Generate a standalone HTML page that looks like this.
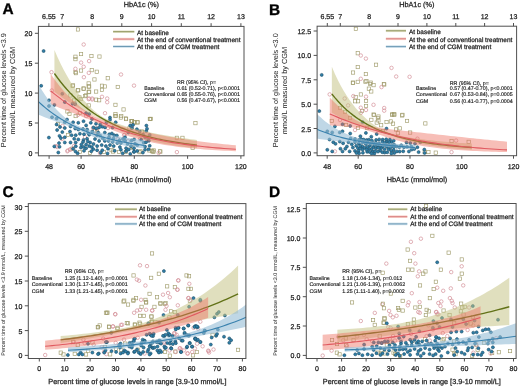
<!DOCTYPE html>
<html><head><meta charset="utf-8"><style>
html,body{margin:0;padding:0;background:#fff;}
svg{display:block;font-family:"Liberation Sans", sans-serif;will-change:transform;text-rendering:geometricPrecision;}
</style></head><body>
<svg width="520" height="386" viewBox="0 0 520 386">
<rect width="520" height="386" fill="#fff"/>
<rect x="76.3" y="27.8" width="3.3" height="3.3" fill="none" stroke="#a09c6c" stroke-width="0.65"/>
<rect x="79.4" y="52.4" width="3.3" height="3.3" fill="none" stroke="#a09c6c" stroke-width="0.65"/>
<rect x="89.8" y="54.4" width="3.3" height="3.3" fill="none" stroke="#a09c6c" stroke-width="0.65"/>
<rect x="97.8" y="54.9" width="3.3" height="3.3" fill="none" stroke="#a09c6c" stroke-width="0.65"/>
<rect x="73.8" y="55.1" width="3.3" height="3.3" fill="none" stroke="#a09c6c" stroke-width="0.65"/>
<rect x="73.8" y="57.5" width="3.3" height="3.3" fill="none" stroke="#a09c6c" stroke-width="0.65"/>
<rect x="79.4" y="68.9" width="3.3" height="3.3" fill="none" stroke="#a09c6c" stroke-width="0.65"/>
<rect x="90.1" y="68.5" width="3.3" height="3.3" fill="none" stroke="#a09c6c" stroke-width="0.65"/>
<rect x="95.1" y="70.1" width="3.3" height="3.3" fill="none" stroke="#a09c6c" stroke-width="0.65"/>
<rect x="73.8" y="70.5" width="3.3" height="3.3" fill="none" stroke="#a09c6c" stroke-width="0.65"/>
<rect x="70.9" y="84.1" width="3.3" height="3.3" fill="none" stroke="#a09c6c" stroke-width="0.65"/>
<rect x="76.1" y="88.8" width="3.3" height="3.3" fill="none" stroke="#a09c6c" stroke-width="0.65"/>
<rect x="82.2" y="87.0" width="3.3" height="3.3" fill="none" stroke="#a09c6c" stroke-width="0.65"/>
<rect x="87.0" y="81.8" width="3.3" height="3.3" fill="none" stroke="#a09c6c" stroke-width="0.65"/>
<rect x="87.0" y="84.8" width="3.3" height="3.3" fill="none" stroke="#a09c6c" stroke-width="0.65"/>
<rect x="87.0" y="90.5" width="3.3" height="3.3" fill="none" stroke="#a09c6c" stroke-width="0.65"/>
<rect x="94.5" y="89.9" width="3.3" height="3.3" fill="none" stroke="#a09c6c" stroke-width="0.65"/>
<rect x="92.8" y="77.8" width="3.3" height="3.3" fill="none" stroke="#a09c6c" stroke-width="0.65"/>
<rect x="74.3" y="71.5" width="3.3" height="3.3" fill="none" stroke="#a09c6c" stroke-width="0.65"/>
<rect x="83.6" y="94.5" width="3.3" height="3.3" fill="none" stroke="#a09c6c" stroke-width="0.65"/>
<rect x="94.5" y="98.0" width="3.3" height="3.3" fill="none" stroke="#a09c6c" stroke-width="0.65"/>
<rect x="79.0" y="97.4" width="3.3" height="3.3" fill="none" stroke="#a09c6c" stroke-width="0.65"/>
<rect x="87.0" y="103.8" width="3.3" height="3.3" fill="none" stroke="#a09c6c" stroke-width="0.65"/>
<rect x="106.1" y="76.6" width="3.3" height="3.3" fill="none" stroke="#a09c6c" stroke-width="0.65"/>
<rect x="100.3" y="84.1" width="3.3" height="3.3" fill="none" stroke="#a09c6c" stroke-width="0.65"/>
<rect x="103.2" y="84.8" width="3.3" height="3.3" fill="none" stroke="#a09c6c" stroke-width="0.65"/>
<rect x="100.3" y="88.2" width="3.3" height="3.3" fill="none" stroke="#a09c6c" stroke-width="0.65"/>
<rect x="116.1" y="85.3" width="3.3" height="3.3" fill="none" stroke="#a09c6c" stroke-width="0.65"/>
<rect x="97.5" y="98.6" width="3.3" height="3.3" fill="none" stroke="#a09c6c" stroke-width="0.65"/>
<rect x="113.8" y="103.2" width="3.3" height="3.3" fill="none" stroke="#a09c6c" stroke-width="0.65"/>
<rect x="121.9" y="107.8" width="3.3" height="3.3" fill="none" stroke="#a09c6c" stroke-width="0.65"/>
<rect x="70.8" y="147.0" width="3.3" height="3.3" fill="none" stroke="#a09c6c" stroke-width="0.65"/>
<rect x="113.8" y="112.6" width="3.3" height="3.3" fill="none" stroke="#a09c6c" stroke-width="0.65"/>
<rect x="113.8" y="114.4" width="3.3" height="3.3" fill="none" stroke="#a09c6c" stroke-width="0.65"/>
<rect x="119.6" y="114.4" width="3.3" height="3.3" fill="none" stroke="#a09c6c" stroke-width="0.65"/>
<rect x="124.3" y="116.8" width="3.3" height="3.3" fill="none" stroke="#a09c6c" stroke-width="0.65"/>
<rect x="130.2" y="119.6" width="3.3" height="3.3" fill="none" stroke="#a09c6c" stroke-width="0.65"/>
<rect x="132.4" y="120.8" width="3.3" height="3.3" fill="none" stroke="#a09c6c" stroke-width="0.65"/>
<rect x="135.9" y="120.8" width="3.3" height="3.3" fill="none" stroke="#a09c6c" stroke-width="0.65"/>
<rect x="148.2" y="117.3" width="3.3" height="3.3" fill="none" stroke="#a09c6c" stroke-width="0.65"/>
<rect x="127.8" y="126.7" width="3.3" height="3.3" fill="none" stroke="#a09c6c" stroke-width="0.65"/>
<rect x="140.7" y="130.2" width="3.3" height="3.3" fill="none" stroke="#a09c6c" stroke-width="0.65"/>
<rect x="130.2" y="145.3" width="3.3" height="3.3" fill="none" stroke="#a09c6c" stroke-width="0.65"/>
<rect x="137.8" y="150.5" width="3.3" height="3.3" fill="none" stroke="#a09c6c" stroke-width="0.65"/>
<rect x="147.7" y="148.8" width="3.3" height="3.3" fill="none" stroke="#a09c6c" stroke-width="0.65"/>
<rect x="152.2" y="148.8" width="3.3" height="3.3" fill="none" stroke="#a09c6c" stroke-width="0.65"/>
<rect x="111.5" y="149.9" width="3.3" height="3.3" fill="none" stroke="#a09c6c" stroke-width="0.65"/>
<rect x="193.8" y="121.5" width="3.3" height="3.3" fill="none" stroke="#a09c6c" stroke-width="0.65"/>
<rect x="175.2" y="136.2" width="3.3" height="3.3" fill="none" stroke="#a09c6c" stroke-width="0.65"/>
<rect x="180.8" y="136.2" width="3.3" height="3.3" fill="none" stroke="#a09c6c" stroke-width="0.65"/>
<rect x="191.0" y="146.2" width="3.3" height="3.3" fill="none" stroke="#a09c6c" stroke-width="0.65"/>
<rect x="150.8" y="149.7" width="3.3" height="3.3" fill="none" stroke="#a09c6c" stroke-width="0.65"/>
<rect x="158.7" y="149.9" width="3.3" height="3.3" fill="none" stroke="#a09c6c" stroke-width="0.65"/>
<rect x="149.2" y="117.2" width="3.3" height="3.3" fill="none" stroke="#a09c6c" stroke-width="0.65"/>
<rect x="114.0" y="114.3" width="3.3" height="3.3" fill="none" stroke="#a09c6c" stroke-width="0.65"/>
<rect x="119.2" y="115.9" width="3.3" height="3.3" fill="none" stroke="#a09c6c" stroke-width="0.65"/>
<rect x="124.4" y="117.4" width="3.3" height="3.3" fill="none" stroke="#a09c6c" stroke-width="0.65"/>
<rect x="129.7" y="119.5" width="3.3" height="3.3" fill="none" stroke="#a09c6c" stroke-width="0.65"/>
<rect x="95.4" y="129.9" width="3.3" height="3.3" fill="none" stroke="#a09c6c" stroke-width="0.65"/>
<rect x="109.9" y="148.5" width="3.3" height="3.3" fill="none" stroke="#a09c6c" stroke-width="0.65"/>
<rect x="148.5" y="117.4" width="3.3" height="3.3" fill="none" stroke="#a09c6c" stroke-width="0.65"/>
<rect x="130.4" y="119.5" width="3.3" height="3.3" fill="none" stroke="#a09c6c" stroke-width="0.65"/>
<rect x="133.0" y="120.6" width="3.3" height="3.3" fill="none" stroke="#a09c6c" stroke-width="0.65"/>
<rect x="135.7" y="120.6" width="3.3" height="3.3" fill="none" stroke="#a09c6c" stroke-width="0.65"/>
<rect x="140.2" y="129.9" width="3.3" height="3.3" fill="none" stroke="#a09c6c" stroke-width="0.65"/>
<rect x="138.8" y="149.7" width="3.3" height="3.3" fill="none" stroke="#a09c6c" stroke-width="0.65"/>
<rect x="150.2" y="149.2" width="3.3" height="3.3" fill="none" stroke="#a09c6c" stroke-width="0.65"/>
<rect x="151.7" y="150.2" width="3.3" height="3.3" fill="none" stroke="#a09c6c" stroke-width="0.65"/>
<rect x="158.3" y="149.7" width="3.3" height="3.3" fill="none" stroke="#a09c6c" stroke-width="0.65"/>
<rect x="71.4" y="83.8" width="3.3" height="3.3" fill="none" stroke="#a09c6c" stroke-width="0.65"/>
<rect x="76.6" y="88.5" width="3.3" height="3.3" fill="none" stroke="#a09c6c" stroke-width="0.65"/>
<rect x="81.8" y="86.9" width="3.3" height="3.3" fill="none" stroke="#a09c6c" stroke-width="0.65"/>
<rect x="87.5" y="84.9" width="3.3" height="3.3" fill="none" stroke="#a09c6c" stroke-width="0.65"/>
<rect x="87.5" y="90.0" width="3.3" height="3.3" fill="none" stroke="#a09c6c" stroke-width="0.65"/>
<rect x="84.4" y="93.8" width="3.3" height="3.3" fill="none" stroke="#a09c6c" stroke-width="0.65"/>
<rect x="77.8" y="95.8" width="3.3" height="3.3" fill="none" stroke="#a09c6c" stroke-width="0.65"/>
<rect x="68.8" y="93.8" width="3.3" height="3.3" fill="none" stroke="#a09c6c" stroke-width="0.65"/>
<rect x="72.5" y="98.8" width="3.3" height="3.3" fill="none" stroke="#a09c6c" stroke-width="0.65"/>
<rect x="78.2" y="111.3" width="3.3" height="3.3" fill="none" stroke="#a09c6c" stroke-width="0.65"/>
<rect x="74.0" y="114.4" width="3.3" height="3.3" fill="none" stroke="#a09c6c" stroke-width="0.65"/>
<rect x="65.8" y="109.8" width="3.3" height="3.3" fill="none" stroke="#a09c6c" stroke-width="0.65"/>
<rect x="67.8" y="112.3" width="3.3" height="3.3" fill="none" stroke="#a09c6c" stroke-width="0.65"/>
<rect x="93.3" y="129.3" width="3.3" height="3.3" fill="none" stroke="#a09c6c" stroke-width="0.65"/>
<rect x="78.3" y="150.3" width="3.3" height="3.3" fill="none" stroke="#a09c6c" stroke-width="0.65"/>
<rect x="102.3" y="150.3" width="3.3" height="3.3" fill="none" stroke="#a09c6c" stroke-width="0.65"/>
<rect x="117.3" y="150.3" width="3.3" height="3.3" fill="none" stroke="#a09c6c" stroke-width="0.65"/>
<rect x="124.3" y="150.3" width="3.3" height="3.3" fill="none" stroke="#a09c6c" stroke-width="0.65"/>
<rect x="131.3" y="146.3" width="3.3" height="3.3" fill="none" stroke="#a09c6c" stroke-width="0.65"/>
<rect x="88.3" y="151.3" width="3.3" height="3.3" fill="none" stroke="#a09c6c" stroke-width="0.65"/>
<rect x="66.3" y="133.3" width="3.3" height="3.3" fill="none" stroke="#a09c6c" stroke-width="0.65"/>
<rect x="56.4" y="122.3" width="3.3" height="3.3" fill="none" stroke="#a09c6c" stroke-width="0.65"/>
<circle cx="83.7" cy="44.5" r="1.75" fill="none" stroke="#d4909a" stroke-width="0.7"/>
<circle cx="81.1" cy="62.6" r="1.75" fill="none" stroke="#d4909a" stroke-width="0.7"/>
<circle cx="89.1" cy="61.1" r="1.75" fill="none" stroke="#d4909a" stroke-width="0.7"/>
<circle cx="83.7" cy="66.8" r="1.75" fill="none" stroke="#d4909a" stroke-width="0.7"/>
<circle cx="75.4" cy="68.8" r="1.75" fill="none" stroke="#d4909a" stroke-width="0.7"/>
<circle cx="51.5" cy="72.2" r="1.75" fill="none" stroke="#d4909a" stroke-width="0.7"/>
<circle cx="88.8" cy="72.9" r="1.75" fill="none" stroke="#d4909a" stroke-width="0.7"/>
<circle cx="121.0" cy="74.5" r="1.75" fill="none" stroke="#d4909a" stroke-width="0.7"/>
<circle cx="51.8" cy="90.5" r="1.75" fill="none" stroke="#d4909a" stroke-width="0.7"/>
<circle cx="88.7" cy="99.1" r="1.75" fill="none" stroke="#d4909a" stroke-width="0.7"/>
<circle cx="83.9" cy="77.2" r="1.75" fill="none" stroke="#d4909a" stroke-width="0.7"/>
<circle cx="92.2" cy="98.5" r="1.75" fill="none" stroke="#d4909a" stroke-width="0.7"/>
<circle cx="74.9" cy="103.1" r="1.75" fill="none" stroke="#d4909a" stroke-width="0.7"/>
<circle cx="134.0" cy="85.6" r="1.75" fill="none" stroke="#d4909a" stroke-width="0.7"/>
<circle cx="102.0" cy="96.8" r="1.75" fill="none" stroke="#d4909a" stroke-width="0.7"/>
<circle cx="107.2" cy="98.5" r="1.75" fill="none" stroke="#d4909a" stroke-width="0.7"/>
<circle cx="107.2" cy="102.2" r="1.75" fill="none" stroke="#d4909a" stroke-width="0.7"/>
<circle cx="57.2" cy="147.0" r="1.75" fill="none" stroke="#d4909a" stroke-width="0.7"/>
<circle cx="67.7" cy="150.5" r="1.75" fill="none" stroke="#d4909a" stroke-width="0.7"/>
<circle cx="70.0" cy="149.3" r="1.75" fill="none" stroke="#d4909a" stroke-width="0.7"/>
<circle cx="62.5" cy="126.0" r="1.75" fill="none" stroke="#d4909a" stroke-width="0.7"/>
<circle cx="105.0" cy="113.2" r="1.75" fill="none" stroke="#d4909a" stroke-width="0.7"/>
<circle cx="131.8" cy="126.6" r="1.75" fill="none" stroke="#d4909a" stroke-width="0.7"/>
<circle cx="124.8" cy="134.7" r="1.75" fill="none" stroke="#d4909a" stroke-width="0.7"/>
<circle cx="122.5" cy="129.5" r="1.75" fill="none" stroke="#d4909a" stroke-width="0.7"/>
<circle cx="176.9" cy="152.1" r="1.75" fill="none" stroke="#d4909a" stroke-width="0.7"/>
<circle cx="158.7" cy="152.9" r="1.75" fill="none" stroke="#d4909a" stroke-width="0.7"/>
<circle cx="67.4" cy="151.3" r="1.75" fill="none" stroke="#d4909a" stroke-width="0.7"/>
<circle cx="70.5" cy="149.7" r="1.75" fill="none" stroke="#d4909a" stroke-width="0.7"/>
<circle cx="56.0" cy="146.1" r="1.75" fill="none" stroke="#d4909a" stroke-width="0.7"/>
<circle cx="97.1" cy="128.5" r="1.75" fill="none" stroke="#d4909a" stroke-width="0.7"/>
<circle cx="131.3" cy="126.4" r="1.75" fill="none" stroke="#d4909a" stroke-width="0.7"/>
<circle cx="124.0" cy="135.2" r="1.75" fill="none" stroke="#d4909a" stroke-width="0.7"/>
<circle cx="131.0" cy="126.4" r="1.75" fill="none" stroke="#d4909a" stroke-width="0.7"/>
<circle cx="89.2" cy="98.5" r="1.75" fill="none" stroke="#d4909a" stroke-width="0.7"/>
<circle cx="92.3" cy="99.5" r="1.75" fill="none" stroke="#d4909a" stroke-width="0.7"/>
<circle cx="86.1" cy="116.1" r="1.75" fill="none" stroke="#d4909a" stroke-width="0.7"/>
<circle cx="77.8" cy="115.0" r="1.75" fill="none" stroke="#d4909a" stroke-width="0.7"/>
<circle cx="93.0" cy="128.0" r="1.75" fill="none" stroke="#d4909a" stroke-width="0.7"/>
<circle cx="96.0" cy="134.0" r="1.75" fill="none" stroke="#d4909a" stroke-width="0.7"/>
<circle cx="85.0" cy="137.0" r="1.75" fill="none" stroke="#d4909a" stroke-width="0.7"/>
<circle cx="108.0" cy="128.0" r="1.75" fill="none" stroke="#d4909a" stroke-width="0.7"/>
<circle cx="118.0" cy="139.0" r="1.75" fill="none" stroke="#d4909a" stroke-width="0.7"/>
<circle cx="74.0" cy="146.0" r="1.75" fill="none" stroke="#d4909a" stroke-width="0.7"/>
<circle cx="62.0" cy="139.0" r="1.75" fill="none" stroke="#d4909a" stroke-width="0.7"/>
<circle cx="100.0" cy="153.0" r="1.75" fill="none" stroke="#d4909a" stroke-width="0.7"/>
<circle cx="128.0" cy="141.0" r="1.75" fill="none" stroke="#d4909a" stroke-width="0.7"/>
<circle cx="140.0" cy="139.0" r="1.75" fill="none" stroke="#d4909a" stroke-width="0.7"/>
<circle cx="43.6" cy="51.0" r="1.5" fill="#2f7fa8" stroke="#1f4f68" stroke-width="0.6"/>
<circle cx="41.2" cy="85.8" r="1.5" fill="#2f7fa8" stroke="#1f4f68" stroke-width="0.6"/>
<circle cx="49.0" cy="100.3" r="1.5" fill="#2f7fa8" stroke="#1f4f68" stroke-width="0.6"/>
<circle cx="49.0" cy="106.0" r="1.5" fill="#2f7fa8" stroke="#1f4f68" stroke-width="0.6"/>
<circle cx="54.4" cy="104.9" r="1.5" fill="#2f7fa8" stroke="#1f4f68" stroke-width="0.6"/>
<circle cx="52.0" cy="117.2" r="1.5" fill="#2f7fa8" stroke="#1f4f68" stroke-width="0.6"/>
<circle cx="54.3" cy="146.4" r="1.5" fill="#2f7fa8" stroke="#1f4f68" stroke-width="0.6"/>
<circle cx="48.9" cy="137.6" r="1.5" fill="#2f7fa8" stroke="#1f4f68" stroke-width="0.6"/>
<circle cx="56.6" cy="118.6" r="1.5" fill="#2f7fa8" stroke="#1f4f68" stroke-width="0.6"/>
<circle cx="64.8" cy="122.3" r="1.5" fill="#2f7fa8" stroke="#1f4f68" stroke-width="0.6"/>
<circle cx="73.1" cy="122.3" r="1.5" fill="#2f7fa8" stroke="#1f4f68" stroke-width="0.6"/>
<circle cx="78.3" cy="122.8" r="1.5" fill="#2f7fa8" stroke="#1f4f68" stroke-width="0.6"/>
<circle cx="83.5" cy="121.2" r="1.5" fill="#2f7fa8" stroke="#1f4f68" stroke-width="0.6"/>
<circle cx="86.1" cy="125.4" r="1.5" fill="#2f7fa8" stroke="#1f4f68" stroke-width="0.6"/>
<circle cx="90.8" cy="122.8" r="1.5" fill="#2f7fa8" stroke="#1f4f68" stroke-width="0.6"/>
<circle cx="64.8" cy="128.0" r="1.5" fill="#2f7fa8" stroke="#1f4f68" stroke-width="0.6"/>
<circle cx="70.5" cy="126.4" r="1.5" fill="#2f7fa8" stroke="#1f4f68" stroke-width="0.6"/>
<circle cx="57.1" cy="130.0" r="1.5" fill="#2f7fa8" stroke="#1f4f68" stroke-width="0.6"/>
<circle cx="62.3" cy="132.1" r="1.5" fill="#2f7fa8" stroke="#1f4f68" stroke-width="0.6"/>
<circle cx="70.0" cy="131.6" r="1.5" fill="#2f7fa8" stroke="#1f4f68" stroke-width="0.6"/>
<circle cx="75.2" cy="128.5" r="1.5" fill="#2f7fa8" stroke="#1f4f68" stroke-width="0.6"/>
<circle cx="78.3" cy="129.5" r="1.5" fill="#2f7fa8" stroke="#1f4f68" stroke-width="0.6"/>
<circle cx="83.0" cy="129.0" r="1.5" fill="#2f7fa8" stroke="#1f4f68" stroke-width="0.6"/>
<circle cx="87.1" cy="129.5" r="1.5" fill="#2f7fa8" stroke="#1f4f68" stroke-width="0.6"/>
<circle cx="71.6" cy="135.2" r="1.5" fill="#2f7fa8" stroke="#1f4f68" stroke-width="0.6"/>
<circle cx="75.7" cy="135.2" r="1.5" fill="#2f7fa8" stroke="#1f4f68" stroke-width="0.6"/>
<circle cx="79.9" cy="133.7" r="1.5" fill="#2f7fa8" stroke="#1f4f68" stroke-width="0.6"/>
<circle cx="84.0" cy="134.2" r="1.5" fill="#2f7fa8" stroke="#1f4f68" stroke-width="0.6"/>
<circle cx="89.2" cy="134.7" r="1.5" fill="#2f7fa8" stroke="#1f4f68" stroke-width="0.6"/>
<circle cx="92.3" cy="131.6" r="1.5" fill="#2f7fa8" stroke="#1f4f68" stroke-width="0.6"/>
<circle cx="64.8" cy="137.3" r="1.5" fill="#2f7fa8" stroke="#1f4f68" stroke-width="0.6"/>
<circle cx="74.2" cy="138.8" r="1.5" fill="#2f7fa8" stroke="#1f4f68" stroke-width="0.6"/>
<circle cx="78.3" cy="139.4" r="1.5" fill="#2f7fa8" stroke="#1f4f68" stroke-width="0.6"/>
<circle cx="83.5" cy="139.9" r="1.5" fill="#2f7fa8" stroke="#1f4f68" stroke-width="0.6"/>
<circle cx="87.1" cy="138.8" r="1.5" fill="#2f7fa8" stroke="#1f4f68" stroke-width="0.6"/>
<circle cx="64.8" cy="142.5" r="1.5" fill="#2f7fa8" stroke="#1f4f68" stroke-width="0.6"/>
<circle cx="70.5" cy="142.5" r="1.5" fill="#2f7fa8" stroke="#1f4f68" stroke-width="0.6"/>
<circle cx="75.7" cy="142.5" r="1.5" fill="#2f7fa8" stroke="#1f4f68" stroke-width="0.6"/>
<circle cx="83.0" cy="141.9" r="1.5" fill="#2f7fa8" stroke="#1f4f68" stroke-width="0.6"/>
<circle cx="90.2" cy="142.5" r="1.5" fill="#2f7fa8" stroke="#1f4f68" stroke-width="0.6"/>
<circle cx="73.1" cy="148.7" r="1.5" fill="#2f7fa8" stroke="#1f4f68" stroke-width="0.6"/>
<circle cx="80.9" cy="147.6" r="1.5" fill="#2f7fa8" stroke="#1f4f68" stroke-width="0.6"/>
<circle cx="86.1" cy="148.2" r="1.5" fill="#2f7fa8" stroke="#1f4f68" stroke-width="0.6"/>
<circle cx="89.2" cy="146.1" r="1.5" fill="#2f7fa8" stroke="#1f4f68" stroke-width="0.6"/>
<circle cx="93.3" cy="149.2" r="1.5" fill="#2f7fa8" stroke="#1f4f68" stroke-width="0.6"/>
<circle cx="84.0" cy="150.8" r="1.5" fill="#2f7fa8" stroke="#1f4f68" stroke-width="0.6"/>
<circle cx="91.3" cy="151.3" r="1.5" fill="#2f7fa8" stroke="#1f4f68" stroke-width="0.6"/>
<circle cx="88.2" cy="133.1" r="1.5" fill="#2f7fa8" stroke="#1f4f68" stroke-width="0.6"/>
<circle cx="81.4" cy="144.5" r="1.5" fill="#2f7fa8" stroke="#1f4f68" stroke-width="0.6"/>
<circle cx="86.1" cy="144.5" r="1.5" fill="#2f7fa8" stroke="#1f4f68" stroke-width="0.6"/>
<circle cx="110.0" cy="117.6" r="1.5" fill="#2f7fa8" stroke="#1f4f68" stroke-width="0.6"/>
<circle cx="110.0" cy="119.7" r="1.5" fill="#2f7fa8" stroke="#1f4f68" stroke-width="0.6"/>
<circle cx="115.7" cy="122.3" r="1.5" fill="#2f7fa8" stroke="#1f4f68" stroke-width="0.6"/>
<circle cx="99.1" cy="127.4" r="1.5" fill="#2f7fa8" stroke="#1f4f68" stroke-width="0.6"/>
<circle cx="104.8" cy="132.6" r="1.5" fill="#2f7fa8" stroke="#1f4f68" stroke-width="0.6"/>
<circle cx="97.1" cy="135.2" r="1.5" fill="#2f7fa8" stroke="#1f4f68" stroke-width="0.6"/>
<circle cx="100.2" cy="135.7" r="1.5" fill="#2f7fa8" stroke="#1f4f68" stroke-width="0.6"/>
<circle cx="114.2" cy="135.2" r="1.5" fill="#2f7fa8" stroke="#1f4f68" stroke-width="0.6"/>
<circle cx="109.0" cy="137.3" r="1.5" fill="#2f7fa8" stroke="#1f4f68" stroke-width="0.6"/>
<circle cx="102.8" cy="138.3" r="1.5" fill="#2f7fa8" stroke="#1f4f68" stroke-width="0.6"/>
<circle cx="99.1" cy="140.9" r="1.5" fill="#2f7fa8" stroke="#1f4f68" stroke-width="0.6"/>
<circle cx="104.8" cy="140.9" r="1.5" fill="#2f7fa8" stroke="#1f4f68" stroke-width="0.6"/>
<circle cx="108.5" cy="140.9" r="1.5" fill="#2f7fa8" stroke="#1f4f68" stroke-width="0.6"/>
<circle cx="112.6" cy="141.9" r="1.5" fill="#2f7fa8" stroke="#1f4f68" stroke-width="0.6"/>
<circle cx="117.3" cy="143.0" r="1.5" fill="#2f7fa8" stroke="#1f4f68" stroke-width="0.6"/>
<circle cx="120.9" cy="143.0" r="1.5" fill="#2f7fa8" stroke="#1f4f68" stroke-width="0.6"/>
<circle cx="97.1" cy="146.1" r="1.5" fill="#2f7fa8" stroke="#1f4f68" stroke-width="0.6"/>
<circle cx="101.7" cy="145.1" r="1.5" fill="#2f7fa8" stroke="#1f4f68" stroke-width="0.6"/>
<circle cx="105.9" cy="146.1" r="1.5" fill="#2f7fa8" stroke="#1f4f68" stroke-width="0.6"/>
<circle cx="110.0" cy="145.1" r="1.5" fill="#2f7fa8" stroke="#1f4f68" stroke-width="0.6"/>
<circle cx="113.7" cy="146.1" r="1.5" fill="#2f7fa8" stroke="#1f4f68" stroke-width="0.6"/>
<circle cx="119.9" cy="147.1" r="1.5" fill="#2f7fa8" stroke="#1f4f68" stroke-width="0.6"/>
<circle cx="97.1" cy="150.2" r="1.5" fill="#2f7fa8" stroke="#1f4f68" stroke-width="0.6"/>
<circle cx="102.3" cy="150.2" r="1.5" fill="#2f7fa8" stroke="#1f4f68" stroke-width="0.6"/>
<circle cx="108.0" cy="148.7" r="1.5" fill="#2f7fa8" stroke="#1f4f68" stroke-width="0.6"/>
<circle cx="114.7" cy="150.8" r="1.5" fill="#2f7fa8" stroke="#1f4f68" stroke-width="0.6"/>
<circle cx="120.9" cy="149.7" r="1.5" fill="#2f7fa8" stroke="#1f4f68" stroke-width="0.6"/>
<circle cx="126.1" cy="148.2" r="1.5" fill="#2f7fa8" stroke="#1f4f68" stroke-width="0.6"/>
<circle cx="126.1" cy="151.3" r="1.5" fill="#2f7fa8" stroke="#1f4f68" stroke-width="0.6"/>
<circle cx="133.9" cy="151.8" r="1.5" fill="#2f7fa8" stroke="#1f4f68" stroke-width="0.6"/>
<circle cx="127.6" cy="144.0" r="1.5" fill="#2f7fa8" stroke="#1f4f68" stroke-width="0.6"/>
<circle cx="134.1" cy="139.4" r="1.5" fill="#2f7fa8" stroke="#1f4f68" stroke-width="0.6"/>
<circle cx="137.3" cy="145.1" r="1.5" fill="#2f7fa8" stroke="#1f4f68" stroke-width="0.6"/>
<circle cx="145.0" cy="146.6" r="1.5" fill="#2f7fa8" stroke="#1f4f68" stroke-width="0.6"/>
<circle cx="145.0" cy="149.7" r="1.5" fill="#2f7fa8" stroke="#1f4f68" stroke-width="0.6"/>
<circle cx="134.1" cy="151.8" r="1.5" fill="#2f7fa8" stroke="#1f4f68" stroke-width="0.6"/>
<circle cx="131.0" cy="146.1" r="1.5" fill="#2f7fa8" stroke="#1f4f68" stroke-width="0.6"/>
<circle cx="56.6" cy="124.5" r="1.5" fill="#2f7fa8" stroke="#1f4f68" stroke-width="0.6"/>
<circle cx="60.0" cy="127.0" r="1.5" fill="#2f7fa8" stroke="#1f4f68" stroke-width="0.6"/>
<circle cx="67.0" cy="119.5" r="1.5" fill="#2f7fa8" stroke="#1f4f68" stroke-width="0.6"/>
<circle cx="93.5" cy="127.5" r="1.5" fill="#2f7fa8" stroke="#1f4f68" stroke-width="0.6"/>
<circle cx="95.0" cy="139.0" r="1.5" fill="#2f7fa8" stroke="#1f4f68" stroke-width="0.6"/>
<circle cx="93.5" cy="144.0" r="1.5" fill="#2f7fa8" stroke="#1f4f68" stroke-width="0.6"/>
<circle cx="123.0" cy="139.0" r="1.5" fill="#2f7fa8" stroke="#1f4f68" stroke-width="0.6"/>
<circle cx="92.0" cy="119.0" r="1.5" fill="#2f7fa8" stroke="#1f4f68" stroke-width="0.6"/>
<circle cx="62.3" cy="93.8" r="1.5" fill="#2f7fa8" stroke="#1f4f68" stroke-width="0.6"/>
<circle cx="64.8" cy="102.1" r="1.5" fill="#2f7fa8" stroke="#1f4f68" stroke-width="0.6"/>
<circle cx="72.6" cy="103.7" r="1.5" fill="#2f7fa8" stroke="#1f4f68" stroke-width="0.6"/>
<circle cx="75.2" cy="104.2" r="1.5" fill="#2f7fa8" stroke="#1f4f68" stroke-width="0.6"/>
<circle cx="86.1" cy="113.0" r="1.5" fill="#2f7fa8" stroke="#1f4f68" stroke-width="0.6"/>
<circle cx="89.2" cy="114.0" r="1.5" fill="#2f7fa8" stroke="#1f4f68" stroke-width="0.6"/>
<circle cx="143.2" cy="134.7" r="1.5" fill="#2f7fa8" stroke="#1f4f68" stroke-width="0.6"/>
<circle cx="111.9" cy="133.5" r="1.5" fill="#2f7fa8" stroke="#1f4f68" stroke-width="0.6"/>
<circle cx="149.7" cy="134.9" r="1.5" fill="#2f7fa8" stroke="#1f4f68" stroke-width="0.6"/>
<circle cx="148.5" cy="149.3" r="1.5" fill="#2f7fa8" stroke="#1f4f68" stroke-width="0.6"/>
<circle cx="91.8" cy="147.1" r="1.5" fill="#2f7fa8" stroke="#1f4f68" stroke-width="0.6"/>
<circle cx="75.8" cy="146.3" r="1.5" fill="#2f7fa8" stroke="#1f4f68" stroke-width="0.6"/>
<circle cx="134.0" cy="148.2" r="1.5" fill="#2f7fa8" stroke="#1f4f68" stroke-width="0.6"/>
<circle cx="112.5" cy="127.6" r="1.5" fill="#2f7fa8" stroke="#1f4f68" stroke-width="0.6"/>
<circle cx="59.5" cy="135.9" r="1.5" fill="#2f7fa8" stroke="#1f4f68" stroke-width="0.6"/>
<circle cx="96.2" cy="128.4" r="1.5" fill="#2f7fa8" stroke="#1f4f68" stroke-width="0.6"/>
<circle cx="146.4" cy="125.6" r="1.5" fill="#2f7fa8" stroke="#1f4f68" stroke-width="0.6"/>
<circle cx="141.2" cy="139.6" r="1.5" fill="#2f7fa8" stroke="#1f4f68" stroke-width="0.6"/>
<circle cx="130.3" cy="153.9" r="1.5" fill="#2f7fa8" stroke="#1f4f68" stroke-width="0.6"/>
<circle cx="143.7" cy="142.6" r="1.5" fill="#2f7fa8" stroke="#1f4f68" stroke-width="0.6"/>
<circle cx="136.9" cy="129.2" r="1.5" fill="#2f7fa8" stroke="#1f4f68" stroke-width="0.6"/>
<circle cx="125.1" cy="140.8" r="1.5" fill="#2f7fa8" stroke="#1f4f68" stroke-width="0.6"/>
<circle cx="77.6" cy="153.3" r="1.5" fill="#2f7fa8" stroke="#1f4f68" stroke-width="0.6"/>
<circle cx="148.3" cy="139.6" r="1.5" fill="#2f7fa8" stroke="#1f4f68" stroke-width="0.6"/>
<circle cx="139.6" cy="131.4" r="1.5" fill="#2f7fa8" stroke="#1f4f68" stroke-width="0.6"/>
<circle cx="102.3" cy="126.7" r="1.5" fill="#2f7fa8" stroke="#1f4f68" stroke-width="0.6"/>
<circle cx="116.9" cy="135.5" r="1.5" fill="#2f7fa8" stroke="#1f4f68" stroke-width="0.6"/>
<circle cx="130.2" cy="125.6" r="1.5" fill="#2f7fa8" stroke="#1f4f68" stroke-width="0.6"/>
<circle cx="100.7" cy="152.7" r="1.5" fill="#2f7fa8" stroke="#1f4f68" stroke-width="0.6"/>
<circle cx="59.0" cy="143.1" r="1.5" fill="#2f7fa8" stroke="#1f4f68" stroke-width="0.6"/>
<circle cx="146.3" cy="131.1" r="1.5" fill="#2f7fa8" stroke="#1f4f68" stroke-width="0.6"/>
<circle cx="125.0" cy="137.3" r="1.5" fill="#2f7fa8" stroke="#1f4f68" stroke-width="0.6"/>
<circle cx="59.5" cy="146.8" r="1.5" fill="#2f7fa8" stroke="#1f4f68" stroke-width="0.6"/>
<circle cx="83.7" cy="147.0" r="1.5" fill="#2f7fa8" stroke="#1f4f68" stroke-width="0.6"/>
<circle cx="87.8" cy="141.4" r="1.5" fill="#2f7fa8" stroke="#1f4f68" stroke-width="0.6"/>
<circle cx="96.0" cy="123.7" r="1.5" fill="#2f7fa8" stroke="#1f4f68" stroke-width="0.6"/>
<circle cx="128.4" cy="132.5" r="1.5" fill="#2f7fa8" stroke="#1f4f68" stroke-width="0.6"/>
<circle cx="58.3" cy="152.5" r="1.5" fill="#2f7fa8" stroke="#1f4f68" stroke-width="0.6"/>
<circle cx="100.2" cy="124.4" r="1.5" fill="#2f7fa8" stroke="#1f4f68" stroke-width="0.6"/>
<circle cx="113.5" cy="138.4" r="1.5" fill="#2f7fa8" stroke="#1f4f68" stroke-width="0.6"/>
<circle cx="145.2" cy="137.6" r="1.5" fill="#2f7fa8" stroke="#1f4f68" stroke-width="0.6"/>
<circle cx="147.0" cy="128.7" r="1.5" fill="#2f7fa8" stroke="#1f4f68" stroke-width="0.6"/>
<circle cx="132.0" cy="128.2" r="1.5" fill="#2f7fa8" stroke="#1f4f68" stroke-width="0.6"/>
<circle cx="133.0" cy="124.9" r="1.5" fill="#2f7fa8" stroke="#1f4f68" stroke-width="0.6"/>
<circle cx="106.5" cy="122.3" r="1.5" fill="#2f7fa8" stroke="#1f4f68" stroke-width="0.6"/>
<circle cx="109.3" cy="134.3" r="1.5" fill="#2f7fa8" stroke="#1f4f68" stroke-width="0.6"/>
<circle cx="60.9" cy="138.1" r="1.5" fill="#2f7fa8" stroke="#1f4f68" stroke-width="0.6"/>
<circle cx="98.2" cy="132.6" r="1.5" fill="#2f7fa8" stroke="#1f4f68" stroke-width="0.6"/>
<circle cx="75.5" cy="151.5" r="1.5" fill="#2f7fa8" stroke="#1f4f68" stroke-width="0.6"/>
<circle cx="135.1" cy="143.8" r="1.5" fill="#2f7fa8" stroke="#1f4f68" stroke-width="0.6"/>
<circle cx="105.0" cy="127.4" r="1.5" fill="#2f7fa8" stroke="#1f4f68" stroke-width="0.6"/>
<circle cx="148.9" cy="140.8" r="1.5" fill="#2f7fa8" stroke="#1f4f68" stroke-width="0.6"/>
<circle cx="146.0" cy="142.2" r="1.5" fill="#2f7fa8" stroke="#1f4f68" stroke-width="0.6"/>
<circle cx="149.7" cy="145.8" r="1.5" fill="#2f7fa8" stroke="#1f4f68" stroke-width="0.6"/>
<circle cx="131.5" cy="140.5" r="1.5" fill="#2f7fa8" stroke="#1f4f68" stroke-width="0.6"/>
<circle cx="119.4" cy="140.2" r="1.5" fill="#2f7fa8" stroke="#1f4f68" stroke-width="0.6"/>
<circle cx="142.9" cy="152.6" r="1.5" fill="#2f7fa8" stroke="#1f4f68" stroke-width="0.6"/>
<circle cx="128.8" cy="149.4" r="1.5" fill="#2f7fa8" stroke="#1f4f68" stroke-width="0.6"/>
<circle cx="137.2" cy="150.9" r="1.5" fill="#2f7fa8" stroke="#1f4f68" stroke-width="0.6"/>
<circle cx="107.5" cy="153.4" r="1.5" fill="#2f7fa8" stroke="#1f4f68" stroke-width="0.6"/>
<circle cx="122.7" cy="153.3" r="1.5" fill="#2f7fa8" stroke="#1f4f68" stroke-width="0.6"/>
<path d="M54.43,49.89 L57.46,56.92 L60.49,63.44 L63.53,69.50 L66.56,75.12 L69.59,80.34 L72.62,85.19 L75.65,89.68 L78.69,93.86 L81.72,97.73 L84.75,101.31 L87.78,104.62 L90.82,107.67 L93.85,110.47 L96.88,112.99 L99.91,115.23 L102.95,117.16 L105.98,118.82 L109.01,120.26 L112.04,121.53 L115.08,122.70 L118.11,123.78 L121.14,124.80 L124.17,125.76 L127.21,126.68 L130.24,127.55 L133.27,128.38 L136.30,129.18 L139.34,129.94 L142.37,130.67 L145.40,131.37 L148.43,132.04 L151.47,132.69 L154.50,133.31 L157.53,133.90 L160.56,134.48 L163.60,135.03 L166.63,135.56 L169.66,136.07 L172.69,136.56 L175.73,137.03 L178.76,137.49 L181.79,137.93 L184.82,138.35 L187.85,138.75 L190.89,139.15 L193.92,139.52 L196.95,139.89 L196.95,148.18 L193.92,147.88 L190.89,147.57 L187.85,147.24 L184.82,146.89 L181.79,146.52 L178.76,146.11 L175.73,145.69 L172.69,145.23 L169.66,144.74 L166.63,144.22 L163.60,143.67 L160.56,143.07 L157.53,142.44 L154.50,141.76 L151.47,141.04 L148.43,140.26 L145.40,139.44 L142.37,138.55 L139.34,137.61 L136.30,136.60 L133.27,135.52 L130.24,134.37 L127.21,133.14 L124.17,131.83 L121.14,130.43 L118.11,128.95 L115.08,127.38 L112.04,125.73 L109.01,124.02 L105.98,122.28 L102.95,120.57 L99.91,118.93 L96.88,117.36 L93.85,115.83 L90.82,114.31 L87.78,112.77 L84.75,111.20 L81.72,109.58 L78.69,107.90 L75.65,106.16 L72.62,104.35 L69.59,102.46 L66.56,100.49 L63.53,98.44 L60.49,96.29 L57.46,94.05 L54.43,91.71 Z" fill="#c4c282" fill-opacity="0.52" stroke="none"/>
<path d="M54.43,73.51 L57.46,77.74 L60.49,81.74 L63.53,85.50 L66.56,89.05 L69.59,92.40 L72.62,95.56 L75.65,98.54 L78.69,101.35 L81.72,104.01 L84.75,106.52 L87.78,108.89 L90.82,111.12 L93.85,113.24 L96.88,115.24 L99.91,117.12 L102.95,118.91 L105.98,120.60 L109.01,122.20 L112.04,123.71 L115.08,125.14 L118.11,126.49 L121.14,127.77 L124.17,128.99 L127.21,130.14 L130.24,131.22 L133.27,132.26 L136.30,133.23 L139.34,134.16 L142.37,135.04 L145.40,135.87 L148.43,136.66 L151.47,137.41 L154.50,138.13 L157.53,138.80 L160.56,139.44 L163.60,140.05 L166.63,140.63 L169.66,141.18 L172.69,141.70 L175.73,142.20 L178.76,142.67 L181.79,143.12 L184.82,143.55 L187.85,143.95 L190.89,144.34 L193.92,144.71 L196.95,145.06" fill="none" stroke="#627218" stroke-width="1.35" stroke-linejoin="round"/>
<path d="M50.70,74.10 L54.64,79.60 L58.58,84.71 L62.52,89.47 L66.46,93.89 L70.39,97.99 L74.33,101.77 L78.27,105.25 L82.21,108.44 L86.15,111.31 L90.09,113.88 L94.03,116.13 L97.97,118.08 L101.91,119.78 L105.85,121.29 L109.79,122.66 L113.73,123.92 L117.67,125.11 L121.61,126.23 L125.55,127.29 L129.48,128.32 L133.42,129.30 L137.36,130.24 L141.30,131.15 L145.24,132.02 L149.18,132.86 L153.12,133.68 L157.06,134.46 L161.00,135.22 L164.94,135.95 L168.88,136.65 L172.82,137.33 L176.76,137.99 L180.70,138.62 L184.64,139.23 L188.57,139.81 L192.51,140.38 L196.45,140.92 L200.39,141.45 L204.33,141.95 L208.27,142.44 L212.21,142.90 L216.15,143.35 L220.09,143.78 L224.03,144.20 L227.97,144.60 L231.91,144.98 L235.85,145.35 L235.85,151.17 L231.91,151.01 L227.97,150.84 L224.03,150.65 L220.09,150.45 L216.15,150.22 L212.21,149.98 L208.27,149.72 L204.33,149.43 L200.39,149.12 L196.45,148.79 L192.51,148.43 L188.57,148.03 L184.64,147.60 L180.70,147.14 L176.76,146.64 L172.82,146.10 L168.88,145.51 L164.94,144.88 L161.00,144.19 L157.06,143.45 L153.12,142.65 L149.18,141.79 L145.24,140.86 L141.30,139.86 L137.36,138.78 L133.42,137.62 L129.48,136.38 L125.55,135.04 L121.61,133.61 L117.67,132.09 L113.73,130.48 L109.79,128.77 L105.85,127.00 L101.91,125.18 L97.97,123.35 L94.03,121.56 L90.09,119.85 L86.15,118.21 L82.21,116.63 L78.27,115.09 L74.33,113.57 L70.39,112.04 L66.46,110.50 L62.52,108.95 L58.58,107.38 L54.64,105.78 L50.70,104.15 Z" fill="#ee7262" fill-opacity="0.46" stroke="none"/>
<path d="M50.70,90.92 L54.64,94.13 L58.58,97.18 L62.52,100.10 L66.46,102.88 L70.39,105.53 L74.33,108.05 L78.27,110.46 L82.21,112.74 L86.15,114.92 L90.09,116.99 L94.03,118.95 L97.97,120.82 L101.91,122.60 L105.85,124.29 L109.79,125.89 L113.73,127.41 L117.67,128.85 L121.61,130.22 L125.55,131.52 L129.48,132.74 L133.42,133.91 L137.36,135.01 L141.30,136.06 L145.24,137.05 L149.18,137.98 L153.12,138.86 L157.06,139.70 L161.00,140.49 L164.94,141.24 L168.88,141.94 L172.82,142.61 L176.76,143.24 L180.70,143.83 L184.64,144.39 L188.57,144.92 L192.51,145.41 L196.45,145.88 L200.39,146.32 L204.33,146.74 L208.27,147.13 L212.21,147.50 L216.15,147.84 L220.09,148.17 L224.03,148.48 L227.97,148.76 L231.91,149.03 L235.85,149.29" fill="none" stroke="#e05a60" stroke-width="1.1" stroke-linejoin="round"/>
<path d="M38.44,84.41 L40.70,88.22 L42.96,91.82 L45.21,95.21 L47.47,98.40 L49.72,101.41 L51.98,104.24 L54.24,106.91 L56.49,109.42 L58.75,111.77 L61.00,113.98 L63.26,116.04 L65.51,117.95 L67.77,119.72 L70.03,121.35 L72.28,122.82 L74.54,124.13 L76.79,125.29 L79.05,126.31 L81.31,127.21 L83.56,128.02 L85.82,128.76 L88.07,129.45 L90.33,130.09 L92.59,130.70 L94.84,131.28 L97.10,131.84 L99.35,132.37 L101.61,132.89 L103.87,133.39 L106.12,133.87 L108.38,134.34 L110.63,134.80 L112.89,135.24 L115.14,135.67 L117.40,136.09 L119.66,136.50 L121.91,136.90 L124.17,137.29 L126.42,137.66 L128.68,138.03 L130.94,138.39 L133.19,138.74 L135.45,139.08 L137.70,139.41 L139.96,139.74 L142.22,140.05 L144.47,140.36 L144.47,148.49 L142.22,148.23 L139.96,147.95 L137.70,147.65 L135.45,147.34 L133.19,147.01 L130.94,146.66 L128.68,146.29 L126.42,145.90 L124.17,145.48 L121.91,145.04 L119.66,144.58 L117.40,144.09 L115.14,143.57 L112.89,143.02 L110.63,142.43 L108.38,141.82 L106.12,141.17 L103.87,140.48 L101.61,139.75 L99.35,138.99 L97.10,138.18 L94.84,137.33 L92.59,136.44 L90.33,135.51 L88.07,134.54 L85.82,133.53 L83.56,132.50 L81.31,131.46 L79.05,130.41 L76.79,129.39 L74.54,128.41 L72.28,127.47 L70.03,126.58 L67.77,125.73 L65.51,124.90 L63.26,124.09 L61.00,123.28 L58.75,122.47 L56.49,121.65 L54.24,120.83 L51.98,119.99 L49.72,119.14 L47.47,118.28 L45.21,117.40 L42.96,116.50 L40.70,115.58 L38.44,114.64 Z" fill="#94bdd6" fill-opacity="0.6" stroke="none"/>
<path d="M38.44,101.71 L40.70,103.77 L42.96,105.75 L45.21,107.64 L47.47,109.46 L49.72,111.21 L51.98,112.88 L54.24,114.49 L56.49,116.04 L58.75,117.52 L61.00,118.94 L63.26,120.31 L65.51,121.62 L67.77,122.88 L70.03,124.08 L72.28,125.24 L74.54,126.36 L76.79,127.42 L79.05,128.45 L81.31,129.43 L83.56,130.37 L85.82,131.28 L88.07,132.15 L90.33,132.98 L92.59,133.78 L94.84,134.55 L97.10,135.29 L99.35,136.00 L101.61,136.68 L103.87,137.33 L106.12,137.96 L108.38,138.56 L110.63,139.13 L112.89,139.69 L115.14,140.22 L117.40,140.73 L119.66,141.22 L121.91,141.69 L124.17,142.14 L126.42,142.57 L128.68,142.99 L130.94,143.39 L133.19,143.77 L135.45,144.14 L137.70,144.49 L139.96,144.83 L142.22,145.15 L144.47,145.46" fill="none" stroke="#3a82ae" stroke-width="1.1" stroke-linejoin="round"/>
<rect x="354.2" y="27.2" width="3.3" height="3.3" fill="none" stroke="#a09c6c" stroke-width="0.65"/>
<rect x="356.1" y="51.6" width="3.3" height="3.3" fill="none" stroke="#a09c6c" stroke-width="0.65"/>
<rect x="374.4" y="63.1" width="3.3" height="3.3" fill="none" stroke="#a09c6c" stroke-width="0.65"/>
<rect x="356.1" y="65.4" width="3.3" height="3.3" fill="none" stroke="#a09c6c" stroke-width="0.65"/>
<rect x="351.4" y="70.9" width="3.3" height="3.3" fill="none" stroke="#a09c6c" stroke-width="0.65"/>
<rect x="364.2" y="72.4" width="3.3" height="3.3" fill="none" stroke="#a09c6c" stroke-width="0.65"/>
<rect x="351.4" y="81.0" width="3.3" height="3.3" fill="none" stroke="#a09c6c" stroke-width="0.65"/>
<rect x="356.1" y="80.2" width="3.3" height="3.3" fill="none" stroke="#a09c6c" stroke-width="0.65"/>
<rect x="364.8" y="79.4" width="3.3" height="3.3" fill="none" stroke="#a09c6c" stroke-width="0.65"/>
<rect x="369.0" y="81.0" width="3.3" height="3.3" fill="none" stroke="#a09c6c" stroke-width="0.65"/>
<rect x="382.2" y="82.5" width="3.3" height="3.3" fill="none" stroke="#a09c6c" stroke-width="0.65"/>
<rect x="351.2" y="81.2" width="3.3" height="3.3" fill="none" stroke="#a09c6c" stroke-width="0.65"/>
<rect x="363.8" y="80.0" width="3.3" height="3.3" fill="none" stroke="#a09c6c" stroke-width="0.65"/>
<rect x="368.4" y="82.3" width="3.3" height="3.3" fill="none" stroke="#a09c6c" stroke-width="0.65"/>
<rect x="371.9" y="83.5" width="3.3" height="3.3" fill="none" stroke="#a09c6c" stroke-width="0.65"/>
<rect x="367.2" y="87.0" width="3.3" height="3.3" fill="none" stroke="#a09c6c" stroke-width="0.65"/>
<rect x="369.6" y="89.8" width="3.3" height="3.3" fill="none" stroke="#a09c6c" stroke-width="0.65"/>
<rect x="359.2" y="92.8" width="3.3" height="3.3" fill="none" stroke="#a09c6c" stroke-width="0.65"/>
<rect x="354.0" y="95.6" width="3.3" height="3.3" fill="none" stroke="#a09c6c" stroke-width="0.65"/>
<rect x="353.5" y="99.6" width="3.3" height="3.3" fill="none" stroke="#a09c6c" stroke-width="0.65"/>
<rect x="356.4" y="99.6" width="3.3" height="3.3" fill="none" stroke="#a09c6c" stroke-width="0.65"/>
<rect x="364.4" y="104.3" width="3.3" height="3.3" fill="none" stroke="#a09c6c" stroke-width="0.65"/>
<rect x="371.9" y="112.9" width="3.3" height="3.3" fill="none" stroke="#a09c6c" stroke-width="0.65"/>
<rect x="364.4" y="99.3" width="3.3" height="3.3" fill="none" stroke="#a09c6c" stroke-width="0.65"/>
<rect x="382.6" y="82.8" width="3.3" height="3.3" fill="none" stroke="#a09c6c" stroke-width="0.65"/>
<rect x="390.8" y="112.6" width="3.3" height="3.3" fill="none" stroke="#a09c6c" stroke-width="0.65"/>
<rect x="392.6" y="112.6" width="3.3" height="3.3" fill="none" stroke="#a09c6c" stroke-width="0.65"/>
<rect x="400.8" y="113.2" width="3.3" height="3.3" fill="none" stroke="#a09c6c" stroke-width="0.65"/>
<rect x="376.2" y="116.3" width="3.3" height="3.3" fill="none" stroke="#a09c6c" stroke-width="0.65"/>
<rect x="330.1" y="119.3" width="3.3" height="3.3" fill="none" stroke="#a09c6c" stroke-width="0.65"/>
<rect x="372.4" y="113.3" width="3.3" height="3.3" fill="none" stroke="#a09c6c" stroke-width="0.65"/>
<rect x="376.8" y="114.9" width="3.3" height="3.3" fill="none" stroke="#a09c6c" stroke-width="0.65"/>
<rect x="376.8" y="118.8" width="3.3" height="3.3" fill="none" stroke="#a09c6c" stroke-width="0.65"/>
<rect x="375.1" y="120.9" width="3.3" height="3.3" fill="none" stroke="#a09c6c" stroke-width="0.65"/>
<rect x="384.9" y="120.4" width="3.3" height="3.3" fill="none" stroke="#a09c6c" stroke-width="0.65"/>
<rect x="389.2" y="119.8" width="3.3" height="3.3" fill="none" stroke="#a09c6c" stroke-width="0.65"/>
<rect x="390.4" y="113.3" width="3.3" height="3.3" fill="none" stroke="#a09c6c" stroke-width="0.65"/>
<rect x="391.4" y="122.0" width="3.3" height="3.3" fill="none" stroke="#a09c6c" stroke-width="0.65"/>
<rect x="379.5" y="123.6" width="3.3" height="3.3" fill="none" stroke="#a09c6c" stroke-width="0.65"/>
<rect x="369.7" y="118.2" width="3.3" height="3.3" fill="none" stroke="#a09c6c" stroke-width="0.65"/>
<rect x="392.6" y="113.2" width="3.3" height="3.3" fill="none" stroke="#a09c6c" stroke-width="0.65"/>
<rect x="400.5" y="113.8" width="3.3" height="3.3" fill="none" stroke="#a09c6c" stroke-width="0.65"/>
<rect x="405.4" y="119.3" width="3.3" height="3.3" fill="none" stroke="#a09c6c" stroke-width="0.65"/>
<rect x="423.7" y="121.8" width="3.3" height="3.3" fill="none" stroke="#a09c6c" stroke-width="0.65"/>
<rect x="398.1" y="126.7" width="3.3" height="3.3" fill="none" stroke="#a09c6c" stroke-width="0.65"/>
<rect x="394.4" y="127.8" width="3.3" height="3.3" fill="none" stroke="#a09c6c" stroke-width="0.65"/>
<rect x="408.5" y="130.9" width="3.3" height="3.3" fill="none" stroke="#a09c6c" stroke-width="0.65"/>
<rect x="396.2" y="131.5" width="3.3" height="3.3" fill="none" stroke="#a09c6c" stroke-width="0.65"/>
<rect x="423.1" y="150.4" width="3.3" height="3.3" fill="none" stroke="#a09c6c" stroke-width="0.65"/>
<rect x="426.8" y="150.4" width="3.3" height="3.3" fill="none" stroke="#a09c6c" stroke-width="0.65"/>
<rect x="434.1" y="151.0" width="3.3" height="3.3" fill="none" stroke="#a09c6c" stroke-width="0.65"/>
<rect x="449.9" y="139.4" width="3.3" height="3.3" fill="none" stroke="#a09c6c" stroke-width="0.65"/>
<rect x="467.0" y="140.2" width="3.3" height="3.3" fill="none" stroke="#a09c6c" stroke-width="0.65"/>
<rect x="343.4" y="110.3" width="3.3" height="3.3" fill="none" stroke="#a09c6c" stroke-width="0.65"/>
<rect x="348.4" y="116.3" width="3.3" height="3.3" fill="none" stroke="#a09c6c" stroke-width="0.65"/>
<rect x="338.4" y="106.3" width="3.3" height="3.3" fill="none" stroke="#a09c6c" stroke-width="0.65"/>
<rect x="360.4" y="109.3" width="3.3" height="3.3" fill="none" stroke="#a09c6c" stroke-width="0.65"/>
<rect x="344.4" y="123.3" width="3.3" height="3.3" fill="none" stroke="#a09c6c" stroke-width="0.65"/>
<rect x="356.4" y="126.3" width="3.3" height="3.3" fill="none" stroke="#a09c6c" stroke-width="0.65"/>
<rect x="365.4" y="126.3" width="3.3" height="3.3" fill="none" stroke="#a09c6c" stroke-width="0.65"/>
<rect x="381.4" y="129.3" width="3.3" height="3.3" fill="none" stroke="#a09c6c" stroke-width="0.65"/>
<circle cx="360.8" cy="55.5" r="1.75" fill="none" stroke="#d4909a" stroke-width="0.7"/>
<circle cx="365.9" cy="58.6" r="1.75" fill="none" stroke="#d4909a" stroke-width="0.7"/>
<circle cx="391.5" cy="67.9" r="1.75" fill="none" stroke="#d4909a" stroke-width="0.7"/>
<circle cx="396.2" cy="76.5" r="1.75" fill="none" stroke="#d4909a" stroke-width="0.7"/>
<circle cx="360.8" cy="78.8" r="1.75" fill="none" stroke="#d4909a" stroke-width="0.7"/>
<circle cx="329.7" cy="94.4" r="1.75" fill="none" stroke="#d4909a" stroke-width="0.7"/>
<circle cx="353.3" cy="96.1" r="1.75" fill="none" stroke="#d4909a" stroke-width="0.7"/>
<circle cx="366.0" cy="96.7" r="1.75" fill="none" stroke="#d4909a" stroke-width="0.7"/>
<circle cx="344.7" cy="98.5" r="1.75" fill="none" stroke="#d4909a" stroke-width="0.7"/>
<circle cx="348.1" cy="105.4" r="1.75" fill="none" stroke="#d4909a" stroke-width="0.7"/>
<circle cx="360.8" cy="107.7" r="1.75" fill="none" stroke="#d4909a" stroke-width="0.7"/>
<circle cx="373.5" cy="104.8" r="1.75" fill="none" stroke="#d4909a" stroke-width="0.7"/>
<circle cx="366.0" cy="110.0" r="1.75" fill="none" stroke="#d4909a" stroke-width="0.7"/>
<circle cx="360.8" cy="112.9" r="1.75" fill="none" stroke="#d4909a" stroke-width="0.7"/>
<circle cx="409.6" cy="76.8" r="1.75" fill="none" stroke="#d4909a" stroke-width="0.7"/>
<circle cx="381.5" cy="87.1" r="1.75" fill="none" stroke="#d4909a" stroke-width="0.7"/>
<circle cx="384.2" cy="108.0" r="1.75" fill="none" stroke="#d4909a" stroke-width="0.7"/>
<circle cx="384.2" cy="110.7" r="1.75" fill="none" stroke="#d4909a" stroke-width="0.7"/>
<circle cx="334.9" cy="151.4" r="1.75" fill="none" stroke="#d4909a" stroke-width="0.7"/>
<circle cx="451.5" cy="152.1" r="1.75" fill="none" stroke="#d4909a" stroke-width="0.7"/>
<circle cx="417.4" cy="138.7" r="1.75" fill="none" stroke="#d4909a" stroke-width="0.7"/>
<circle cx="456.1" cy="140.6" r="1.75" fill="none" stroke="#d4909a" stroke-width="0.7"/>
<circle cx="340.0" cy="120.0" r="1.75" fill="none" stroke="#d4909a" stroke-width="0.7"/>
<circle cx="355.0" cy="130.0" r="1.75" fill="none" stroke="#d4909a" stroke-width="0.7"/>
<circle cx="321.7" cy="74.9" r="1.5" fill="#2f7fa8" stroke="#1f4f68" stroke-width="0.6"/>
<circle cx="319.3" cy="111.1" r="1.5" fill="#2f7fa8" stroke="#1f4f68" stroke-width="0.6"/>
<circle cx="334.9" cy="126.4" r="1.5" fill="#2f7fa8" stroke="#1f4f68" stroke-width="0.6"/>
<circle cx="342.5" cy="124.2" r="1.5" fill="#2f7fa8" stroke="#1f4f68" stroke-width="0.6"/>
<circle cx="350.2" cy="125.9" r="1.5" fill="#2f7fa8" stroke="#1f4f68" stroke-width="0.6"/>
<circle cx="327.3" cy="131.3" r="1.5" fill="#2f7fa8" stroke="#1f4f68" stroke-width="0.6"/>
<circle cx="332.2" cy="132.4" r="1.5" fill="#2f7fa8" stroke="#1f4f68" stroke-width="0.6"/>
<circle cx="339.8" cy="132.4" r="1.5" fill="#2f7fa8" stroke="#1f4f68" stroke-width="0.6"/>
<circle cx="342.5" cy="131.3" r="1.5" fill="#2f7fa8" stroke="#1f4f68" stroke-width="0.6"/>
<circle cx="350.2" cy="133.5" r="1.5" fill="#2f7fa8" stroke="#1f4f68" stroke-width="0.6"/>
<circle cx="329.5" cy="139.5" r="1.5" fill="#2f7fa8" stroke="#1f4f68" stroke-width="0.6"/>
<circle cx="333.3" cy="142.2" r="1.5" fill="#2f7fa8" stroke="#1f4f68" stroke-width="0.6"/>
<circle cx="335.5" cy="143.8" r="1.5" fill="#2f7fa8" stroke="#1f4f68" stroke-width="0.6"/>
<circle cx="339.8" cy="141.6" r="1.5" fill="#2f7fa8" stroke="#1f4f68" stroke-width="0.6"/>
<circle cx="343.1" cy="143.3" r="1.5" fill="#2f7fa8" stroke="#1f4f68" stroke-width="0.6"/>
<circle cx="348.5" cy="142.2" r="1.5" fill="#2f7fa8" stroke="#1f4f68" stroke-width="0.6"/>
<circle cx="350.7" cy="138.4" r="1.5" fill="#2f7fa8" stroke="#1f4f68" stroke-width="0.6"/>
<circle cx="355.0" cy="138.9" r="1.5" fill="#2f7fa8" stroke="#1f4f68" stroke-width="0.6"/>
<circle cx="327.3" cy="149.8" r="1.5" fill="#2f7fa8" stroke="#1f4f68" stroke-width="0.6"/>
<circle cx="332.2" cy="151.4" r="1.5" fill="#2f7fa8" stroke="#1f4f68" stroke-width="0.6"/>
<circle cx="340.4" cy="148.7" r="1.5" fill="#2f7fa8" stroke="#1f4f68" stroke-width="0.6"/>
<circle cx="342.5" cy="151.4" r="1.5" fill="#2f7fa8" stroke="#1f4f68" stroke-width="0.6"/>
<circle cx="346.9" cy="146.5" r="1.5" fill="#2f7fa8" stroke="#1f4f68" stroke-width="0.6"/>
<circle cx="349.6" cy="151.4" r="1.5" fill="#2f7fa8" stroke="#1f4f68" stroke-width="0.6"/>
<circle cx="352.9" cy="147.6" r="1.5" fill="#2f7fa8" stroke="#1f4f68" stroke-width="0.6"/>
<circle cx="355.0" cy="150.9" r="1.5" fill="#2f7fa8" stroke="#1f4f68" stroke-width="0.6"/>
<circle cx="345.3" cy="148.7" r="1.5" fill="#2f7fa8" stroke="#1f4f68" stroke-width="0.6"/>
<circle cx="351.8" cy="144.3" r="1.5" fill="#2f7fa8" stroke="#1f4f68" stroke-width="0.6"/>
<circle cx="362.6" cy="122.1" r="1.5" fill="#2f7fa8" stroke="#1f4f68" stroke-width="0.6"/>
<circle cx="386.5" cy="128.6" r="1.5" fill="#2f7fa8" stroke="#1f4f68" stroke-width="0.6"/>
<circle cx="360.4" cy="136.2" r="1.5" fill="#2f7fa8" stroke="#1f4f68" stroke-width="0.6"/>
<circle cx="365.9" cy="132.9" r="1.5" fill="#2f7fa8" stroke="#1f4f68" stroke-width="0.6"/>
<circle cx="371.3" cy="136.7" r="1.5" fill="#2f7fa8" stroke="#1f4f68" stroke-width="0.6"/>
<circle cx="376.7" cy="134.0" r="1.5" fill="#2f7fa8" stroke="#1f4f68" stroke-width="0.6"/>
<circle cx="396.7" cy="146.6" r="1.5" fill="#2f7fa8" stroke="#1f4f68" stroke-width="0.6"/>
<circle cx="404.0" cy="147.2" r="1.5" fill="#2f7fa8" stroke="#1f4f68" stroke-width="0.6"/>
<circle cx="411.3" cy="146.6" r="1.5" fill="#2f7fa8" stroke="#1f4f68" stroke-width="0.6"/>
<circle cx="417.4" cy="147.2" r="1.5" fill="#2f7fa8" stroke="#1f4f68" stroke-width="0.6"/>
<circle cx="399.7" cy="151.5" r="1.5" fill="#2f7fa8" stroke="#1f4f68" stroke-width="0.6"/>
<circle cx="408.9" cy="151.5" r="1.5" fill="#2f7fa8" stroke="#1f4f68" stroke-width="0.6"/>
<circle cx="418.6" cy="152.1" r="1.5" fill="#2f7fa8" stroke="#1f4f68" stroke-width="0.6"/>
<circle cx="414.3" cy="149.0" r="1.5" fill="#2f7fa8" stroke="#1f4f68" stroke-width="0.6"/>
<circle cx="373.1" cy="147.1" r="1.5" fill="#2f7fa8" stroke="#1f4f68" stroke-width="0.6"/>
<circle cx="392.0" cy="145.8" r="1.5" fill="#2f7fa8" stroke="#1f4f68" stroke-width="0.6"/>
<circle cx="362.4" cy="146.4" r="1.5" fill="#2f7fa8" stroke="#1f4f68" stroke-width="0.6"/>
<circle cx="380.2" cy="150.5" r="1.5" fill="#2f7fa8" stroke="#1f4f68" stroke-width="0.6"/>
<circle cx="358.8" cy="143.4" r="1.5" fill="#2f7fa8" stroke="#1f4f68" stroke-width="0.6"/>
<circle cx="358.6" cy="150.7" r="1.5" fill="#2f7fa8" stroke="#1f4f68" stroke-width="0.6"/>
<circle cx="382.7" cy="139.6" r="1.5" fill="#2f7fa8" stroke="#1f4f68" stroke-width="0.6"/>
<circle cx="394.3" cy="153.0" r="1.5" fill="#2f7fa8" stroke="#1f4f68" stroke-width="0.6"/>
<circle cx="381.2" cy="147.9" r="1.5" fill="#2f7fa8" stroke="#1f4f68" stroke-width="0.6"/>
<circle cx="361.3" cy="139.2" r="1.5" fill="#2f7fa8" stroke="#1f4f68" stroke-width="0.6"/>
<circle cx="376.1" cy="139.9" r="1.5" fill="#2f7fa8" stroke="#1f4f68" stroke-width="0.6"/>
<circle cx="362.6" cy="142.5" r="1.5" fill="#2f7fa8" stroke="#1f4f68" stroke-width="0.6"/>
<circle cx="356.2" cy="145.7" r="1.5" fill="#2f7fa8" stroke="#1f4f68" stroke-width="0.6"/>
<circle cx="372.6" cy="151.2" r="1.5" fill="#2f7fa8" stroke="#1f4f68" stroke-width="0.6"/>
<circle cx="375.8" cy="148.3" r="1.5" fill="#2f7fa8" stroke="#1f4f68" stroke-width="0.6"/>
<circle cx="373.3" cy="143.0" r="1.5" fill="#2f7fa8" stroke="#1f4f68" stroke-width="0.6"/>
<circle cx="388.6" cy="149.3" r="1.5" fill="#2f7fa8" stroke="#1f4f68" stroke-width="0.6"/>
<circle cx="367.6" cy="142.3" r="1.5" fill="#2f7fa8" stroke="#1f4f68" stroke-width="0.6"/>
<circle cx="366.6" cy="140.0" r="1.5" fill="#2f7fa8" stroke="#1f4f68" stroke-width="0.6"/>
<circle cx="385.7" cy="144.8" r="1.5" fill="#2f7fa8" stroke="#1f4f68" stroke-width="0.6"/>
<circle cx="388.9" cy="144.6" r="1.5" fill="#2f7fa8" stroke="#1f4f68" stroke-width="0.6"/>
<circle cx="355.0" cy="142.0" r="1.5" fill="#2f7fa8" stroke="#1f4f68" stroke-width="0.6"/>
<circle cx="394.2" cy="144.8" r="1.5" fill="#2f7fa8" stroke="#1f4f68" stroke-width="0.6"/>
<circle cx="357.9" cy="148.1" r="1.5" fill="#2f7fa8" stroke="#1f4f68" stroke-width="0.6"/>
<circle cx="393.6" cy="150.0" r="1.5" fill="#2f7fa8" stroke="#1f4f68" stroke-width="0.6"/>
<circle cx="359.0" cy="139.9" r="1.5" fill="#2f7fa8" stroke="#1f4f68" stroke-width="0.6"/>
<circle cx="386.9" cy="141.6" r="1.5" fill="#2f7fa8" stroke="#1f4f68" stroke-width="0.6"/>
<circle cx="377.4" cy="145.5" r="1.5" fill="#2f7fa8" stroke="#1f4f68" stroke-width="0.6"/>
<circle cx="362.6" cy="149.6" r="1.5" fill="#2f7fa8" stroke="#1f4f68" stroke-width="0.6"/>
<circle cx="360.2" cy="148.3" r="1.5" fill="#2f7fa8" stroke="#1f4f68" stroke-width="0.6"/>
<circle cx="367.2" cy="151.8" r="1.5" fill="#2f7fa8" stroke="#1f4f68" stroke-width="0.6"/>
<circle cx="359.0" cy="153.3" r="1.5" fill="#2f7fa8" stroke="#1f4f68" stroke-width="0.6"/>
<circle cx="364.7" cy="147.7" r="1.5" fill="#2f7fa8" stroke="#1f4f68" stroke-width="0.6"/>
<circle cx="369.9" cy="145.6" r="1.5" fill="#2f7fa8" stroke="#1f4f68" stroke-width="0.6"/>
<circle cx="378.0" cy="151.6" r="1.5" fill="#2f7fa8" stroke="#1f4f68" stroke-width="0.6"/>
<circle cx="391.3" cy="150.9" r="1.5" fill="#2f7fa8" stroke="#1f4f68" stroke-width="0.6"/>
<circle cx="365.0" cy="141.8" r="1.5" fill="#2f7fa8" stroke="#1f4f68" stroke-width="0.6"/>
<circle cx="384.6" cy="152.6" r="1.5" fill="#2f7fa8" stroke="#1f4f68" stroke-width="0.6"/>
<circle cx="362.9" cy="152.8" r="1.5" fill="#2f7fa8" stroke="#1f4f68" stroke-width="0.6"/>
<circle cx="371.9" cy="140.5" r="1.5" fill="#2f7fa8" stroke="#1f4f68" stroke-width="0.6"/>
<circle cx="356.5" cy="153.0" r="1.5" fill="#2f7fa8" stroke="#1f4f68" stroke-width="0.6"/>
<circle cx="378.9" cy="143.3" r="1.5" fill="#2f7fa8" stroke="#1f4f68" stroke-width="0.6"/>
<circle cx="391.7" cy="142.0" r="1.5" fill="#2f7fa8" stroke="#1f4f68" stroke-width="0.6"/>
<circle cx="369.5" cy="151.9" r="1.5" fill="#2f7fa8" stroke="#1f4f68" stroke-width="0.6"/>
<circle cx="384.5" cy="149.2" r="1.5" fill="#2f7fa8" stroke="#1f4f68" stroke-width="0.6"/>
<circle cx="369.1" cy="148.9" r="1.5" fill="#2f7fa8" stroke="#1f4f68" stroke-width="0.6"/>
<circle cx="378.3" cy="147.8" r="1.5" fill="#2f7fa8" stroke="#1f4f68" stroke-width="0.6"/>
<circle cx="382.9" cy="146.2" r="1.5" fill="#2f7fa8" stroke="#1f4f68" stroke-width="0.6"/>
<circle cx="387.2" cy="152.3" r="1.5" fill="#2f7fa8" stroke="#1f4f68" stroke-width="0.6"/>
<circle cx="389.9" cy="139.6" r="1.5" fill="#2f7fa8" stroke="#1f4f68" stroke-width="0.6"/>
<circle cx="380.2" cy="145.5" r="1.5" fill="#2f7fa8" stroke="#1f4f68" stroke-width="0.6"/>
<circle cx="382.4" cy="141.9" r="1.5" fill="#2f7fa8" stroke="#1f4f68" stroke-width="0.6"/>
<circle cx="365.9" cy="144.0" r="1.5" fill="#2f7fa8" stroke="#1f4f68" stroke-width="0.6"/>
<circle cx="360.2" cy="145.6" r="1.5" fill="#2f7fa8" stroke="#1f4f68" stroke-width="0.6"/>
<circle cx="366.6" cy="149.6" r="1.5" fill="#2f7fa8" stroke="#1f4f68" stroke-width="0.6"/>
<circle cx="379.2" cy="139.4" r="1.5" fill="#2f7fa8" stroke="#1f4f68" stroke-width="0.6"/>
<circle cx="386.2" cy="139.3" r="1.5" fill="#2f7fa8" stroke="#1f4f68" stroke-width="0.6"/>
<circle cx="382.3" cy="152.2" r="1.5" fill="#2f7fa8" stroke="#1f4f68" stroke-width="0.6"/>
<circle cx="393.7" cy="140.7" r="1.5" fill="#2f7fa8" stroke="#1f4f68" stroke-width="0.6"/>
<circle cx="386.9" cy="146.8" r="1.5" fill="#2f7fa8" stroke="#1f4f68" stroke-width="0.6"/>
<circle cx="367.5" cy="146.9" r="1.5" fill="#2f7fa8" stroke="#1f4f68" stroke-width="0.6"/>
<circle cx="391.4" cy="153.4" r="1.5" fill="#2f7fa8" stroke="#1f4f68" stroke-width="0.6"/>
<circle cx="375.8" cy="142.8" r="1.5" fill="#2f7fa8" stroke="#1f4f68" stroke-width="0.6"/>
<circle cx="374.4" cy="153.4" r="1.5" fill="#2f7fa8" stroke="#1f4f68" stroke-width="0.6"/>
<circle cx="390.4" cy="147.6" r="1.5" fill="#2f7fa8" stroke="#1f4f68" stroke-width="0.6"/>
<circle cx="375.2" cy="151.3" r="1.5" fill="#2f7fa8" stroke="#1f4f68" stroke-width="0.6"/>
<circle cx="370.7" cy="143.3" r="1.5" fill="#2f7fa8" stroke="#1f4f68" stroke-width="0.6"/>
<circle cx="363.6" cy="139.6" r="1.5" fill="#2f7fa8" stroke="#1f4f68" stroke-width="0.6"/>
<circle cx="384.6" cy="142.7" r="1.5" fill="#2f7fa8" stroke="#1f4f68" stroke-width="0.6"/>
<circle cx="393.9" cy="147.1" r="1.5" fill="#2f7fa8" stroke="#1f4f68" stroke-width="0.6"/>
<circle cx="371.6" cy="153.4" r="1.5" fill="#2f7fa8" stroke="#1f4f68" stroke-width="0.6"/>
<circle cx="368.9" cy="139.7" r="1.5" fill="#2f7fa8" stroke="#1f4f68" stroke-width="0.6"/>
<circle cx="371.6" cy="149.1" r="1.5" fill="#2f7fa8" stroke="#1f4f68" stroke-width="0.6"/>
<circle cx="374.7" cy="145.1" r="1.5" fill="#2f7fa8" stroke="#1f4f68" stroke-width="0.6"/>
<circle cx="389.2" cy="142.1" r="1.5" fill="#2f7fa8" stroke="#1f4f68" stroke-width="0.6"/>
<circle cx="415.0" cy="143.6" r="1.5" fill="#2f7fa8" stroke="#1f4f68" stroke-width="0.6"/>
<circle cx="403.2" cy="151.3" r="1.5" fill="#2f7fa8" stroke="#1f4f68" stroke-width="0.6"/>
<circle cx="411.7" cy="149.6" r="1.5" fill="#2f7fa8" stroke="#1f4f68" stroke-width="0.6"/>
<circle cx="399.4" cy="147.1" r="1.5" fill="#2f7fa8" stroke="#1f4f68" stroke-width="0.6"/>
<circle cx="396.8" cy="151.4" r="1.5" fill="#2f7fa8" stroke="#1f4f68" stroke-width="0.6"/>
<circle cx="420.3" cy="142.2" r="1.5" fill="#2f7fa8" stroke="#1f4f68" stroke-width="0.6"/>
<circle cx="410.3" cy="143.0" r="1.5" fill="#2f7fa8" stroke="#1f4f68" stroke-width="0.6"/>
<circle cx="424.6" cy="152.9" r="1.5" fill="#2f7fa8" stroke="#1f4f68" stroke-width="0.6"/>
<circle cx="407.0" cy="146.8" r="1.5" fill="#2f7fa8" stroke="#1f4f68" stroke-width="0.6"/>
<circle cx="406.5" cy="142.4" r="1.5" fill="#2f7fa8" stroke="#1f4f68" stroke-width="0.6"/>
<circle cx="424.3" cy="149.6" r="1.5" fill="#2f7fa8" stroke="#1f4f68" stroke-width="0.6"/>
<circle cx="401.3" cy="145.2" r="1.5" fill="#2f7fa8" stroke="#1f4f68" stroke-width="0.6"/>
<path d="M331.86,66.73 L334.84,73.64 L337.81,79.95 L340.79,85.71 L343.77,90.98 L346.75,95.80 L349.73,100.22 L352.71,104.25 L355.68,107.95 L358.66,111.34 L361.64,114.44 L364.62,117.29 L367.60,119.89 L370.58,122.28 L373.55,124.46 L376.53,126.45 L379.51,128.25 L382.49,129.87 L385.47,131.30 L388.45,132.53 L391.43,133.56 L394.40,134.42 L397.38,135.16 L400.36,135.81 L403.34,136.40 L406.32,136.94 L409.30,137.45 L412.27,137.93 L415.25,138.37 L418.23,138.79 L421.21,139.19 L424.19,139.57 L427.17,139.93 L430.14,140.27 L433.12,140.60 L436.10,140.90 L439.08,141.20 L442.06,141.47 L445.04,141.74 L448.01,141.99 L450.99,142.23 L453.97,142.46 L456.95,142.68 L459.93,142.88 L462.91,143.08 L465.88,143.27 L468.86,143.44 L471.84,143.61 L471.84,149.76 L468.86,149.58 L465.88,149.38 L462.91,149.17 L459.93,148.95 L456.95,148.71 L453.97,148.45 L450.99,148.18 L448.01,147.88 L445.04,147.56 L442.06,147.22 L439.08,146.86 L436.10,146.47 L433.12,146.04 L430.14,145.59 L427.17,145.10 L424.19,144.58 L421.21,144.02 L418.23,143.41 L415.25,142.76 L412.27,142.06 L409.30,141.31 L406.32,140.51 L403.34,139.65 L400.36,138.74 L397.38,137.78 L394.40,136.79 L391.43,135.80 L388.45,134.84 L385.47,133.93 L382.49,133.07 L379.51,132.22 L376.53,131.36 L373.55,130.49 L370.58,129.58 L367.60,128.64 L364.62,127.65 L361.64,126.62 L358.66,125.53 L355.68,124.39 L352.71,123.18 L349.73,121.91 L346.75,120.57 L343.77,119.15 L340.79,117.65 L337.81,116.06 L334.84,114.38 L331.86,112.60 Z" fill="#c4c282" fill-opacity="0.52" stroke="none"/>
<path d="M331.86,93.97 L334.84,97.64 L337.81,101.06 L340.79,104.23 L343.77,107.18 L346.75,109.93 L349.73,112.49 L352.71,114.88 L355.68,117.10 L358.66,119.18 L361.64,121.11 L364.62,122.92 L367.60,124.60 L370.58,126.18 L373.55,127.65 L376.53,129.03 L379.51,130.32 L382.49,131.53 L385.47,132.66 L388.45,133.72 L391.43,134.71 L394.40,135.65 L397.38,136.52 L400.36,137.34 L403.34,138.11 L406.32,138.84 L409.30,139.52 L412.27,140.16 L415.25,140.76 L418.23,141.33 L421.21,141.87 L424.19,142.37 L427.17,142.84 L430.14,143.29 L433.12,143.72 L436.10,144.11 L439.08,144.49 L442.06,144.85 L445.04,145.18 L448.01,145.50 L450.99,145.80 L453.97,146.08 L456.95,146.35 L459.93,146.61 L462.91,146.85 L465.88,147.08 L468.86,147.29 L471.84,147.50" fill="none" stroke="#627218" stroke-width="1.35" stroke-linejoin="round"/>
<path d="M329.79,97.58 L333.56,101.62 L337.33,105.37 L341.10,108.85 L344.87,112.06 L348.64,115.02 L352.41,117.71 L356.19,120.13 L359.96,122.25 L363.73,124.01 L367.50,125.37 L371.27,126.38 L375.04,127.14 L378.81,127.75 L382.58,128.28 L386.35,128.75 L390.13,129.20 L393.90,129.64 L397.67,130.06 L401.44,130.48 L405.21,130.90 L408.98,131.32 L412.75,131.73 L416.52,132.15 L420.29,132.56 L424.07,132.98 L427.84,133.39 L431.61,133.81 L435.38,134.22 L439.15,134.64 L442.92,135.05 L446.69,135.47 L450.46,135.88 L454.24,136.29 L458.01,136.70 L461.78,137.11 L465.55,137.51 L469.32,137.91 L473.09,138.31 L476.86,138.71 L480.63,139.10 L484.40,139.48 L488.18,139.87 L491.95,140.25 L495.72,140.62 L499.49,140.99 L503.26,141.35 L507.03,141.71 L507.03,152.09 L503.26,152.00 L499.49,151.91 L495.72,151.80 L491.95,151.69 L488.18,151.56 L484.40,151.42 L480.63,151.27 L476.86,151.10 L473.09,150.92 L469.32,150.72 L465.55,150.50 L461.78,150.26 L458.01,149.99 L454.24,149.71 L450.46,149.39 L446.69,149.05 L442.92,148.67 L439.15,148.27 L435.38,147.82 L431.61,147.34 L427.84,146.81 L424.07,146.24 L420.29,145.61 L416.52,144.94 L412.75,144.21 L408.98,143.41 L405.21,142.55 L401.44,141.62 L397.67,140.62 L393.90,139.54 L390.13,138.38 L386.35,137.15 L382.58,135.84 L378.81,134.46 L375.04,133.06 L371.27,131.67 L367.50,130.40 L363.73,129.35 L359.96,128.53 L356.19,127.90 L352.41,127.40 L348.64,126.97 L344.87,126.60 L341.10,126.28 L337.33,125.98 L333.56,125.71 L329.79,125.46 Z" fill="#ee7262" fill-opacity="0.46" stroke="none"/>
<path d="M329.79,113.94 L333.56,115.56 L337.33,117.13 L341.10,118.65 L344.87,120.13 L348.64,121.56 L352.41,122.94 L356.19,124.28 L359.96,125.57 L363.73,126.81 L367.50,128.01 L371.27,129.17 L375.04,130.29 L378.81,131.37 L382.58,132.40 L386.35,133.40 L390.13,134.35 L393.90,135.27 L397.67,136.15 L401.44,137.00 L405.21,137.81 L408.98,138.59 L412.75,139.33 L416.52,140.05 L420.29,140.73 L424.07,141.38 L427.84,142.00 L431.61,142.59 L435.38,143.16 L439.15,143.70 L442.92,144.22 L446.69,144.71 L450.46,145.17 L454.24,145.62 L458.01,146.04 L461.78,146.44 L465.55,146.82 L469.32,147.18 L473.09,147.52 L476.86,147.85 L480.63,148.16 L484.40,148.45 L488.18,148.72 L491.95,148.98 L495.72,149.23 L499.49,149.46 L503.26,149.68 L507.03,149.89" fill="none" stroke="#e05a60" stroke-width="1.1" stroke-linejoin="round"/>
<path d="M317.01,113.91 L319.09,115.95 L321.17,117.87 L323.25,119.68 L325.34,121.38 L327.42,122.99 L329.50,124.49 L331.59,125.92 L333.67,127.25 L335.75,128.51 L337.84,129.70 L339.92,130.81 L342.00,131.86 L344.09,132.85 L346.17,133.77 L348.25,134.64 L350.34,135.45 L352.42,136.22 L354.50,136.93 L356.59,137.60 L358.67,138.22 L360.75,138.79 L362.84,139.32 L364.92,139.82 L367.00,140.27 L369.09,140.69 L371.17,141.07 L373.25,141.42 L375.34,141.73 L377.42,142.02 L379.50,142.29 L381.58,142.53 L383.67,142.75 L385.75,142.95 L387.83,143.14 L389.92,143.31 L392.00,143.47 L394.08,143.62 L396.17,143.76 L398.25,143.89 L400.33,144.01 L402.42,144.12 L404.50,144.23 L406.58,144.33 L408.67,144.43 L410.75,144.52 L412.83,144.60 L414.92,144.68 L414.92,149.37 L412.83,149.22 L410.75,149.07 L408.67,148.91 L406.58,148.74 L404.50,148.57 L402.42,148.39 L400.33,148.20 L398.25,148.00 L396.17,147.80 L394.08,147.59 L392.00,147.37 L389.92,147.15 L387.83,146.92 L385.75,146.69 L383.67,146.45 L381.58,146.20 L379.50,145.96 L377.42,145.71 L375.34,145.46 L373.25,145.21 L371.17,144.97 L369.09,144.73 L367.00,144.49 L364.92,144.25 L362.84,144.02 L360.75,143.79 L358.67,143.57 L356.59,143.34 L354.50,143.12 L352.42,142.90 L350.34,142.68 L348.25,142.46 L346.17,142.23 L344.09,142.01 L342.00,141.78 L339.92,141.54 L337.84,141.31 L335.75,141.07 L333.67,140.82 L331.59,140.57 L329.50,140.31 L327.42,140.05 L325.34,139.78 L323.25,139.50 L321.17,139.21 L319.09,138.92 L317.01,138.62 Z" fill="#94bdd6" fill-opacity="0.6" stroke="none"/>
<path d="M317.01,129.30 L319.09,130.17 L321.17,131.01 L323.25,131.80 L325.34,132.56 L327.42,133.29 L329.50,133.99 L331.59,134.66 L333.67,135.30 L335.75,135.91 L337.84,136.50 L339.92,137.06 L342.00,137.60 L344.09,138.12 L346.17,138.61 L348.25,139.09 L350.34,139.55 L352.42,139.98 L354.50,140.40 L356.59,140.81 L358.67,141.19 L360.75,141.56 L362.84,141.92 L364.92,142.26 L367.00,142.59 L369.09,142.91 L371.17,143.21 L373.25,143.50 L375.34,143.79 L377.42,144.06 L379.50,144.32 L381.58,144.57 L383.67,144.81 L385.75,145.04 L387.83,145.26 L389.92,145.47 L392.00,145.68 L394.08,145.88 L396.17,146.07 L398.25,146.26 L400.33,146.43 L402.42,146.61 L404.50,146.77 L406.58,146.93 L408.67,147.08 L410.75,147.23 L412.83,147.37 L414.92,147.51" fill="none" stroke="#3a82ae" stroke-width="1.1" stroke-linejoin="round"/>
<rect x="59.1" y="351.0" width="3.3" height="3.3" fill="none" stroke="#a09c6c" stroke-width="0.65"/>
<rect x="61.8" y="352.8" width="3.3" height="3.3" fill="none" stroke="#a09c6c" stroke-width="0.65"/>
<rect x="96.2" y="325.6" width="3.3" height="3.3" fill="none" stroke="#a09c6c" stroke-width="0.65"/>
<rect x="98.0" y="323.8" width="3.3" height="3.3" fill="none" stroke="#a09c6c" stroke-width="0.65"/>
<rect x="104.3" y="311.1" width="3.3" height="3.3" fill="none" stroke="#a09c6c" stroke-width="0.65"/>
<rect x="84.4" y="352.8" width="3.3" height="3.3" fill="none" stroke="#a09c6c" stroke-width="0.65"/>
<rect x="121.9" y="299.9" width="3.3" height="3.3" fill="none" stroke="#a09c6c" stroke-width="0.65"/>
<rect x="126.4" y="302.9" width="3.3" height="3.3" fill="none" stroke="#a09c6c" stroke-width="0.65"/>
<rect x="131.7" y="299.2" width="3.3" height="3.3" fill="none" stroke="#a09c6c" stroke-width="0.65"/>
<rect x="105.3" y="311.2" width="3.3" height="3.3" fill="none" stroke="#a09c6c" stroke-width="0.65"/>
<rect x="139.9" y="305.2" width="3.3" height="3.3" fill="none" stroke="#a09c6c" stroke-width="0.65"/>
<rect x="138.4" y="314.2" width="3.3" height="3.3" fill="none" stroke="#a09c6c" stroke-width="0.65"/>
<rect x="142.2" y="314.2" width="3.3" height="3.3" fill="none" stroke="#a09c6c" stroke-width="0.65"/>
<rect x="149.8" y="314.9" width="3.3" height="3.3" fill="none" stroke="#a09c6c" stroke-width="0.65"/>
<rect x="126.4" y="321.7" width="3.3" height="3.3" fill="none" stroke="#a09c6c" stroke-width="0.65"/>
<rect x="133.2" y="323.2" width="3.3" height="3.3" fill="none" stroke="#a09c6c" stroke-width="0.65"/>
<rect x="137.8" y="321.0" width="3.3" height="3.3" fill="none" stroke="#a09c6c" stroke-width="0.65"/>
<rect x="96.3" y="325.5" width="3.3" height="3.3" fill="none" stroke="#a09c6c" stroke-width="0.65"/>
<rect x="107.6" y="325.5" width="3.3" height="3.3" fill="none" stroke="#a09c6c" stroke-width="0.65"/>
<rect x="115.9" y="326.2" width="3.3" height="3.3" fill="none" stroke="#a09c6c" stroke-width="0.65"/>
<rect x="150.4" y="320.2" width="3.3" height="3.3" fill="none" stroke="#a09c6c" stroke-width="0.65"/>
<rect x="144.4" y="300.7" width="3.3" height="3.3" fill="none" stroke="#a09c6c" stroke-width="0.65"/>
<rect x="114.3" y="347.2" width="3.3" height="3.3" fill="none" stroke="#a09c6c" stroke-width="0.65"/>
<rect x="119.6" y="348.0" width="3.3" height="3.3" fill="none" stroke="#a09c6c" stroke-width="0.65"/>
<rect x="158.8" y="302.2" width="3.3" height="3.3" fill="none" stroke="#a09c6c" stroke-width="0.65"/>
<rect x="163.3" y="302.2" width="3.3" height="3.3" fill="none" stroke="#a09c6c" stroke-width="0.65"/>
<rect x="188.2" y="299.2" width="3.3" height="3.3" fill="none" stroke="#a09c6c" stroke-width="0.65"/>
<rect x="149.8" y="314.9" width="3.3" height="3.3" fill="none" stroke="#a09c6c" stroke-width="0.65"/>
<rect x="149.8" y="320.2" width="3.3" height="3.3" fill="none" stroke="#a09c6c" stroke-width="0.65"/>
<rect x="169.3" y="309.7" width="3.3" height="3.3" fill="none" stroke="#a09c6c" stroke-width="0.65"/>
<rect x="173.2" y="310.4" width="3.3" height="3.3" fill="none" stroke="#a09c6c" stroke-width="0.65"/>
<rect x="167.8" y="315.7" width="3.3" height="3.3" fill="none" stroke="#a09c6c" stroke-width="0.65"/>
<rect x="152.8" y="305.2" width="3.3" height="3.3" fill="none" stroke="#a09c6c" stroke-width="0.65"/>
<rect x="150.4" y="251.8" width="3.3" height="3.3" fill="none" stroke="#a09c6c" stroke-width="0.65"/>
<rect x="157.2" y="272.1" width="3.3" height="3.3" fill="none" stroke="#a09c6c" stroke-width="0.65"/>
<rect x="131.9" y="273.8" width="3.3" height="3.3" fill="none" stroke="#a09c6c" stroke-width="0.65"/>
<rect x="149.5" y="276.2" width="3.3" height="3.3" fill="none" stroke="#a09c6c" stroke-width="0.65"/>
<rect x="184.9" y="273.8" width="3.3" height="3.3" fill="none" stroke="#a09c6c" stroke-width="0.65"/>
<rect x="187.4" y="274.6" width="3.3" height="3.3" fill="none" stroke="#a09c6c" stroke-width="0.65"/>
<rect x="165.5" y="284.7" width="3.3" height="3.3" fill="none" stroke="#a09c6c" stroke-width="0.65"/>
<rect x="173.2" y="285.5" width="3.3" height="3.3" fill="none" stroke="#a09c6c" stroke-width="0.65"/>
<rect x="147.9" y="292.2" width="3.3" height="3.3" fill="none" stroke="#a09c6c" stroke-width="0.65"/>
<rect x="155.4" y="295.6" width="3.3" height="3.3" fill="none" stroke="#a09c6c" stroke-width="0.65"/>
<rect x="122.6" y="299.0" width="3.3" height="3.3" fill="none" stroke="#a09c6c" stroke-width="0.65"/>
<rect x="131.9" y="298.2" width="3.3" height="3.3" fill="none" stroke="#a09c6c" stroke-width="0.65"/>
<rect x="134.4" y="296.5" width="3.3" height="3.3" fill="none" stroke="#a09c6c" stroke-width="0.65"/>
<rect x="143.8" y="298.2" width="3.3" height="3.3" fill="none" stroke="#a09c6c" stroke-width="0.65"/>
<rect x="144.5" y="300.7" width="3.3" height="3.3" fill="none" stroke="#a09c6c" stroke-width="0.65"/>
<rect x="158.8" y="301.5" width="3.3" height="3.3" fill="none" stroke="#a09c6c" stroke-width="0.65"/>
<rect x="163.9" y="301.5" width="3.3" height="3.3" fill="none" stroke="#a09c6c" stroke-width="0.65"/>
<rect x="186.8" y="287.2" width="3.3" height="3.3" fill="none" stroke="#a09c6c" stroke-width="0.65"/>
<rect x="189.3" y="287.2" width="3.3" height="3.3" fill="none" stroke="#a09c6c" stroke-width="0.65"/>
<rect x="236.4" y="348.2" width="3.3" height="3.3" fill="none" stroke="#a09c6c" stroke-width="0.65"/>
<rect x="210.9" y="333.2" width="3.3" height="3.3" fill="none" stroke="#a09c6c" stroke-width="0.65"/>
<rect x="107.3" y="324.9" width="3.3" height="3.3" fill="none" stroke="#a09c6c" stroke-width="0.65"/>
<rect x="115.8" y="327.2" width="3.3" height="3.3" fill="none" stroke="#a09c6c" stroke-width="0.65"/>
<rect x="105.8" y="311.0" width="3.3" height="3.3" fill="none" stroke="#a09c6c" stroke-width="0.65"/>
<rect x="125.2" y="321.4" width="3.3" height="3.3" fill="none" stroke="#a09c6c" stroke-width="0.65"/>
<rect x="133.2" y="322.8" width="3.3" height="3.3" fill="none" stroke="#a09c6c" stroke-width="0.65"/>
<rect x="138.5" y="322.2" width="3.3" height="3.3" fill="none" stroke="#a09c6c" stroke-width="0.65"/>
<rect x="150.3" y="319.9" width="3.3" height="3.3" fill="none" stroke="#a09c6c" stroke-width="0.65"/>
<rect x="153.8" y="320.4" width="3.3" height="3.3" fill="none" stroke="#a09c6c" stroke-width="0.65"/>
<rect x="136.0" y="348.0" width="3.3" height="3.3" fill="none" stroke="#a09c6c" stroke-width="0.65"/>
<rect x="173.7" y="349.9" width="3.3" height="3.3" fill="none" stroke="#a09c6c" stroke-width="0.65"/>
<circle cx="45.2" cy="355.0" r="1.75" fill="none" stroke="#d4909a" stroke-width="0.7"/>
<circle cx="104.0" cy="351.9" r="1.75" fill="none" stroke="#d4909a" stroke-width="0.7"/>
<circle cx="106.3" cy="354.1" r="1.75" fill="none" stroke="#d4909a" stroke-width="0.7"/>
<circle cx="115.3" cy="314.3" r="1.75" fill="none" stroke="#d4909a" stroke-width="0.7"/>
<circle cx="134.1" cy="312.8" r="1.75" fill="none" stroke="#d4909a" stroke-width="0.7"/>
<circle cx="137.1" cy="310.5" r="1.75" fill="none" stroke="#d4909a" stroke-width="0.7"/>
<circle cx="140.1" cy="309.8" r="1.75" fill="none" stroke="#d4909a" stroke-width="0.7"/>
<circle cx="146.1" cy="309.8" r="1.75" fill="none" stroke="#d4909a" stroke-width="0.7"/>
<circle cx="122.1" cy="324.8" r="1.75" fill="none" stroke="#d4909a" stroke-width="0.7"/>
<circle cx="113.0" cy="326.3" r="1.75" fill="none" stroke="#d4909a" stroke-width="0.7"/>
<circle cx="152.1" cy="310.5" r="1.75" fill="none" stroke="#d4909a" stroke-width="0.7"/>
<circle cx="177.8" cy="305.3" r="1.75" fill="none" stroke="#d4909a" stroke-width="0.7"/>
<circle cx="152.3" cy="310.5" r="1.75" fill="none" stroke="#d4909a" stroke-width="0.7"/>
<circle cx="166.5" cy="306.0" r="1.75" fill="none" stroke="#d4909a" stroke-width="0.7"/>
<circle cx="165.5" cy="309.8" r="1.75" fill="none" stroke="#d4909a" stroke-width="0.7"/>
<circle cx="174.1" cy="333.1" r="1.75" fill="none" stroke="#d4909a" stroke-width="0.7"/>
<circle cx="177.1" cy="337.6" r="1.75" fill="none" stroke="#d4909a" stroke-width="0.7"/>
<circle cx="193.6" cy="327.8" r="1.75" fill="none" stroke="#d4909a" stroke-width="0.7"/>
<circle cx="198.1" cy="328.6" r="1.75" fill="none" stroke="#d4909a" stroke-width="0.7"/>
<circle cx="164.3" cy="343.6" r="1.75" fill="none" stroke="#d4909a" stroke-width="0.7"/>
<circle cx="180.1" cy="348.1" r="1.75" fill="none" stroke="#d4909a" stroke-width="0.7"/>
<circle cx="183.8" cy="350.4" r="1.75" fill="none" stroke="#d4909a" stroke-width="0.7"/>
<circle cx="175.6" cy="351.9" r="1.75" fill="none" stroke="#d4909a" stroke-width="0.7"/>
<circle cx="187.6" cy="353.4" r="1.75" fill="none" stroke="#d4909a" stroke-width="0.7"/>
<circle cx="208.6" cy="351.1" r="1.75" fill="none" stroke="#d4909a" stroke-width="0.7"/>
<circle cx="140.0" cy="265.3" r="1.75" fill="none" stroke="#d4909a" stroke-width="0.7"/>
<circle cx="147.0" cy="266.1" r="1.75" fill="none" stroke="#d4909a" stroke-width="0.7"/>
<circle cx="136.9" cy="279.6" r="1.75" fill="none" stroke="#d4909a" stroke-width="0.7"/>
<circle cx="139.0" cy="280.7" r="1.75" fill="none" stroke="#d4909a" stroke-width="0.7"/>
<circle cx="178.2" cy="280.4" r="1.75" fill="none" stroke="#d4909a" stroke-width="0.7"/>
<circle cx="145.4" cy="285.5" r="1.75" fill="none" stroke="#d4909a" stroke-width="0.7"/>
<circle cx="177.3" cy="289.7" r="1.75" fill="none" stroke="#d4909a" stroke-width="0.7"/>
<circle cx="168.1" cy="293.0" r="1.75" fill="none" stroke="#d4909a" stroke-width="0.7"/>
<circle cx="163.0" cy="294.7" r="1.75" fill="none" stroke="#d4909a" stroke-width="0.7"/>
<circle cx="169.8" cy="297.2" r="1.75" fill="none" stroke="#d4909a" stroke-width="0.7"/>
<circle cx="141.1" cy="299.8" r="1.75" fill="none" stroke="#d4909a" stroke-width="0.7"/>
<circle cx="188.3" cy="298.1" r="1.75" fill="none" stroke="#d4909a" stroke-width="0.7"/>
<circle cx="178.4" cy="280.4" r="1.75" fill="none" stroke="#d4909a" stroke-width="0.7"/>
<circle cx="189.3" cy="283.8" r="1.75" fill="none" stroke="#d4909a" stroke-width="0.7"/>
<circle cx="177.5" cy="289.7" r="1.75" fill="none" stroke="#d4909a" stroke-width="0.7"/>
<circle cx="188.5" cy="298.1" r="1.75" fill="none" stroke="#d4909a" stroke-width="0.7"/>
<circle cx="191.0" cy="299.8" r="1.75" fill="none" stroke="#d4909a" stroke-width="0.7"/>
<circle cx="208.2" cy="350.7" r="1.75" fill="none" stroke="#d4909a" stroke-width="0.7"/>
<circle cx="209.1" cy="352.5" r="1.75" fill="none" stroke="#d4909a" stroke-width="0.7"/>
<circle cx="200.3" cy="321.7" r="1.75" fill="none" stroke="#d4909a" stroke-width="0.7"/>
<circle cx="115.2" cy="314.1" r="1.75" fill="none" stroke="#d4909a" stroke-width="0.7"/>
<circle cx="112.9" cy="326.5" r="1.75" fill="none" stroke="#d4909a" stroke-width="0.7"/>
<circle cx="121.0" cy="324.9" r="1.75" fill="none" stroke="#d4909a" stroke-width="0.7"/>
<circle cx="144.6" cy="353.5" r="1.75" fill="none" stroke="#d4909a" stroke-width="0.7"/>
<circle cx="124.0" cy="339.7" r="1.75" fill="none" stroke="#d4909a" stroke-width="0.7"/>
<circle cx="137.7" cy="337.7" r="1.75" fill="none" stroke="#d4909a" stroke-width="0.7"/>
<circle cx="174.8" cy="333.8" r="1.75" fill="none" stroke="#d4909a" stroke-width="0.7"/>
<circle cx="176.7" cy="334.8" r="1.75" fill="none" stroke="#d4909a" stroke-width="0.7"/>
<circle cx="163.9" cy="342.2" r="1.75" fill="none" stroke="#d4909a" stroke-width="0.7"/>
<circle cx="179.7" cy="348.6" r="1.75" fill="none" stroke="#d4909a" stroke-width="0.7"/>
<circle cx="181.2" cy="349.6" r="1.75" fill="none" stroke="#d4909a" stroke-width="0.7"/>
<circle cx="187.6" cy="353.5" r="1.75" fill="none" stroke="#d4909a" stroke-width="0.7"/>
<circle cx="169.4" cy="350.5" r="1.75" fill="none" stroke="#d4909a" stroke-width="0.7"/>
<rect x="123.6" y="342.0" width="3.3" height="3.3" fill="none" stroke="#a09c6c" stroke-width="0.65"/>
<rect x="90.8" y="340.7" width="3.3" height="3.3" fill="none" stroke="#a09c6c" stroke-width="0.65"/>
<rect x="73.1" y="352.2" width="3.3" height="3.3" fill="none" stroke="#a09c6c" stroke-width="0.65"/>
<rect x="86.5" y="349.1" width="3.3" height="3.3" fill="none" stroke="#a09c6c" stroke-width="0.65"/>
<rect x="168.2" y="354.0" width="3.3" height="3.3" fill="none" stroke="#a09c6c" stroke-width="0.65"/>
<rect x="76.1" y="343.4" width="3.3" height="3.3" fill="none" stroke="#a09c6c" stroke-width="0.65"/>
<rect x="71.5" y="340.5" width="3.3" height="3.3" fill="none" stroke="#a09c6c" stroke-width="0.65"/>
<rect x="195.2" y="350.4" width="3.3" height="3.3" fill="none" stroke="#a09c6c" stroke-width="0.65"/>
<rect x="163.4" y="350.3" width="3.3" height="3.3" fill="none" stroke="#a09c6c" stroke-width="0.65"/>
<rect x="191.4" y="353.7" width="3.3" height="3.3" fill="none" stroke="#a09c6c" stroke-width="0.65"/>
<rect x="103.4" y="345.3" width="3.3" height="3.3" fill="none" stroke="#a09c6c" stroke-width="0.65"/>
<rect x="108.5" y="352.7" width="3.3" height="3.3" fill="none" stroke="#a09c6c" stroke-width="0.65"/>
<circle cx="101.7" cy="347.1" r="1.75" fill="none" stroke="#d4909a" stroke-width="0.7"/>
<circle cx="73.8" cy="341.6" r="1.75" fill="none" stroke="#d4909a" stroke-width="0.7"/>
<circle cx="83.4" cy="339.7" r="1.75" fill="none" stroke="#d4909a" stroke-width="0.7"/>
<circle cx="194.9" cy="348.4" r="1.75" fill="none" stroke="#d4909a" stroke-width="0.7"/>
<circle cx="84.6" cy="343.0" r="1.75" fill="none" stroke="#d4909a" stroke-width="0.7"/>
<circle cx="93.7" cy="344.8" r="1.75" fill="none" stroke="#d4909a" stroke-width="0.7"/>
<circle cx="213.5" cy="349.5" r="1.75" fill="none" stroke="#d4909a" stroke-width="0.7"/>
<circle cx="192.2" cy="352.0" r="1.75" fill="none" stroke="#d4909a" stroke-width="0.7"/>
<circle cx="103.2" cy="338.6" r="1.75" fill="none" stroke="#d4909a" stroke-width="0.7"/>
<circle cx="115.7" cy="342.8" r="1.75" fill="none" stroke="#d4909a" stroke-width="0.7"/>
<circle cx="197.1" cy="343.7" r="1.75" fill="none" stroke="#d4909a" stroke-width="0.7"/>
<circle cx="202.6" cy="346.3" r="1.75" fill="none" stroke="#d4909a" stroke-width="0.7"/>
<circle cx="67.9" cy="355.0" r="1.5" fill="#2f7fa8" stroke="#1f4f68" stroke-width="0.6"/>
<circle cx="80.6" cy="352.6" r="1.5" fill="#2f7fa8" stroke="#1f4f68" stroke-width="0.6"/>
<circle cx="78.8" cy="354.4" r="1.5" fill="#2f7fa8" stroke="#1f4f68" stroke-width="0.6"/>
<circle cx="82.4" cy="354.4" r="1.5" fill="#2f7fa8" stroke="#1f4f68" stroke-width="0.6"/>
<circle cx="92.4" cy="352.6" r="1.5" fill="#2f7fa8" stroke="#1f4f68" stroke-width="0.6"/>
<circle cx="98.8" cy="353.5" r="1.5" fill="#2f7fa8" stroke="#1f4f68" stroke-width="0.6"/>
<circle cx="104.2" cy="352.6" r="1.5" fill="#2f7fa8" stroke="#1f4f68" stroke-width="0.6"/>
<circle cx="163.9" cy="271.1" r="1.5" fill="#2f7fa8" stroke="#1f4f68" stroke-width="0.6"/>
<circle cx="148.4" cy="323.3" r="1.5" fill="#2f7fa8" stroke="#1f4f68" stroke-width="0.6"/>
<circle cx="150.6" cy="334.6" r="1.5" fill="#2f7fa8" stroke="#1f4f68" stroke-width="0.6"/>
<circle cx="153.6" cy="333.8" r="1.5" fill="#2f7fa8" stroke="#1f4f68" stroke-width="0.6"/>
<circle cx="134.1" cy="339.1" r="1.5" fill="#2f7fa8" stroke="#1f4f68" stroke-width="0.6"/>
<circle cx="144.6" cy="340.6" r="1.5" fill="#2f7fa8" stroke="#1f4f68" stroke-width="0.6"/>
<circle cx="141.6" cy="342.9" r="1.5" fill="#2f7fa8" stroke="#1f4f68" stroke-width="0.6"/>
<circle cx="107.0" cy="342.1" r="1.5" fill="#2f7fa8" stroke="#1f4f68" stroke-width="0.6"/>
<circle cx="119.1" cy="345.1" r="1.5" fill="#2f7fa8" stroke="#1f4f68" stroke-width="0.6"/>
<circle cx="129.6" cy="342.9" r="1.5" fill="#2f7fa8" stroke="#1f4f68" stroke-width="0.6"/>
<circle cx="132.6" cy="345.1" r="1.5" fill="#2f7fa8" stroke="#1f4f68" stroke-width="0.6"/>
<circle cx="150.6" cy="343.6" r="1.5" fill="#2f7fa8" stroke="#1f4f68" stroke-width="0.6"/>
<circle cx="152.1" cy="347.4" r="1.5" fill="#2f7fa8" stroke="#1f4f68" stroke-width="0.6"/>
<circle cx="98.0" cy="354.1" r="1.5" fill="#2f7fa8" stroke="#1f4f68" stroke-width="0.6"/>
<circle cx="105.5" cy="350.4" r="1.5" fill="#2f7fa8" stroke="#1f4f68" stroke-width="0.6"/>
<circle cx="111.5" cy="351.1" r="1.5" fill="#2f7fa8" stroke="#1f4f68" stroke-width="0.6"/>
<circle cx="116.1" cy="351.9" r="1.5" fill="#2f7fa8" stroke="#1f4f68" stroke-width="0.6"/>
<circle cx="124.3" cy="350.4" r="1.5" fill="#2f7fa8" stroke="#1f4f68" stroke-width="0.6"/>
<circle cx="128.1" cy="352.6" r="1.5" fill="#2f7fa8" stroke="#1f4f68" stroke-width="0.6"/>
<circle cx="137.1" cy="349.6" r="1.5" fill="#2f7fa8" stroke="#1f4f68" stroke-width="0.6"/>
<circle cx="140.1" cy="353.4" r="1.5" fill="#2f7fa8" stroke="#1f4f68" stroke-width="0.6"/>
<circle cx="143.1" cy="351.9" r="1.5" fill="#2f7fa8" stroke="#1f4f68" stroke-width="0.6"/>
<circle cx="134.1" cy="351.9" r="1.5" fill="#2f7fa8" stroke="#1f4f68" stroke-width="0.6"/>
<circle cx="148.4" cy="349.6" r="1.5" fill="#2f7fa8" stroke="#1f4f68" stroke-width="0.6"/>
<circle cx="150.6" cy="353.4" r="1.5" fill="#2f7fa8" stroke="#1f4f68" stroke-width="0.6"/>
<circle cx="120.6" cy="353.4" r="1.5" fill="#2f7fa8" stroke="#1f4f68" stroke-width="0.6"/>
<circle cx="189.1" cy="306.8" r="1.5" fill="#2f7fa8" stroke="#1f4f68" stroke-width="0.6"/>
<circle cx="200.4" cy="300.8" r="1.5" fill="#2f7fa8" stroke="#1f4f68" stroke-width="0.6"/>
<circle cx="163.5" cy="315.0" r="1.5" fill="#2f7fa8" stroke="#1f4f68" stroke-width="0.6"/>
<circle cx="177.8" cy="315.0" r="1.5" fill="#2f7fa8" stroke="#1f4f68" stroke-width="0.6"/>
<circle cx="159.0" cy="322.6" r="1.5" fill="#2f7fa8" stroke="#1f4f68" stroke-width="0.6"/>
<circle cx="175.6" cy="327.8" r="1.5" fill="#2f7fa8" stroke="#1f4f68" stroke-width="0.6"/>
<circle cx="178.6" cy="327.8" r="1.5" fill="#2f7fa8" stroke="#1f4f68" stroke-width="0.6"/>
<circle cx="183.8" cy="328.6" r="1.5" fill="#2f7fa8" stroke="#1f4f68" stroke-width="0.6"/>
<circle cx="188.3" cy="325.6" r="1.5" fill="#2f7fa8" stroke="#1f4f68" stroke-width="0.6"/>
<circle cx="195.1" cy="326.3" r="1.5" fill="#2f7fa8" stroke="#1f4f68" stroke-width="0.6"/>
<circle cx="197.4" cy="327.1" r="1.5" fill="#2f7fa8" stroke="#1f4f68" stroke-width="0.6"/>
<circle cx="204.9" cy="330.8" r="1.5" fill="#2f7fa8" stroke="#1f4f68" stroke-width="0.6"/>
<circle cx="150.8" cy="334.6" r="1.5" fill="#2f7fa8" stroke="#1f4f68" stroke-width="0.6"/>
<circle cx="153.0" cy="336.1" r="1.5" fill="#2f7fa8" stroke="#1f4f68" stroke-width="0.6"/>
<circle cx="164.3" cy="336.1" r="1.5" fill="#2f7fa8" stroke="#1f4f68" stroke-width="0.6"/>
<circle cx="168.8" cy="335.3" r="1.5" fill="#2f7fa8" stroke="#1f4f68" stroke-width="0.6"/>
<circle cx="172.6" cy="336.1" r="1.5" fill="#2f7fa8" stroke="#1f4f68" stroke-width="0.6"/>
<circle cx="184.6" cy="333.8" r="1.5" fill="#2f7fa8" stroke="#1f4f68" stroke-width="0.6"/>
<circle cx="189.1" cy="335.3" r="1.5" fill="#2f7fa8" stroke="#1f4f68" stroke-width="0.6"/>
<circle cx="195.1" cy="338.3" r="1.5" fill="#2f7fa8" stroke="#1f4f68" stroke-width="0.6"/>
<circle cx="153.0" cy="341.4" r="1.5" fill="#2f7fa8" stroke="#1f4f68" stroke-width="0.6"/>
<circle cx="156.8" cy="342.1" r="1.5" fill="#2f7fa8" stroke="#1f4f68" stroke-width="0.6"/>
<circle cx="159.0" cy="340.6" r="1.5" fill="#2f7fa8" stroke="#1f4f68" stroke-width="0.6"/>
<circle cx="167.3" cy="342.9" r="1.5" fill="#2f7fa8" stroke="#1f4f68" stroke-width="0.6"/>
<circle cx="181.6" cy="340.6" r="1.5" fill="#2f7fa8" stroke="#1f4f68" stroke-width="0.6"/>
<circle cx="189.8" cy="342.9" r="1.5" fill="#2f7fa8" stroke="#1f4f68" stroke-width="0.6"/>
<circle cx="195.1" cy="339.1" r="1.5" fill="#2f7fa8" stroke="#1f4f68" stroke-width="0.6"/>
<circle cx="200.4" cy="342.1" r="1.5" fill="#2f7fa8" stroke="#1f4f68" stroke-width="0.6"/>
<circle cx="150.0" cy="345.9" r="1.5" fill="#2f7fa8" stroke="#1f4f68" stroke-width="0.6"/>
<circle cx="153.0" cy="348.1" r="1.5" fill="#2f7fa8" stroke="#1f4f68" stroke-width="0.6"/>
<circle cx="157.5" cy="346.6" r="1.5" fill="#2f7fa8" stroke="#1f4f68" stroke-width="0.6"/>
<circle cx="165.0" cy="348.1" r="1.5" fill="#2f7fa8" stroke="#1f4f68" stroke-width="0.6"/>
<circle cx="171.0" cy="348.1" r="1.5" fill="#2f7fa8" stroke="#1f4f68" stroke-width="0.6"/>
<circle cx="186.8" cy="347.4" r="1.5" fill="#2f7fa8" stroke="#1f4f68" stroke-width="0.6"/>
<circle cx="192.1" cy="346.6" r="1.5" fill="#2f7fa8" stroke="#1f4f68" stroke-width="0.6"/>
<circle cx="159.0" cy="351.9" r="1.5" fill="#2f7fa8" stroke="#1f4f68" stroke-width="0.6"/>
<circle cx="161.3" cy="351.9" r="1.5" fill="#2f7fa8" stroke="#1f4f68" stroke-width="0.6"/>
<circle cx="180.8" cy="351.9" r="1.5" fill="#2f7fa8" stroke="#1f4f68" stroke-width="0.6"/>
<circle cx="193.5" cy="298.1" r="1.5" fill="#2f7fa8" stroke="#1f4f68" stroke-width="0.6"/>
<circle cx="200.3" cy="299.8" r="1.5" fill="#2f7fa8" stroke="#1f4f68" stroke-width="0.6"/>
<circle cx="214.4" cy="317.3" r="1.5" fill="#2f7fa8" stroke="#1f4f68" stroke-width="0.6"/>
<circle cx="217.0" cy="313.8" r="1.5" fill="#2f7fa8" stroke="#1f4f68" stroke-width="0.6"/>
<circle cx="218.8" cy="312.0" r="1.5" fill="#2f7fa8" stroke="#1f4f68" stroke-width="0.6"/>
<circle cx="224.9" cy="315.5" r="1.5" fill="#2f7fa8" stroke="#1f4f68" stroke-width="0.6"/>
<circle cx="195.9" cy="326.1" r="1.5" fill="#2f7fa8" stroke="#1f4f68" stroke-width="0.6"/>
<circle cx="197.6" cy="327.0" r="1.5" fill="#2f7fa8" stroke="#1f4f68" stroke-width="0.6"/>
<circle cx="204.7" cy="330.5" r="1.5" fill="#2f7fa8" stroke="#1f4f68" stroke-width="0.6"/>
<circle cx="203.8" cy="333.1" r="1.5" fill="#2f7fa8" stroke="#1f4f68" stroke-width="0.6"/>
<circle cx="217.9" cy="329.6" r="1.5" fill="#2f7fa8" stroke="#1f4f68" stroke-width="0.6"/>
<circle cx="211.7" cy="337.5" r="1.5" fill="#2f7fa8" stroke="#1f4f68" stroke-width="0.6"/>
<circle cx="216.1" cy="335.8" r="1.5" fill="#2f7fa8" stroke="#1f4f68" stroke-width="0.6"/>
<circle cx="217.0" cy="334.0" r="1.5" fill="#2f7fa8" stroke="#1f4f68" stroke-width="0.6"/>
<circle cx="224.0" cy="336.7" r="1.5" fill="#2f7fa8" stroke="#1f4f68" stroke-width="0.6"/>
<circle cx="229.3" cy="338.4" r="1.5" fill="#2f7fa8" stroke="#1f4f68" stroke-width="0.6"/>
<circle cx="231.1" cy="340.2" r="1.5" fill="#2f7fa8" stroke="#1f4f68" stroke-width="0.6"/>
<circle cx="229.3" cy="342.8" r="1.5" fill="#2f7fa8" stroke="#1f4f68" stroke-width="0.6"/>
<circle cx="196.8" cy="340.2" r="1.5" fill="#2f7fa8" stroke="#1f4f68" stroke-width="0.6"/>
<circle cx="200.3" cy="341.9" r="1.5" fill="#2f7fa8" stroke="#1f4f68" stroke-width="0.6"/>
<circle cx="210.8" cy="344.6" r="1.5" fill="#2f7fa8" stroke="#1f4f68" stroke-width="0.6"/>
<circle cx="111.3" cy="332.8" r="1.5" fill="#2f7fa8" stroke="#1f4f68" stroke-width="0.6"/>
<circle cx="88.0" cy="343.7" r="1.5" fill="#2f7fa8" stroke="#1f4f68" stroke-width="0.6"/>
<circle cx="105.9" cy="342.1" r="1.5" fill="#2f7fa8" stroke="#1f4f68" stroke-width="0.6"/>
<circle cx="148.6" cy="323.9" r="1.5" fill="#2f7fa8" stroke="#1f4f68" stroke-width="0.6"/>
<circle cx="146.6" cy="334.8" r="1.5" fill="#2f7fa8" stroke="#1f4f68" stroke-width="0.6"/>
<circle cx="149.6" cy="333.8" r="1.5" fill="#2f7fa8" stroke="#1f4f68" stroke-width="0.6"/>
<circle cx="151.5" cy="335.8" r="1.5" fill="#2f7fa8" stroke="#1f4f68" stroke-width="0.6"/>
<circle cx="134.8" cy="338.7" r="1.5" fill="#2f7fa8" stroke="#1f4f68" stroke-width="0.6"/>
<circle cx="131.8" cy="342.7" r="1.5" fill="#2f7fa8" stroke="#1f4f68" stroke-width="0.6"/>
<circle cx="133.8" cy="341.2" r="1.5" fill="#2f7fa8" stroke="#1f4f68" stroke-width="0.6"/>
<circle cx="142.7" cy="339.7" r="1.5" fill="#2f7fa8" stroke="#1f4f68" stroke-width="0.6"/>
<circle cx="144.6" cy="341.2" r="1.5" fill="#2f7fa8" stroke="#1f4f68" stroke-width="0.6"/>
<circle cx="152.5" cy="342.7" r="1.5" fill="#2f7fa8" stroke="#1f4f68" stroke-width="0.6"/>
<circle cx="156.5" cy="341.7" r="1.5" fill="#2f7fa8" stroke="#1f4f68" stroke-width="0.6"/>
<circle cx="159.4" cy="342.7" r="1.5" fill="#2f7fa8" stroke="#1f4f68" stroke-width="0.6"/>
<circle cx="129.4" cy="346.6" r="1.5" fill="#2f7fa8" stroke="#1f4f68" stroke-width="0.6"/>
<circle cx="131.8" cy="347.6" r="1.5" fill="#2f7fa8" stroke="#1f4f68" stroke-width="0.6"/>
<circle cx="141.2" cy="345.6" r="1.5" fill="#2f7fa8" stroke="#1f4f68" stroke-width="0.6"/>
<circle cx="143.6" cy="347.6" r="1.5" fill="#2f7fa8" stroke="#1f4f68" stroke-width="0.6"/>
<circle cx="149.6" cy="346.6" r="1.5" fill="#2f7fa8" stroke="#1f4f68" stroke-width="0.6"/>
<circle cx="154.5" cy="347.6" r="1.5" fill="#2f7fa8" stroke="#1f4f68" stroke-width="0.6"/>
<circle cx="123.0" cy="352.5" r="1.5" fill="#2f7fa8" stroke="#1f4f68" stroke-width="0.6"/>
<circle cx="125.9" cy="351.5" r="1.5" fill="#2f7fa8" stroke="#1f4f68" stroke-width="0.6"/>
<circle cx="127.9" cy="353.5" r="1.5" fill="#2f7fa8" stroke="#1f4f68" stroke-width="0.6"/>
<circle cx="134.8" cy="351.5" r="1.5" fill="#2f7fa8" stroke="#1f4f68" stroke-width="0.6"/>
<circle cx="138.7" cy="352.5" r="1.5" fill="#2f7fa8" stroke="#1f4f68" stroke-width="0.6"/>
<circle cx="140.7" cy="354.0" r="1.5" fill="#2f7fa8" stroke="#1f4f68" stroke-width="0.6"/>
<circle cx="147.6" cy="351.5" r="1.5" fill="#2f7fa8" stroke="#1f4f68" stroke-width="0.6"/>
<circle cx="149.6" cy="354.5" r="1.5" fill="#2f7fa8" stroke="#1f4f68" stroke-width="0.6"/>
<circle cx="157.4" cy="350.5" r="1.5" fill="#2f7fa8" stroke="#1f4f68" stroke-width="0.6"/>
<circle cx="158.9" cy="352.5" r="1.5" fill="#2f7fa8" stroke="#1f4f68" stroke-width="0.6"/>
<circle cx="120.5" cy="343.6" r="1.5" fill="#2f7fa8" stroke="#1f4f68" stroke-width="0.6"/>
<circle cx="120.0" cy="347.6" r="1.5" fill="#2f7fa8" stroke="#1f4f68" stroke-width="0.6"/>
<circle cx="166.9" cy="329.9" r="1.5" fill="#2f7fa8" stroke="#1f4f68" stroke-width="0.6"/>
<circle cx="175.8" cy="329.4" r="1.5" fill="#2f7fa8" stroke="#1f4f68" stroke-width="0.6"/>
<circle cx="178.2" cy="327.9" r="1.5" fill="#2f7fa8" stroke="#1f4f68" stroke-width="0.6"/>
<circle cx="183.6" cy="328.4" r="1.5" fill="#2f7fa8" stroke="#1f4f68" stroke-width="0.6"/>
<circle cx="188.1" cy="325.4" r="1.5" fill="#2f7fa8" stroke="#1f4f68" stroke-width="0.6"/>
<circle cx="194.5" cy="326.9" r="1.5" fill="#2f7fa8" stroke="#1f4f68" stroke-width="0.6"/>
<circle cx="196.9" cy="326.4" r="1.5" fill="#2f7fa8" stroke="#1f4f68" stroke-width="0.6"/>
<circle cx="163.0" cy="335.8" r="1.5" fill="#2f7fa8" stroke="#1f4f68" stroke-width="0.6"/>
<circle cx="165.4" cy="334.8" r="1.5" fill="#2f7fa8" stroke="#1f4f68" stroke-width="0.6"/>
<circle cx="168.4" cy="333.3" r="1.5" fill="#2f7fa8" stroke="#1f4f68" stroke-width="0.6"/>
<circle cx="169.9" cy="334.8" r="1.5" fill="#2f7fa8" stroke="#1f4f68" stroke-width="0.6"/>
<circle cx="184.6" cy="332.8" r="1.5" fill="#2f7fa8" stroke="#1f4f68" stroke-width="0.6"/>
<circle cx="186.6" cy="334.8" r="1.5" fill="#2f7fa8" stroke="#1f4f68" stroke-width="0.6"/>
<circle cx="188.6" cy="335.8" r="1.5" fill="#2f7fa8" stroke="#1f4f68" stroke-width="0.6"/>
<circle cx="195.5" cy="338.7" r="1.5" fill="#2f7fa8" stroke="#1f4f68" stroke-width="0.6"/>
<circle cx="197.9" cy="339.7" r="1.5" fill="#2f7fa8" stroke="#1f4f68" stroke-width="0.6"/>
<circle cx="160.0" cy="340.7" r="1.5" fill="#2f7fa8" stroke="#1f4f68" stroke-width="0.6"/>
<circle cx="161.0" cy="343.6" r="1.5" fill="#2f7fa8" stroke="#1f4f68" stroke-width="0.6"/>
<circle cx="170.8" cy="340.7" r="1.5" fill="#2f7fa8" stroke="#1f4f68" stroke-width="0.6"/>
<circle cx="169.9" cy="343.6" r="1.5" fill="#2f7fa8" stroke="#1f4f68" stroke-width="0.6"/>
<circle cx="172.8" cy="344.1" r="1.5" fill="#2f7fa8" stroke="#1f4f68" stroke-width="0.6"/>
<circle cx="175.3" cy="341.2" r="1.5" fill="#2f7fa8" stroke="#1f4f68" stroke-width="0.6"/>
<circle cx="175.8" cy="343.2" r="1.5" fill="#2f7fa8" stroke="#1f4f68" stroke-width="0.6"/>
<circle cx="179.2" cy="338.2" r="1.5" fill="#2f7fa8" stroke="#1f4f68" stroke-width="0.6"/>
<circle cx="182.7" cy="340.7" r="1.5" fill="#2f7fa8" stroke="#1f4f68" stroke-width="0.6"/>
<circle cx="189.6" cy="343.2" r="1.5" fill="#2f7fa8" stroke="#1f4f68" stroke-width="0.6"/>
<circle cx="164.4" cy="346.6" r="1.5" fill="#2f7fa8" stroke="#1f4f68" stroke-width="0.6"/>
<circle cx="165.9" cy="347.6" r="1.5" fill="#2f7fa8" stroke="#1f4f68" stroke-width="0.6"/>
<circle cx="171.3" cy="348.6" r="1.5" fill="#2f7fa8" stroke="#1f4f68" stroke-width="0.6"/>
<circle cx="187.1" cy="346.6" r="1.5" fill="#2f7fa8" stroke="#1f4f68" stroke-width="0.6"/>
<circle cx="192.0" cy="346.6" r="1.5" fill="#2f7fa8" stroke="#1f4f68" stroke-width="0.6"/>
<circle cx="160.0" cy="350.5" r="1.5" fill="#2f7fa8" stroke="#1f4f68" stroke-width="0.6"/>
<circle cx="181.2" cy="352.0" r="1.5" fill="#2f7fa8" stroke="#1f4f68" stroke-width="0.6"/>
<path d="M60.63,336.10 L64.40,335.75 L68.18,335.39 L71.96,335.02 L75.73,334.64 L79.51,334.25 L83.28,333.85 L87.06,333.44 L90.84,333.01 L94.61,332.56 L98.39,332.10 L102.16,331.61 L105.94,331.08 L109.72,330.53 L113.49,329.92 L117.27,329.27 L121.04,328.55 L124.82,327.77 L128.60,326.90 L132.37,325.96 L136.15,324.94 L139.93,323.84 L143.70,322.67 L147.48,321.42 L151.25,320.10 L155.03,318.71 L158.81,317.24 L162.58,315.71 L166.36,314.09 L170.13,312.41 L173.91,310.64 L177.69,308.80 L181.46,306.87 L185.24,304.86 L189.01,302.75 L192.79,300.56 L196.57,298.27 L200.34,295.88 L204.12,293.39 L207.90,290.79 L211.67,288.08 L215.45,285.26 L219.22,282.31 L223.00,279.23 L226.78,276.03 L230.55,272.69 L234.33,269.20 L238.10,265.57 L238.10,313.29 L234.33,314.02 L230.55,314.73 L226.78,315.44 L223.00,316.13 L219.22,316.81 L215.45,317.48 L211.67,318.14 L207.90,318.79 L204.12,319.42 L200.34,320.05 L196.57,320.68 L192.79,321.29 L189.01,321.89 L185.24,322.49 L181.46,323.07 L177.69,323.66 L173.91,324.23 L170.13,324.80 L166.36,325.37 L162.58,325.93 L158.81,326.49 L155.03,327.05 L151.25,327.61 L147.48,328.17 L143.70,328.74 L139.93,329.33 L136.15,329.93 L132.37,330.55 L128.60,331.19 L124.82,331.85 L121.04,332.55 L117.27,333.26 L113.49,333.98 L109.72,334.71 L105.94,335.45 L102.16,336.17 L98.39,336.88 L94.61,337.58 L90.84,338.26 L87.06,338.92 L83.28,339.56 L79.51,340.18 L75.73,340.78 L71.96,341.36 L68.18,341.92 L64.40,342.45 L60.63,342.97 Z" fill="#c4c282" fill-opacity="0.52" stroke="none"/>
<path d="M60.63,339.91 L64.40,339.45 L68.18,338.97 L71.96,338.48 L75.73,337.98 L79.51,337.46 L83.28,336.93 L87.06,336.38 L90.84,335.81 L94.61,335.23 L98.39,334.63 L102.16,334.01 L105.94,333.37 L109.72,332.72 L113.49,332.04 L117.27,331.35 L121.04,330.63 L124.82,329.89 L128.60,329.13 L132.37,328.35 L136.15,327.55 L139.93,326.72 L143.70,325.86 L147.48,324.98 L151.25,324.08 L155.03,323.14 L158.81,322.18 L162.58,321.20 L166.36,320.18 L170.13,319.13 L173.91,318.05 L177.69,316.94 L181.46,315.79 L185.24,314.61 L189.01,313.40 L192.79,312.15 L196.57,310.86 L200.34,309.53 L204.12,308.17 L207.90,306.76 L211.67,305.32 L215.45,303.82 L219.22,302.29 L223.00,300.71 L226.78,299.08 L230.55,297.40 L234.33,295.68 L238.10,293.90" fill="none" stroke="#627218" stroke-width="1.35" stroke-linejoin="round"/>
<path d="M45.14,340.71 L48.61,340.34 L52.08,339.97 L55.54,339.58 L59.01,339.18 L62.48,338.77 L65.95,338.35 L69.42,337.92 L72.89,337.48 L76.35,337.02 L79.82,336.55 L83.29,336.07 L86.76,335.57 L90.23,335.06 L93.69,334.53 L97.16,333.98 L100.63,333.42 L104.10,332.84 L107.57,332.24 L111.03,331.62 L114.50,330.98 L117.97,330.32 L121.44,329.63 L124.91,328.92 L128.38,328.18 L131.84,327.41 L135.31,326.61 L138.78,325.77 L142.25,324.91 L145.72,324.00 L149.18,323.05 L152.65,322.06 L156.12,321.02 L159.59,319.93 L163.06,318.78 L166.53,317.58 L169.99,316.31 L173.46,314.98 L176.93,313.57 L180.40,312.09 L183.87,310.53 L187.33,308.88 L190.80,307.14 L194.27,305.30 L197.74,303.36 L201.21,301.32 L204.68,299.17 L208.14,296.91 L208.14,317.84 L204.68,318.96 L201.21,320.06 L197.74,321.15 L194.27,322.23 L190.80,323.29 L187.33,324.33 L183.87,325.36 L180.40,326.37 L176.93,327.37 L173.46,328.35 L169.99,329.31 L166.53,330.25 L163.06,331.18 L159.59,332.08 L156.12,332.96 L152.65,333.82 L149.18,334.66 L145.72,335.47 L142.25,336.26 L138.78,337.03 L135.31,337.77 L131.84,338.49 L128.38,339.19 L124.91,339.86 L121.44,340.50 L117.97,341.13 L114.50,341.73 L111.03,342.30 L107.57,342.86 L104.10,343.39 L100.63,343.91 L97.16,344.40 L93.69,344.87 L90.23,345.33 L86.76,345.76 L83.29,346.18 L79.82,346.58 L76.35,346.97 L72.89,347.33 L69.42,347.69 L65.95,348.02 L62.48,348.35 L59.01,348.66 L55.54,348.95 L52.08,349.24 L48.61,349.51 L45.14,349.77 Z" fill="#ee7262" fill-opacity="0.46" stroke="none"/>
<path d="M45.14,346.31 L48.61,345.98 L52.08,345.65 L55.54,345.30 L59.01,344.94 L62.48,344.57 L65.95,344.19 L69.42,343.79 L72.89,343.38 L76.35,342.95 L79.82,342.51 L83.29,342.05 L86.76,341.58 L90.23,341.09 L93.69,340.58 L97.16,340.05 L100.63,339.51 L104.10,338.94 L107.57,338.36 L111.03,337.75 L114.50,337.13 L117.97,336.48 L121.44,335.81 L124.91,335.11 L128.38,334.39 L131.84,333.64 L135.31,332.87 L138.78,332.07 L142.25,331.24 L145.72,330.39 L149.18,329.50 L152.65,328.58 L156.12,327.63 L159.59,326.64 L163.06,325.62 L166.53,324.56 L169.99,323.47 L173.46,322.33 L176.93,321.16 L180.40,319.94 L183.87,318.68 L187.33,317.38 L190.80,316.03 L194.27,314.63 L197.74,313.18 L201.21,311.69 L204.68,310.13 L208.14,308.53" fill="none" stroke="#e05a60" stroke-width="1.1" stroke-linejoin="round"/>
<path d="M67.99,347.40 L71.78,347.17 L75.56,346.93 L79.35,346.69 L83.14,346.43 L86.93,346.17 L90.71,345.90 L94.50,345.62 L98.29,345.34 L102.07,345.04 L105.86,344.73 L109.65,344.42 L113.43,344.09 L117.22,343.75 L121.01,343.40 L124.79,343.04 L128.58,342.66 L132.37,342.27 L136.15,341.86 L139.94,341.44 L143.73,340.99 L147.52,340.52 L151.30,340.03 L155.09,339.51 L158.88,338.96 L162.66,338.37 L166.45,337.74 L170.24,337.05 L174.02,336.31 L177.81,335.51 L181.60,334.63 L185.38,333.68 L189.17,332.64 L192.96,331.52 L196.75,330.30 L200.53,329.00 L204.32,327.60 L208.11,326.10 L211.89,324.50 L215.68,322.79 L219.47,320.97 L223.25,319.03 L227.04,316.97 L230.83,314.79 L234.61,312.47 L238.40,310.00 L242.19,307.39 L245.97,304.62 L245.97,326.83 L242.19,327.66 L238.40,328.47 L234.61,329.26 L230.83,330.03 L227.04,330.78 L223.25,331.52 L219.47,332.24 L215.68,332.96 L211.89,333.66 L208.11,334.35 L204.32,335.03 L200.53,335.71 L196.75,336.38 L192.96,337.05 L189.17,337.73 L185.38,338.40 L181.60,339.08 L177.81,339.75 L174.02,340.43 L170.24,341.10 L166.45,341.77 L162.66,342.42 L158.88,343.06 L155.09,343.67 L151.30,344.27 L147.52,344.84 L143.73,345.40 L139.94,345.92 L136.15,346.43 L132.37,346.90 L128.58,347.36 L124.79,347.80 L121.01,348.21 L117.22,348.60 L113.43,348.97 L109.65,349.32 L105.86,349.65 L102.07,349.97 L98.29,350.27 L94.50,350.55 L90.71,350.82 L86.93,351.07 L83.14,351.31 L79.35,351.53 L75.56,351.75 L71.78,351.95 L67.99,352.14 Z" fill="#94bdd6" fill-opacity="0.6" stroke="none"/>
<path d="M67.99,350.29 L71.78,350.07 L75.56,349.84 L79.35,349.60 L83.14,349.34 L86.93,349.08 L90.71,348.80 L94.50,348.51 L98.29,348.21 L102.07,347.90 L105.86,347.57 L109.65,347.23 L113.43,346.87 L117.22,346.50 L121.01,346.11 L124.79,345.70 L128.58,345.28 L132.37,344.84 L136.15,344.38 L139.94,343.90 L143.73,343.39 L147.52,342.87 L151.30,342.32 L155.09,341.75 L158.88,341.15 L162.66,340.53 L166.45,339.88 L170.24,339.20 L174.02,338.50 L177.81,337.76 L181.60,336.99 L185.38,336.18 L189.17,335.34 L192.96,334.47 L196.75,333.55 L200.53,332.60 L204.32,331.60 L208.11,330.56 L211.89,329.48 L215.68,328.35 L219.47,327.16 L223.25,325.93 L227.04,324.64 L230.83,323.30 L234.61,321.90 L238.40,320.43 L242.19,318.91 L245.97,317.31" fill="none" stroke="#3a82ae" stroke-width="1.1" stroke-linejoin="round"/>
<rect x="335.2" y="351.0" width="3.3" height="3.3" fill="none" stroke="#a09c6c" stroke-width="0.65"/>
<rect x="337.9" y="352.7" width="3.3" height="3.3" fill="none" stroke="#a09c6c" stroke-width="0.65"/>
<rect x="371.4" y="318.4" width="3.3" height="3.3" fill="none" stroke="#a09c6c" stroke-width="0.65"/>
<rect x="373.1" y="323.2" width="3.3" height="3.3" fill="none" stroke="#a09c6c" stroke-width="0.65"/>
<rect x="382.8" y="316.6" width="3.3" height="3.3" fill="none" stroke="#a09c6c" stroke-width="0.65"/>
<rect x="381.9" y="321.0" width="3.3" height="3.3" fill="none" stroke="#a09c6c" stroke-width="0.65"/>
<rect x="375.8" y="351.0" width="3.3" height="3.3" fill="none" stroke="#a09c6c" stroke-width="0.65"/>
<rect x="379.2" y="351.8" width="3.3" height="3.3" fill="none" stroke="#a09c6c" stroke-width="0.65"/>
<rect x="401.0" y="299.2" width="3.3" height="3.3" fill="none" stroke="#a09c6c" stroke-width="0.65"/>
<rect x="397.2" y="308.2" width="3.3" height="3.3" fill="none" stroke="#a09c6c" stroke-width="0.65"/>
<rect x="401.0" y="308.9" width="3.3" height="3.3" fill="none" stroke="#a09c6c" stroke-width="0.65"/>
<rect x="413.7" y="305.9" width="3.3" height="3.3" fill="none" stroke="#a09c6c" stroke-width="0.65"/>
<rect x="418.2" y="305.2" width="3.3" height="3.3" fill="none" stroke="#a09c6c" stroke-width="0.65"/>
<rect x="425.0" y="308.2" width="3.3" height="3.3" fill="none" stroke="#a09c6c" stroke-width="0.65"/>
<rect x="427.2" y="309.7" width="3.3" height="3.3" fill="none" stroke="#a09c6c" stroke-width="0.65"/>
<rect x="424.2" y="313.4" width="3.3" height="3.3" fill="none" stroke="#a09c6c" stroke-width="0.65"/>
<rect x="382.9" y="317.2" width="3.3" height="3.3" fill="none" stroke="#a09c6c" stroke-width="0.65"/>
<rect x="382.2" y="321.0" width="3.3" height="3.3" fill="none" stroke="#a09c6c" stroke-width="0.65"/>
<rect x="412.2" y="317.9" width="3.3" height="3.3" fill="none" stroke="#a09c6c" stroke-width="0.65"/>
<rect x="412.2" y="321.7" width="3.3" height="3.3" fill="none" stroke="#a09c6c" stroke-width="0.65"/>
<rect x="406.2" y="322.5" width="3.3" height="3.3" fill="none" stroke="#a09c6c" stroke-width="0.65"/>
<rect x="382.9" y="351.8" width="3.3" height="3.3" fill="none" stroke="#a09c6c" stroke-width="0.65"/>
<rect x="379.9" y="349.5" width="3.3" height="3.3" fill="none" stroke="#a09c6c" stroke-width="0.65"/>
<rect x="391.9" y="351.0" width="3.3" height="3.3" fill="none" stroke="#a09c6c" stroke-width="0.65"/>
<rect x="393.4" y="352.5" width="3.3" height="3.3" fill="none" stroke="#a09c6c" stroke-width="0.65"/>
<rect x="410.7" y="339.0" width="3.3" height="3.3" fill="none" stroke="#a09c6c" stroke-width="0.65"/>
<rect x="423.5" y="337.5" width="3.3" height="3.3" fill="none" stroke="#a09c6c" stroke-width="0.65"/>
<rect x="460.7" y="305.9" width="3.3" height="3.3" fill="none" stroke="#a09c6c" stroke-width="0.65"/>
<rect x="463.0" y="305.2" width="3.3" height="3.3" fill="none" stroke="#a09c6c" stroke-width="0.65"/>
<rect x="459.2" y="309.7" width="3.3" height="3.3" fill="none" stroke="#a09c6c" stroke-width="0.65"/>
<rect x="441.9" y="308.9" width="3.3" height="3.3" fill="none" stroke="#a09c6c" stroke-width="0.65"/>
<rect x="447.9" y="313.4" width="3.3" height="3.3" fill="none" stroke="#a09c6c" stroke-width="0.65"/>
<rect x="465.2" y="321.0" width="3.3" height="3.3" fill="none" stroke="#a09c6c" stroke-width="0.65"/>
<rect x="474.2" y="342.8" width="3.3" height="3.3" fill="none" stroke="#a09c6c" stroke-width="0.65"/>
<rect x="482.5" y="341.2" width="3.3" height="3.3" fill="none" stroke="#a09c6c" stroke-width="0.65"/>
<rect x="450.9" y="348.0" width="3.3" height="3.3" fill="none" stroke="#a09c6c" stroke-width="0.65"/>
<rect x="452.4" y="351.8" width="3.3" height="3.3" fill="none" stroke="#a09c6c" stroke-width="0.65"/>
<rect x="453.9" y="352.5" width="3.3" height="3.3" fill="none" stroke="#a09c6c" stroke-width="0.65"/>
<rect x="430.7" y="234.2" width="3.3" height="3.3" fill="none" stroke="#a09c6c" stroke-width="0.65"/>
<rect x="406.0" y="247.9" width="3.3" height="3.3" fill="none" stroke="#a09c6c" stroke-width="0.65"/>
<rect x="447.0" y="251.0" width="3.3" height="3.3" fill="none" stroke="#a09c6c" stroke-width="0.65"/>
<rect x="408.4" y="259.2" width="3.3" height="3.3" fill="none" stroke="#a09c6c" stroke-width="0.65"/>
<rect x="460.1" y="257.8" width="3.3" height="3.3" fill="none" stroke="#a09c6c" stroke-width="0.65"/>
<rect x="406.6" y="268.0" width="3.3" height="3.3" fill="none" stroke="#a09c6c" stroke-width="0.65"/>
<rect x="410.7" y="268.0" width="3.3" height="3.3" fill="none" stroke="#a09c6c" stroke-width="0.65"/>
<rect x="439.2" y="268.0" width="3.3" height="3.3" fill="none" stroke="#a09c6c" stroke-width="0.65"/>
<rect x="423.8" y="269.8" width="3.3" height="3.3" fill="none" stroke="#a09c6c" stroke-width="0.65"/>
<rect x="421.6" y="272.0" width="3.3" height="3.3" fill="none" stroke="#a09c6c" stroke-width="0.65"/>
<rect x="460.1" y="272.0" width="3.3" height="3.3" fill="none" stroke="#a09c6c" stroke-width="0.65"/>
<rect x="458.2" y="277.0" width="3.3" height="3.3" fill="none" stroke="#a09c6c" stroke-width="0.65"/>
<rect x="434.2" y="280.1" width="3.3" height="3.3" fill="none" stroke="#a09c6c" stroke-width="0.65"/>
<rect x="418.4" y="283.8" width="3.3" height="3.3" fill="none" stroke="#a09c6c" stroke-width="0.65"/>
<rect x="432.0" y="287.4" width="3.3" height="3.3" fill="none" stroke="#a09c6c" stroke-width="0.65"/>
<rect x="428.2" y="296.5" width="3.3" height="3.3" fill="none" stroke="#a09c6c" stroke-width="0.65"/>
<rect x="424.4" y="204.2" width="3.3" height="3.3" fill="none" stroke="#a09c6c" stroke-width="0.65"/>
<rect x="381.0" y="271.1" width="3.3" height="3.3" fill="none" stroke="#a09c6c" stroke-width="0.65"/>
<rect x="389.2" y="291.9" width="3.3" height="3.3" fill="none" stroke="#a09c6c" stroke-width="0.65"/>
<rect x="396.4" y="306.4" width="3.3" height="3.3" fill="none" stroke="#a09c6c" stroke-width="0.65"/>
<rect x="508.4" y="349.4" width="3.3" height="3.3" fill="none" stroke="#a09c6c" stroke-width="0.65"/>
<circle cx="322.7" cy="355.6" r="1.75" fill="none" stroke="#d4909a" stroke-width="0.7"/>
<circle cx="372.1" cy="341.1" r="1.75" fill="none" stroke="#d4909a" stroke-width="0.7"/>
<circle cx="408.6" cy="302.3" r="1.75" fill="none" stroke="#d4909a" stroke-width="0.7"/>
<circle cx="407.8" cy="305.3" r="1.75" fill="none" stroke="#d4909a" stroke-width="0.7"/>
<circle cx="419.8" cy="312.8" r="1.75" fill="none" stroke="#d4909a" stroke-width="0.7"/>
<circle cx="418.3" cy="312.0" r="1.75" fill="none" stroke="#d4909a" stroke-width="0.7"/>
<circle cx="390.5" cy="315.0" r="1.75" fill="none" stroke="#d4909a" stroke-width="0.7"/>
<circle cx="392.8" cy="317.3" r="1.75" fill="none" stroke="#d4909a" stroke-width="0.7"/>
<circle cx="436.4" cy="312.0" r="1.75" fill="none" stroke="#d4909a" stroke-width="0.7"/>
<circle cx="437.1" cy="314.3" r="1.75" fill="none" stroke="#d4909a" stroke-width="0.7"/>
<circle cx="388.3" cy="327.1" r="1.75" fill="none" stroke="#d4909a" stroke-width="0.7"/>
<circle cx="390.5" cy="327.8" r="1.75" fill="none" stroke="#d4909a" stroke-width="0.7"/>
<circle cx="426.6" cy="336.1" r="1.75" fill="none" stroke="#d4909a" stroke-width="0.7"/>
<circle cx="395.0" cy="340.6" r="1.75" fill="none" stroke="#d4909a" stroke-width="0.7"/>
<circle cx="441.3" cy="301.5" r="1.75" fill="none" stroke="#d4909a" stroke-width="0.7"/>
<circle cx="438.3" cy="303.0" r="1.75" fill="none" stroke="#d4909a" stroke-width="0.7"/>
<circle cx="440.5" cy="306.0" r="1.75" fill="none" stroke="#d4909a" stroke-width="0.7"/>
<circle cx="451.8" cy="300.8" r="1.75" fill="none" stroke="#d4909a" stroke-width="0.7"/>
<circle cx="452.5" cy="303.0" r="1.75" fill="none" stroke="#d4909a" stroke-width="0.7"/>
<circle cx="454.8" cy="307.5" r="1.75" fill="none" stroke="#d4909a" stroke-width="0.7"/>
<circle cx="436.0" cy="312.0" r="1.75" fill="none" stroke="#d4909a" stroke-width="0.7"/>
<circle cx="438.3" cy="314.3" r="1.75" fill="none" stroke="#d4909a" stroke-width="0.7"/>
<circle cx="447.3" cy="336.1" r="1.75" fill="none" stroke="#d4909a" stroke-width="0.7"/>
<circle cx="442.8" cy="333.1" r="1.75" fill="none" stroke="#d4909a" stroke-width="0.7"/>
<circle cx="476.6" cy="345.1" r="1.75" fill="none" stroke="#d4909a" stroke-width="0.7"/>
<circle cx="420.9" cy="238.7" r="1.75" fill="none" stroke="#d4909a" stroke-width="0.7"/>
<circle cx="410.9" cy="241.8" r="1.75" fill="none" stroke="#d4909a" stroke-width="0.7"/>
<circle cx="414.2" cy="253.2" r="1.75" fill="none" stroke="#d4909a" stroke-width="0.7"/>
<circle cx="415.4" cy="263.6" r="1.75" fill="none" stroke="#d4909a" stroke-width="0.7"/>
<circle cx="461.7" cy="266.3" r="1.75" fill="none" stroke="#d4909a" stroke-width="0.7"/>
<circle cx="419.1" cy="271.4" r="1.75" fill="none" stroke="#d4909a" stroke-width="0.7"/>
<circle cx="417.8" cy="276.3" r="1.75" fill="none" stroke="#d4909a" stroke-width="0.7"/>
<circle cx="451.2" cy="272.1" r="1.75" fill="none" stroke="#d4909a" stroke-width="0.7"/>
<circle cx="463.2" cy="285.4" r="1.75" fill="none" stroke="#d4909a" stroke-width="0.7"/>
<circle cx="437.2" cy="287.7" r="1.75" fill="none" stroke="#d4909a" stroke-width="0.7"/>
<circle cx="450.8" cy="288.4" r="1.75" fill="none" stroke="#d4909a" stroke-width="0.7"/>
<circle cx="443.2" cy="290.8" r="1.75" fill="none" stroke="#d4909a" stroke-width="0.7"/>
<circle cx="411.8" cy="293.2" r="1.75" fill="none" stroke="#d4909a" stroke-width="0.7"/>
<circle cx="449.9" cy="298.1" r="1.75" fill="none" stroke="#d4909a" stroke-width="0.7"/>
<circle cx="386.3" cy="263.6" r="1.75" fill="none" stroke="#d4909a" stroke-width="0.7"/>
<rect x="330.4" y="338.4" width="3.3" height="3.3" fill="none" stroke="#a09c6c" stroke-width="0.65"/>
<rect x="351.9" y="338.4" width="3.3" height="3.3" fill="none" stroke="#a09c6c" stroke-width="0.65"/>
<rect x="440.9" y="338.8" width="3.3" height="3.3" fill="none" stroke="#a09c6c" stroke-width="0.65"/>
<rect x="398.5" y="354.3" width="3.3" height="3.3" fill="none" stroke="#a09c6c" stroke-width="0.65"/>
<rect x="344.2" y="336.7" width="3.3" height="3.3" fill="none" stroke="#a09c6c" stroke-width="0.65"/>
<rect x="490.5" y="351.4" width="3.3" height="3.3" fill="none" stroke="#a09c6c" stroke-width="0.65"/>
<rect x="388.8" y="340.0" width="3.3" height="3.3" fill="none" stroke="#a09c6c" stroke-width="0.65"/>
<rect x="470.5" y="354.2" width="3.3" height="3.3" fill="none" stroke="#a09c6c" stroke-width="0.65"/>
<rect x="476.0" y="348.1" width="3.3" height="3.3" fill="none" stroke="#a09c6c" stroke-width="0.65"/>
<rect x="452.4" y="339.8" width="3.3" height="3.3" fill="none" stroke="#a09c6c" stroke-width="0.65"/>
<rect x="335.4" y="342.4" width="3.3" height="3.3" fill="none" stroke="#a09c6c" stroke-width="0.65"/>
<rect x="385.2" y="343.5" width="3.3" height="3.3" fill="none" stroke="#a09c6c" stroke-width="0.65"/>
<rect x="497.2" y="350.6" width="3.3" height="3.3" fill="none" stroke="#a09c6c" stroke-width="0.65"/>
<rect x="344.6" y="343.5" width="3.3" height="3.3" fill="none" stroke="#a09c6c" stroke-width="0.65"/>
<circle cx="343.2" cy="340.3" r="1.75" fill="none" stroke="#d4909a" stroke-width="0.7"/>
<circle cx="347.0" cy="346.2" r="1.75" fill="none" stroke="#d4909a" stroke-width="0.7"/>
<circle cx="490.6" cy="353.6" r="1.75" fill="none" stroke="#d4909a" stroke-width="0.7"/>
<circle cx="393.1" cy="336.0" r="1.75" fill="none" stroke="#d4909a" stroke-width="0.7"/>
<circle cx="331.6" cy="350.6" r="1.75" fill="none" stroke="#d4909a" stroke-width="0.7"/>
<circle cx="473.3" cy="352.7" r="1.75" fill="none" stroke="#d4909a" stroke-width="0.7"/>
<circle cx="492.1" cy="340.0" r="1.75" fill="none" stroke="#d4909a" stroke-width="0.7"/>
<circle cx="496.2" cy="338.2" r="1.75" fill="none" stroke="#d4909a" stroke-width="0.7"/>
<circle cx="357.1" cy="336.4" r="1.75" fill="none" stroke="#d4909a" stroke-width="0.7"/>
<circle cx="338.4" cy="336.8" r="1.75" fill="none" stroke="#d4909a" stroke-width="0.7"/>
<circle cx="390.0" cy="339.3" r="1.75" fill="none" stroke="#d4909a" stroke-width="0.7"/>
<circle cx="429.8" cy="340.6" r="1.75" fill="none" stroke="#d4909a" stroke-width="0.7"/>
<circle cx="386.0" cy="340.9" r="1.75" fill="none" stroke="#d4909a" stroke-width="0.7"/>
<circle cx="402.5" cy="337.4" r="1.75" fill="none" stroke="#d4909a" stroke-width="0.7"/>
<circle cx="428.4" cy="325.3" r="1.75" fill="none" stroke="#d4909a" stroke-width="0.7"/>
<circle cx="469.1" cy="307.5" r="1.75" fill="none" stroke="#d4909a" stroke-width="0.7"/>
<circle cx="473.2" cy="325.4" r="1.75" fill="none" stroke="#d4909a" stroke-width="0.7"/>
<circle cx="419.5" cy="302.1" r="1.75" fill="none" stroke="#d4909a" stroke-width="0.7"/>
<circle cx="432.9" cy="329.4" r="1.75" fill="none" stroke="#d4909a" stroke-width="0.7"/>
<circle cx="411.1" cy="333.9" r="1.75" fill="none" stroke="#d4909a" stroke-width="0.7"/>
<circle cx="366.7" cy="339.2" r="1.75" fill="none" stroke="#d4909a" stroke-width="0.7"/>
<circle cx="467.6" cy="330.0" r="1.75" fill="none" stroke="#d4909a" stroke-width="0.7"/>
<circle cx="374.8" cy="312.9" r="1.75" fill="none" stroke="#d4909a" stroke-width="0.7"/>
<circle cx="389.1" cy="310.9" r="1.75" fill="none" stroke="#d4909a" stroke-width="0.7"/>
<circle cx="360.8" cy="321.0" r="1.75" fill="none" stroke="#d4909a" stroke-width="0.7"/>
<circle cx="396.5" cy="315.8" r="1.75" fill="none" stroke="#d4909a" stroke-width="0.7"/>
<circle cx="382.3" cy="304.4" r="1.75" fill="none" stroke="#d4909a" stroke-width="0.7"/>
<circle cx="363.9" cy="334.9" r="1.75" fill="none" stroke="#d4909a" stroke-width="0.7"/>
<rect x="461.9" y="312.9" width="3.3" height="3.3" fill="none" stroke="#a09c6c" stroke-width="0.65"/>
<rect x="471.2" y="315.3" width="3.3" height="3.3" fill="none" stroke="#a09c6c" stroke-width="0.65"/>
<rect x="381.2" y="302.1" width="3.3" height="3.3" fill="none" stroke="#a09c6c" stroke-width="0.65"/>
<rect x="350.4" y="300.8" width="3.3" height="3.3" fill="none" stroke="#a09c6c" stroke-width="0.65"/>
<rect x="469.1" y="321.9" width="3.3" height="3.3" fill="none" stroke="#a09c6c" stroke-width="0.65"/>
<rect x="382.3" y="306.6" width="3.3" height="3.3" fill="none" stroke="#a09c6c" stroke-width="0.65"/>
<rect x="452.5" y="321.6" width="3.3" height="3.3" fill="none" stroke="#a09c6c" stroke-width="0.65"/>
<rect x="378.0" y="334.6" width="3.3" height="3.3" fill="none" stroke="#a09c6c" stroke-width="0.65"/>
<rect x="459.5" y="302.0" width="3.3" height="3.3" fill="none" stroke="#a09c6c" stroke-width="0.65"/>
<rect x="442.1" y="337.6" width="3.3" height="3.3" fill="none" stroke="#a09c6c" stroke-width="0.65"/>
<circle cx="344.4" cy="355.2" r="1.5" fill="#2f7fa8" stroke="#1f4f68" stroke-width="0.6"/>
<circle cx="364.1" cy="344.6" r="1.5" fill="#2f7fa8" stroke="#1f4f68" stroke-width="0.6"/>
<circle cx="381.8" cy="342.9" r="1.5" fill="#2f7fa8" stroke="#1f4f68" stroke-width="0.6"/>
<circle cx="355.3" cy="354.3" r="1.5" fill="#2f7fa8" stroke="#1f4f68" stroke-width="0.6"/>
<circle cx="358.9" cy="353.4" r="1.5" fill="#2f7fa8" stroke="#1f4f68" stroke-width="0.6"/>
<circle cx="362.4" cy="355.2" r="1.5" fill="#2f7fa8" stroke="#1f4f68" stroke-width="0.6"/>
<circle cx="367.7" cy="354.3" r="1.5" fill="#2f7fa8" stroke="#1f4f68" stroke-width="0.6"/>
<circle cx="372.1" cy="355.2" r="1.5" fill="#2f7fa8" stroke="#1f4f68" stroke-width="0.6"/>
<circle cx="357.1" cy="349.9" r="1.5" fill="#2f7fa8" stroke="#1f4f68" stroke-width="0.6"/>
<circle cx="364.1" cy="349.0" r="1.5" fill="#2f7fa8" stroke="#1f4f68" stroke-width="0.6"/>
<circle cx="386.8" cy="323.3" r="1.5" fill="#2f7fa8" stroke="#1f4f68" stroke-width="0.6"/>
<circle cx="433.4" cy="321.1" r="1.5" fill="#2f7fa8" stroke="#1f4f68" stroke-width="0.6"/>
<circle cx="437.1" cy="323.3" r="1.5" fill="#2f7fa8" stroke="#1f4f68" stroke-width="0.6"/>
<circle cx="416.1" cy="336.8" r="1.5" fill="#2f7fa8" stroke="#1f4f68" stroke-width="0.6"/>
<circle cx="429.6" cy="335.3" r="1.5" fill="#2f7fa8" stroke="#1f4f68" stroke-width="0.6"/>
<circle cx="436.4" cy="337.6" r="1.5" fill="#2f7fa8" stroke="#1f4f68" stroke-width="0.6"/>
<circle cx="410.1" cy="339.8" r="1.5" fill="#2f7fa8" stroke="#1f4f68" stroke-width="0.6"/>
<circle cx="414.6" cy="339.8" r="1.5" fill="#2f7fa8" stroke="#1f4f68" stroke-width="0.6"/>
<circle cx="422.1" cy="341.4" r="1.5" fill="#2f7fa8" stroke="#1f4f68" stroke-width="0.6"/>
<circle cx="426.6" cy="340.6" r="1.5" fill="#2f7fa8" stroke="#1f4f68" stroke-width="0.6"/>
<circle cx="395.0" cy="345.1" r="1.5" fill="#2f7fa8" stroke="#1f4f68" stroke-width="0.6"/>
<circle cx="401.0" cy="343.6" r="1.5" fill="#2f7fa8" stroke="#1f4f68" stroke-width="0.6"/>
<circle cx="407.1" cy="345.1" r="1.5" fill="#2f7fa8" stroke="#1f4f68" stroke-width="0.6"/>
<circle cx="381.5" cy="342.9" r="1.5" fill="#2f7fa8" stroke="#1f4f68" stroke-width="0.6"/>
<circle cx="419.1" cy="344.4" r="1.5" fill="#2f7fa8" stroke="#1f4f68" stroke-width="0.6"/>
<circle cx="425.1" cy="345.1" r="1.5" fill="#2f7fa8" stroke="#1f4f68" stroke-width="0.6"/>
<circle cx="431.1" cy="343.6" r="1.5" fill="#2f7fa8" stroke="#1f4f68" stroke-width="0.6"/>
<circle cx="437.1" cy="343.6" r="1.5" fill="#2f7fa8" stroke="#1f4f68" stroke-width="0.6"/>
<circle cx="384.5" cy="349.6" r="1.5" fill="#2f7fa8" stroke="#1f4f68" stroke-width="0.6"/>
<circle cx="389.0" cy="350.4" r="1.5" fill="#2f7fa8" stroke="#1f4f68" stroke-width="0.6"/>
<circle cx="393.5" cy="348.1" r="1.5" fill="#2f7fa8" stroke="#1f4f68" stroke-width="0.6"/>
<circle cx="399.5" cy="349.6" r="1.5" fill="#2f7fa8" stroke="#1f4f68" stroke-width="0.6"/>
<circle cx="405.6" cy="348.9" r="1.5" fill="#2f7fa8" stroke="#1f4f68" stroke-width="0.6"/>
<circle cx="410.1" cy="350.4" r="1.5" fill="#2f7fa8" stroke="#1f4f68" stroke-width="0.6"/>
<circle cx="414.6" cy="348.9" r="1.5" fill="#2f7fa8" stroke="#1f4f68" stroke-width="0.6"/>
<circle cx="420.6" cy="349.6" r="1.5" fill="#2f7fa8" stroke="#1f4f68" stroke-width="0.6"/>
<circle cx="425.1" cy="348.1" r="1.5" fill="#2f7fa8" stroke="#1f4f68" stroke-width="0.6"/>
<circle cx="429.6" cy="349.6" r="1.5" fill="#2f7fa8" stroke="#1f4f68" stroke-width="0.6"/>
<circle cx="434.1" cy="348.1" r="1.5" fill="#2f7fa8" stroke="#1f4f68" stroke-width="0.6"/>
<circle cx="437.9" cy="349.6" r="1.5" fill="#2f7fa8" stroke="#1f4f68" stroke-width="0.6"/>
<circle cx="387.5" cy="354.1" r="1.5" fill="#2f7fa8" stroke="#1f4f68" stroke-width="0.6"/>
<circle cx="398.0" cy="353.4" r="1.5" fill="#2f7fa8" stroke="#1f4f68" stroke-width="0.6"/>
<circle cx="404.1" cy="354.1" r="1.5" fill="#2f7fa8" stroke="#1f4f68" stroke-width="0.6"/>
<circle cx="410.1" cy="354.9" r="1.5" fill="#2f7fa8" stroke="#1f4f68" stroke-width="0.6"/>
<circle cx="417.6" cy="354.1" r="1.5" fill="#2f7fa8" stroke="#1f4f68" stroke-width="0.6"/>
<circle cx="423.6" cy="353.4" r="1.5" fill="#2f7fa8" stroke="#1f4f68" stroke-width="0.6"/>
<circle cx="429.6" cy="354.1" r="1.5" fill="#2f7fa8" stroke="#1f4f68" stroke-width="0.6"/>
<circle cx="435.6" cy="354.1" r="1.5" fill="#2f7fa8" stroke="#1f4f68" stroke-width="0.6"/>
<circle cx="401.0" cy="341.4" r="1.5" fill="#2f7fa8" stroke="#1f4f68" stroke-width="0.6"/>
<circle cx="472.8" cy="306.0" r="1.5" fill="#2f7fa8" stroke="#1f4f68" stroke-width="0.6"/>
<circle cx="442.0" cy="318.0" r="1.5" fill="#2f7fa8" stroke="#1f4f68" stroke-width="0.6"/>
<circle cx="451.0" cy="319.5" r="1.5" fill="#2f7fa8" stroke="#1f4f68" stroke-width="0.6"/>
<circle cx="466.1" cy="324.1" r="1.5" fill="#2f7fa8" stroke="#1f4f68" stroke-width="0.6"/>
<circle cx="451.0" cy="332.3" r="1.5" fill="#2f7fa8" stroke="#1f4f68" stroke-width="0.6"/>
<circle cx="456.3" cy="331.6" r="1.5" fill="#2f7fa8" stroke="#1f4f68" stroke-width="0.6"/>
<circle cx="461.6" cy="331.6" r="1.5" fill="#2f7fa8" stroke="#1f4f68" stroke-width="0.6"/>
<circle cx="476.6" cy="332.3" r="1.5" fill="#2f7fa8" stroke="#1f4f68" stroke-width="0.6"/>
<circle cx="485.6" cy="329.3" r="1.5" fill="#2f7fa8" stroke="#1f4f68" stroke-width="0.6"/>
<circle cx="488.6" cy="329.3" r="1.5" fill="#2f7fa8" stroke="#1f4f68" stroke-width="0.6"/>
<circle cx="490.9" cy="332.3" r="1.5" fill="#2f7fa8" stroke="#1f4f68" stroke-width="0.6"/>
<circle cx="436.0" cy="336.8" r="1.5" fill="#2f7fa8" stroke="#1f4f68" stroke-width="0.6"/>
<circle cx="439.0" cy="338.3" r="1.5" fill="#2f7fa8" stroke="#1f4f68" stroke-width="0.6"/>
<circle cx="457.0" cy="339.1" r="1.5" fill="#2f7fa8" stroke="#1f4f68" stroke-width="0.6"/>
<circle cx="469.1" cy="339.8" r="1.5" fill="#2f7fa8" stroke="#1f4f68" stroke-width="0.6"/>
<circle cx="448.0" cy="343.6" r="1.5" fill="#2f7fa8" stroke="#1f4f68" stroke-width="0.6"/>
<circle cx="452.5" cy="344.4" r="1.5" fill="#2f7fa8" stroke="#1f4f68" stroke-width="0.6"/>
<circle cx="458.6" cy="342.9" r="1.5" fill="#2f7fa8" stroke="#1f4f68" stroke-width="0.6"/>
<circle cx="463.1" cy="342.1" r="1.5" fill="#2f7fa8" stroke="#1f4f68" stroke-width="0.6"/>
<circle cx="466.1" cy="343.6" r="1.5" fill="#2f7fa8" stroke="#1f4f68" stroke-width="0.6"/>
<circle cx="475.1" cy="343.6" r="1.5" fill="#2f7fa8" stroke="#1f4f68" stroke-width="0.6"/>
<circle cx="487.9" cy="343.6" r="1.5" fill="#2f7fa8" stroke="#1f4f68" stroke-width="0.6"/>
<circle cx="442.0" cy="348.1" r="1.5" fill="#2f7fa8" stroke="#1f4f68" stroke-width="0.6"/>
<circle cx="445.0" cy="346.6" r="1.5" fill="#2f7fa8" stroke="#1f4f68" stroke-width="0.6"/>
<circle cx="455.5" cy="348.1" r="1.5" fill="#2f7fa8" stroke="#1f4f68" stroke-width="0.6"/>
<circle cx="468.3" cy="348.1" r="1.5" fill="#2f7fa8" stroke="#1f4f68" stroke-width="0.6"/>
<circle cx="472.1" cy="347.4" r="1.5" fill="#2f7fa8" stroke="#1f4f68" stroke-width="0.6"/>
<circle cx="488.6" cy="349.6" r="1.5" fill="#2f7fa8" stroke="#1f4f68" stroke-width="0.6"/>
<circle cx="461.6" cy="352.6" r="1.5" fill="#2f7fa8" stroke="#1f4f68" stroke-width="0.6"/>
<circle cx="464.6" cy="354.1" r="1.5" fill="#2f7fa8" stroke="#1f4f68" stroke-width="0.6"/>
<circle cx="467.6" cy="350.4" r="1.5" fill="#2f7fa8" stroke="#1f4f68" stroke-width="0.6"/>
<circle cx="482.6" cy="352.6" r="1.5" fill="#2f7fa8" stroke="#1f4f68" stroke-width="0.6"/>
<circle cx="481.1" cy="354.9" r="1.5" fill="#2f7fa8" stroke="#1f4f68" stroke-width="0.6"/>
<circle cx="439.0" cy="351.1" r="1.5" fill="#2f7fa8" stroke="#1f4f68" stroke-width="0.6"/>
<circle cx="437.2" cy="262.3" r="1.5" fill="#2f7fa8" stroke="#1f4f68" stroke-width="0.6"/>
<circle cx="372.2" cy="346.6" r="1.5" fill="#2f7fa8" stroke="#1f4f68" stroke-width="0.6"/>
<circle cx="411.8" cy="342.0" r="1.5" fill="#2f7fa8" stroke="#1f4f68" stroke-width="0.6"/>
<circle cx="387.8" cy="341.6" r="1.5" fill="#2f7fa8" stroke="#1f4f68" stroke-width="0.6"/>
<circle cx="405.8" cy="342.7" r="1.5" fill="#2f7fa8" stroke="#1f4f68" stroke-width="0.6"/>
<circle cx="436.7" cy="346.5" r="1.5" fill="#2f7fa8" stroke="#1f4f68" stroke-width="0.6"/>
<circle cx="382.5" cy="353.3" r="1.5" fill="#2f7fa8" stroke="#1f4f68" stroke-width="0.6"/>
<circle cx="380.5" cy="354.9" r="1.5" fill="#2f7fa8" stroke="#1f4f68" stroke-width="0.6"/>
<circle cx="402.8" cy="349.3" r="1.5" fill="#2f7fa8" stroke="#1f4f68" stroke-width="0.6"/>
<circle cx="384.7" cy="341.6" r="1.5" fill="#2f7fa8" stroke="#1f4f68" stroke-width="0.6"/>
<circle cx="380.3" cy="348.1" r="1.5" fill="#2f7fa8" stroke="#1f4f68" stroke-width="0.6"/>
<circle cx="428.2" cy="344.0" r="1.5" fill="#2f7fa8" stroke="#1f4f68" stroke-width="0.6"/>
<circle cx="399.9" cy="346.5" r="1.5" fill="#2f7fa8" stroke="#1f4f68" stroke-width="0.6"/>
<circle cx="439.6" cy="346.8" r="1.5" fill="#2f7fa8" stroke="#1f4f68" stroke-width="0.6"/>
<circle cx="373.8" cy="342.4" r="1.5" fill="#2f7fa8" stroke="#1f4f68" stroke-width="0.6"/>
<circle cx="420.8" cy="355.9" r="1.5" fill="#2f7fa8" stroke="#1f4f68" stroke-width="0.6"/>
<circle cx="395.7" cy="354.9" r="1.5" fill="#2f7fa8" stroke="#1f4f68" stroke-width="0.6"/>
<circle cx="395.6" cy="350.0" r="1.5" fill="#2f7fa8" stroke="#1f4f68" stroke-width="0.6"/>
<circle cx="392.8" cy="342.5" r="1.5" fill="#2f7fa8" stroke="#1f4f68" stroke-width="0.6"/>
<circle cx="376.5" cy="353.2" r="1.5" fill="#2f7fa8" stroke="#1f4f68" stroke-width="0.6"/>
<circle cx="418.5" cy="351.1" r="1.5" fill="#2f7fa8" stroke="#1f4f68" stroke-width="0.6"/>
<circle cx="433.1" cy="355.4" r="1.5" fill="#2f7fa8" stroke="#1f4f68" stroke-width="0.6"/>
<circle cx="399.7" cy="355.8" r="1.5" fill="#2f7fa8" stroke="#1f4f68" stroke-width="0.6"/>
<circle cx="389.5" cy="345.3" r="1.5" fill="#2f7fa8" stroke="#1f4f68" stroke-width="0.6"/>
<circle cx="376.7" cy="346.1" r="1.5" fill="#2f7fa8" stroke="#1f4f68" stroke-width="0.6"/>
<circle cx="407.7" cy="351.9" r="1.5" fill="#2f7fa8" stroke="#1f4f68" stroke-width="0.6"/>
<circle cx="373.6" cy="349.9" r="1.5" fill="#2f7fa8" stroke="#1f4f68" stroke-width="0.6"/>
<circle cx="411.7" cy="344.9" r="1.5" fill="#2f7fa8" stroke="#1f4f68" stroke-width="0.6"/>
<circle cx="378.4" cy="342.4" r="1.5" fill="#2f7fa8" stroke="#1f4f68" stroke-width="0.6"/>
<circle cx="416.6" cy="342.9" r="1.5" fill="#2f7fa8" stroke="#1f4f68" stroke-width="0.6"/>
<circle cx="433.3" cy="345.4" r="1.5" fill="#2f7fa8" stroke="#1f4f68" stroke-width="0.6"/>
<circle cx="492.7" cy="338.8" r="1.5" fill="#2f7fa8" stroke="#1f4f68" stroke-width="0.6"/>
<circle cx="441.3" cy="356.0" r="1.5" fill="#2f7fa8" stroke="#1f4f68" stroke-width="0.6"/>
<circle cx="450.1" cy="338.4" r="1.5" fill="#2f7fa8" stroke="#1f4f68" stroke-width="0.6"/>
<circle cx="488.9" cy="340.6" r="1.5" fill="#2f7fa8" stroke="#1f4f68" stroke-width="0.6"/>
<circle cx="492.8" cy="342.4" r="1.5" fill="#2f7fa8" stroke="#1f4f68" stroke-width="0.6"/>
<circle cx="473.1" cy="354.6" r="1.5" fill="#2f7fa8" stroke="#1f4f68" stroke-width="0.6"/>
<circle cx="477.7" cy="354.5" r="1.5" fill="#2f7fa8" stroke="#1f4f68" stroke-width="0.6"/>
<circle cx="478.9" cy="337.0" r="1.5" fill="#2f7fa8" stroke="#1f4f68" stroke-width="0.6"/>
<circle cx="491.6" cy="351.5" r="1.5" fill="#2f7fa8" stroke="#1f4f68" stroke-width="0.6"/>
<circle cx="492.9" cy="347.3" r="1.5" fill="#2f7fa8" stroke="#1f4f68" stroke-width="0.6"/>
<circle cx="478.4" cy="348.2" r="1.5" fill="#2f7fa8" stroke="#1f4f68" stroke-width="0.6"/>
<circle cx="454.2" cy="355.1" r="1.5" fill="#2f7fa8" stroke="#1f4f68" stroke-width="0.6"/>
<circle cx="457.2" cy="351.6" r="1.5" fill="#2f7fa8" stroke="#1f4f68" stroke-width="0.6"/>
<circle cx="447.8" cy="352.5" r="1.5" fill="#2f7fa8" stroke="#1f4f68" stroke-width="0.6"/>
<circle cx="500.1" cy="337.0" r="1.5" fill="#2f7fa8" stroke="#1f4f68" stroke-width="0.6"/>
<circle cx="498.0" cy="319.7" r="1.5" fill="#2f7fa8" stroke="#1f4f68" stroke-width="0.6"/>
<circle cx="478.5" cy="326.5" r="1.5" fill="#2f7fa8" stroke="#1f4f68" stroke-width="0.6"/>
<circle cx="474.5" cy="320.6" r="1.5" fill="#2f7fa8" stroke="#1f4f68" stroke-width="0.6"/>
<circle cx="452.5" cy="326.9" r="1.5" fill="#2f7fa8" stroke="#1f4f68" stroke-width="0.6"/>
<circle cx="473.3" cy="332.7" r="1.5" fill="#2f7fa8" stroke="#1f4f68" stroke-width="0.6"/>
<circle cx="463.3" cy="319.2" r="1.5" fill="#2f7fa8" stroke="#1f4f68" stroke-width="0.6"/>
<circle cx="482.8" cy="330.4" r="1.5" fill="#2f7fa8" stroke="#1f4f68" stroke-width="0.6"/>
<circle cx="403.7" cy="336.4" r="1.5" fill="#2f7fa8" stroke="#1f4f68" stroke-width="0.6"/>
<circle cx="399.1" cy="337.9" r="1.5" fill="#2f7fa8" stroke="#1f4f68" stroke-width="0.6"/>
<circle cx="439.5" cy="327.0" r="1.5" fill="#2f7fa8" stroke="#1f4f68" stroke-width="0.6"/>
<circle cx="418.3" cy="341.3" r="1.5" fill="#2f7fa8" stroke="#1f4f68" stroke-width="0.6"/>
<circle cx="432.9" cy="327.7" r="1.5" fill="#2f7fa8" stroke="#1f4f68" stroke-width="0.6"/>
<circle cx="409.7" cy="330.2" r="1.5" fill="#2f7fa8" stroke="#1f4f68" stroke-width="0.6"/>
<circle cx="419.4" cy="331.2" r="1.5" fill="#2f7fa8" stroke="#1f4f68" stroke-width="0.6"/>
<circle cx="435.2" cy="340.7" r="1.5" fill="#2f7fa8" stroke="#1f4f68" stroke-width="0.6"/>
<circle cx="398.1" cy="326.6" r="1.5" fill="#2f7fa8" stroke="#1f4f68" stroke-width="0.6"/>
<circle cx="399.2" cy="333.4" r="1.5" fill="#2f7fa8" stroke="#1f4f68" stroke-width="0.6"/>
<path d="M337.38,329.83 L341.04,329.59 L344.70,329.34 L348.36,329.09 L352.02,328.82 L355.67,328.54 L359.33,328.25 L362.99,327.94 L366.65,327.61 L370.31,327.26 L373.96,326.89 L377.62,326.50 L381.28,326.08 L384.94,325.63 L388.60,325.14 L392.25,324.62 L395.91,324.05 L399.57,323.45 L403.23,322.79 L406.88,322.09 L410.54,321.34 L414.20,320.53 L417.86,319.67 L421.52,318.76 L425.17,317.79 L428.83,316.76 L432.49,315.67 L436.15,314.53 L439.81,313.32 L443.46,312.06 L447.12,310.73 L450.78,309.35 L454.44,307.90 L458.09,306.39 L461.75,304.81 L465.41,303.17 L469.07,301.47 L472.73,299.69 L476.38,297.84 L480.04,295.92 L483.70,293.92 L487.36,291.85 L491.02,289.70 L494.67,287.47 L498.33,285.15 L501.99,282.74 L505.65,280.25 L509.30,277.66 L509.30,324.98 L505.65,325.21 L501.99,325.44 L498.33,325.67 L494.67,325.90 L491.02,326.13 L487.36,326.37 L483.70,326.60 L480.04,326.84 L476.38,327.09 L472.73,327.33 L469.07,327.58 L465.41,327.84 L461.75,328.09 L458.09,328.36 L454.44,328.63 L450.78,328.91 L447.12,329.19 L443.46,329.48 L439.81,329.79 L436.15,330.10 L432.49,330.43 L428.83,330.76 L425.17,331.12 L421.52,331.48 L417.86,331.86 L414.20,332.26 L410.54,332.67 L406.88,333.10 L403.23,333.54 L399.57,334.00 L395.91,334.47 L392.25,334.95 L388.60,335.44 L384.94,335.94 L381.28,336.44 L377.62,336.94 L373.96,337.44 L370.31,337.94 L366.65,338.44 L362.99,338.94 L359.33,339.42 L355.67,339.90 L352.02,340.37 L348.36,340.84 L344.70,341.29 L341.04,341.73 L337.38,342.16 Z" fill="#c4c282" fill-opacity="0.52" stroke="none"/>
<path d="M337.38,337.00 L341.04,336.62 L344.70,336.22 L348.36,335.82 L352.02,335.41 L355.67,335.00 L359.33,334.57 L362.99,334.14 L366.65,333.69 L370.31,333.24 L373.96,332.77 L377.62,332.30 L381.28,331.82 L384.94,331.33 L388.60,330.82 L392.25,330.31 L395.91,329.79 L399.57,329.25 L403.23,328.70 L406.88,328.15 L410.54,327.58 L414.20,327.00 L417.86,326.40 L421.52,325.80 L425.17,325.18 L428.83,324.55 L432.49,323.90 L436.15,323.24 L439.81,322.57 L443.46,321.89 L447.12,321.19 L450.78,320.47 L454.44,319.74 L458.09,319.00 L461.75,318.23 L465.41,317.46 L469.07,316.67 L472.73,315.86 L476.38,315.03 L480.04,314.19 L483.70,313.32 L487.36,312.45 L491.02,311.55 L494.67,310.63 L498.33,309.70 L501.99,308.74 L505.65,307.77 L509.30,306.77" fill="none" stroke="#627218" stroke-width="1.35" stroke-linejoin="round"/>
<path d="M322.65,334.84 L326.01,334.56 L329.37,334.27 L332.73,333.98 L336.09,333.68 L339.45,333.38 L342.81,333.08 L346.17,332.77 L349.53,332.45 L352.89,332.12 L356.25,331.79 L359.61,331.46 L362.97,331.11 L366.33,330.76 L369.69,330.40 L373.05,330.03 L376.41,329.65 L379.77,329.27 L383.13,328.87 L386.49,328.46 L389.85,328.05 L393.21,327.62 L396.57,327.18 L399.93,326.72 L403.29,326.25 L406.65,325.76 L410.01,325.26 L413.37,324.74 L416.73,324.19 L420.09,323.63 L423.45,323.04 L426.81,322.42 L430.17,321.77 L433.53,321.10 L436.89,320.38 L440.25,319.63 L443.61,318.84 L446.97,318.00 L450.33,317.12 L453.69,316.18 L457.05,315.18 L460.41,314.12 L463.77,312.99 L467.13,311.80 L470.49,310.52 L473.85,309.18 L477.21,307.75 L480.57,306.23 L480.57,326.19 L477.21,326.87 L473.85,327.56 L470.49,328.26 L467.13,328.97 L463.77,329.68 L460.41,330.39 L457.05,331.11 L453.69,331.82 L450.33,332.54 L446.97,333.25 L443.61,333.96 L440.25,334.65 L436.89,335.34 L433.53,336.02 L430.17,336.69 L426.81,337.35 L423.45,337.99 L420.09,338.62 L416.73,339.23 L413.37,339.82 L410.01,340.40 L406.65,340.96 L403.29,341.51 L399.93,342.04 L396.57,342.55 L393.21,343.04 L389.85,343.52 L386.49,343.98 L383.13,344.43 L379.77,344.86 L376.41,345.27 L373.05,345.67 L369.69,346.06 L366.33,346.43 L362.97,346.79 L359.61,347.13 L356.25,347.46 L352.89,347.78 L349.53,348.09 L346.17,348.38 L342.81,348.66 L339.45,348.94 L336.09,349.20 L332.73,349.45 L329.37,349.69 L326.01,349.92 L322.65,350.14 Z" fill="#ee7262" fill-opacity="0.46" stroke="none"/>
<path d="M322.65,345.00 L326.01,344.71 L329.37,344.42 L332.73,344.11 L336.09,343.79 L339.45,343.47 L342.81,343.14 L346.17,342.80 L349.53,342.44 L352.89,342.08 L356.25,341.71 L359.61,341.33 L362.97,340.94 L366.33,340.53 L369.69,340.12 L373.05,339.69 L376.41,339.25 L379.77,338.80 L383.13,338.34 L386.49,337.86 L389.85,337.37 L393.21,336.87 L396.57,336.35 L399.93,335.82 L403.29,335.28 L406.65,334.71 L410.01,334.14 L413.37,333.54 L416.73,332.93 L420.09,332.31 L423.45,331.66 L426.81,331.00 L430.17,330.32 L433.53,329.62 L436.89,328.90 L440.25,328.16 L443.61,327.40 L446.97,326.62 L450.33,325.82 L453.69,324.99 L457.05,324.14 L460.41,323.27 L463.77,322.37 L467.13,321.45 L470.49,320.50 L473.85,319.53 L477.21,318.53 L480.57,317.50" fill="none" stroke="#e05a60" stroke-width="1.1" stroke-linejoin="round"/>
<path d="M344.75,347.28 L348.39,347.18 L352.04,347.08 L355.68,346.98 L359.32,346.87 L362.96,346.76 L366.61,346.65 L370.25,346.52 L373.89,346.40 L377.53,346.26 L381.17,346.12 L384.82,345.97 L388.46,345.81 L392.10,345.64 L395.74,345.45 L399.39,345.25 L403.03,345.04 L406.67,344.80 L410.31,344.55 L413.95,344.27 L417.60,343.97 L421.24,343.64 L424.88,343.28 L428.52,342.90 L432.17,342.49 L435.81,342.04 L439.45,341.57 L443.09,341.07 L446.73,340.54 L450.38,339.97 L454.02,339.37 L457.66,338.74 L461.30,338.08 L464.95,337.38 L468.59,336.64 L472.23,335.87 L475.87,335.06 L479.51,334.21 L483.16,333.32 L486.80,332.38 L490.44,331.41 L494.08,330.38 L497.73,329.31 L501.37,328.19 L505.01,327.02 L508.65,325.79 L512.29,324.51 L515.94,323.17 L515.94,343.97 L512.29,344.10 L508.65,344.22 L505.01,344.34 L501.37,344.46 L497.73,344.58 L494.08,344.70 L490.44,344.82 L486.80,344.94 L483.16,345.07 L479.51,345.19 L475.87,345.31 L472.23,345.44 L468.59,345.57 L464.95,345.70 L461.30,345.83 L457.66,345.96 L454.02,346.10 L450.38,346.24 L446.73,346.38 L443.09,346.53 L439.45,346.68 L435.81,346.84 L432.17,347.01 L428.52,347.18 L424.88,347.36 L421.24,347.55 L417.60,347.74 L413.95,347.94 L410.31,348.14 L406.67,348.35 L403.03,348.57 L399.39,348.78 L395.74,349.00 L392.10,349.22 L388.46,349.43 L384.82,349.64 L381.17,349.85 L377.53,350.06 L373.89,350.26 L370.25,350.46 L366.61,350.65 L362.96,350.83 L359.32,351.01 L355.68,351.19 L352.04,351.36 L348.39,351.52 L344.75,351.68 Z" fill="#94bdd6" fill-opacity="0.6" stroke="none"/>
<path d="M344.75,349.90 L348.39,349.75 L352.04,349.60 L355.68,349.45 L359.32,349.28 L362.96,349.12 L366.61,348.95 L370.25,348.78 L373.89,348.60 L377.53,348.41 L381.17,348.23 L384.82,348.03 L388.46,347.83 L392.10,347.63 L395.74,347.42 L399.39,347.21 L403.03,346.99 L406.67,346.76 L410.31,346.53 L413.95,346.29 L417.60,346.04 L421.24,345.79 L424.88,345.53 L428.52,345.26 L432.17,344.99 L435.81,344.71 L439.45,344.42 L443.09,344.13 L446.73,343.82 L450.38,343.51 L454.02,343.19 L457.66,342.86 L461.30,342.52 L464.95,342.18 L468.59,341.82 L472.23,341.45 L475.87,341.08 L479.51,340.69 L483.16,340.29 L486.80,339.89 L490.44,339.47 L494.08,339.04 L497.73,338.60 L501.37,338.15 L505.01,337.68 L508.65,337.20 L512.29,336.71 L515.94,336.21" fill="none" stroke="#3a82ae" stroke-width="1.1" stroke-linejoin="round"/>
<rect x="38.4" y="26.4" width="205.6" height="129.4" fill="none" stroke="#505050" stroke-width="1"/>
<line x1="34.9" y1="152.9" x2="38.4" y2="152.9" stroke="#505050" stroke-width="1"/>
<text x="32.4" y="155.9" font-size="7" text-anchor="end" fill="#222"  stroke="#222" stroke-width="0.25">0</text>
<line x1="34.9" y1="123.0" x2="38.4" y2="123.0" stroke="#505050" stroke-width="1"/>
<text x="32.4" y="126.0" font-size="7" text-anchor="end" fill="#222"  stroke="#222" stroke-width="0.25">5</text>
<line x1="34.9" y1="93.1" x2="38.4" y2="93.1" stroke="#505050" stroke-width="1"/>
<text x="32.4" y="96.1" font-size="7" text-anchor="end" fill="#222"  stroke="#222" stroke-width="0.25">10</text>
<line x1="34.9" y1="63.2" x2="38.4" y2="63.2" stroke="#505050" stroke-width="1"/>
<text x="32.4" y="66.2" font-size="7" text-anchor="end" fill="#222"  stroke="#222" stroke-width="0.25">15</text>
<line x1="34.9" y1="33.3" x2="38.4" y2="33.3" stroke="#505050" stroke-width="1"/>
<text x="32.4" y="36.3" font-size="7" text-anchor="end" fill="#222"  stroke="#222" stroke-width="0.25">20</text>
<line x1="49.1" y1="155.8" x2="49.1" y2="158.8" stroke="#505050" stroke-width="1"/>
<text x="49.1" y="168.6" font-size="7" text-anchor="middle" fill="#222"  stroke="#222" stroke-width="0.25">48</text>
<line x1="81.1" y1="155.8" x2="81.1" y2="158.8" stroke="#505050" stroke-width="1"/>
<text x="81.1" y="168.6" font-size="7" text-anchor="middle" fill="#222"  stroke="#222" stroke-width="0.25">60</text>
<line x1="134.3" y1="155.8" x2="134.3" y2="158.8" stroke="#505050" stroke-width="1"/>
<text x="134.3" y="168.6" font-size="7" text-anchor="middle" fill="#222"  stroke="#222" stroke-width="0.25">80</text>
<line x1="187.6" y1="155.8" x2="187.6" y2="158.8" stroke="#505050" stroke-width="1"/>
<text x="187.6" y="168.6" font-size="7" text-anchor="middle" fill="#222"  stroke="#222" stroke-width="0.25">100</text>
<line x1="240.9" y1="155.8" x2="240.9" y2="158.8" stroke="#505050" stroke-width="1"/>
<text x="240.9" y="168.6" font-size="7" text-anchor="middle" fill="#222"  stroke="#222" stroke-width="0.25">120</text>
<line x1="48.9" y1="26.4" x2="48.9" y2="23.2" stroke="#505050" stroke-width="1"/>
<text x="48.9" y="18.8" font-size="7" text-anchor="middle" fill="#222"  stroke="#222" stroke-width="0.25">6.55</text>
<line x1="62.3" y1="26.4" x2="62.3" y2="23.2" stroke="#505050" stroke-width="1"/>
<text x="62.3" y="18.8" font-size="7" text-anchor="middle" fill="#222"  stroke="#222" stroke-width="0.25">7</text>
<line x1="92.1" y1="26.4" x2="92.1" y2="23.2" stroke="#505050" stroke-width="1"/>
<text x="92.1" y="18.8" font-size="7" text-anchor="middle" fill="#222"  stroke="#222" stroke-width="0.25">8</text>
<line x1="121.8" y1="26.4" x2="121.8" y2="23.2" stroke="#505050" stroke-width="1"/>
<text x="121.8" y="18.8" font-size="7" text-anchor="middle" fill="#222"  stroke="#222" stroke-width="0.25">9</text>
<line x1="151.6" y1="26.4" x2="151.6" y2="23.2" stroke="#505050" stroke-width="1"/>
<text x="151.6" y="18.8" font-size="7" text-anchor="middle" fill="#222"  stroke="#222" stroke-width="0.25">10</text>
<line x1="181.3" y1="26.4" x2="181.3" y2="23.2" stroke="#505050" stroke-width="1"/>
<text x="181.3" y="18.8" font-size="7" text-anchor="middle" fill="#222"  stroke="#222" stroke-width="0.25">11</text>
<line x1="211.1" y1="26.4" x2="211.1" y2="23.2" stroke="#505050" stroke-width="1"/>
<text x="211.1" y="18.8" font-size="7" text-anchor="middle" fill="#222"  stroke="#222" stroke-width="0.25">12</text>
<line x1="240.9" y1="26.4" x2="240.9" y2="23.2" stroke="#505050" stroke-width="1"/>
<text x="240.9" y="18.8" font-size="7" text-anchor="middle" fill="#222"  stroke="#222" stroke-width="0.25">13</text>
<text x="141.3" y="6.6" font-size="7.3" text-anchor="middle" fill="#222"  stroke="#222" stroke-width="0.25">HbA1c (%)</text>
<text x="141.3" y="181.6" font-size="7.3" text-anchor="middle" fill="#222"  stroke="#222" stroke-width="0.25">HbA1c (mmol/mol)</text>
<text transform="translate(6.0,90.2) rotate(-90)" font-size="7.35" text-anchor="middle" fill="#222">Percent time of glucose levels &lt;3.9</text>
<text transform="translate(15.3,90.7) rotate(-90)" font-size="7.35" text-anchor="middle" fill="#222">mmol/L measured by CGM</text>
<text x="2.6" y="14.2" font-size="15.4" text-anchor="start" fill="#000" font-weight="bold" stroke="#000" stroke-width="0.35">A</text>
<rect x="317.1" y="26.2" width="199.5" height="129.5" fill="none" stroke="#505050" stroke-width="1"/>
<line x1="313.6" y1="152.9" x2="317.1" y2="152.9" stroke="#505050" stroke-width="1"/>
<text x="311.1" y="155.9" font-size="7" text-anchor="end" fill="#222"  stroke="#222" stroke-width="0.25">0.0</text>
<line x1="313.6" y1="128.5" x2="317.1" y2="128.5" stroke="#505050" stroke-width="1"/>
<text x="311.1" y="131.5" font-size="7" text-anchor="end" fill="#222"  stroke="#222" stroke-width="0.25">2.5</text>
<line x1="313.6" y1="104.2" x2="317.1" y2="104.2" stroke="#505050" stroke-width="1"/>
<text x="311.1" y="107.2" font-size="7" text-anchor="end" fill="#222"  stroke="#222" stroke-width="0.25">5.0</text>
<line x1="313.6" y1="79.8" x2="317.1" y2="79.8" stroke="#505050" stroke-width="1"/>
<text x="311.1" y="82.8" font-size="7" text-anchor="end" fill="#222"  stroke="#222" stroke-width="0.25">7.5</text>
<line x1="313.6" y1="55.4" x2="317.1" y2="55.4" stroke="#505050" stroke-width="1"/>
<text x="311.1" y="58.4" font-size="7" text-anchor="end" fill="#222"  stroke="#222" stroke-width="0.25">10.0</text>
<line x1="313.6" y1="31.0" x2="317.1" y2="31.0" stroke="#505050" stroke-width="1"/>
<text x="311.1" y="34.0" font-size="7" text-anchor="end" fill="#222"  stroke="#222" stroke-width="0.25">12.5</text>
<line x1="327.2" y1="155.7" x2="327.2" y2="158.7" stroke="#505050" stroke-width="1"/>
<text x="327.2" y="168.6" font-size="7" text-anchor="middle" fill="#222"  stroke="#222" stroke-width="0.25">48</text>
<line x1="358.2" y1="155.7" x2="358.2" y2="158.7" stroke="#505050" stroke-width="1"/>
<text x="358.2" y="168.6" font-size="7" text-anchor="middle" fill="#222"  stroke="#222" stroke-width="0.25">60</text>
<line x1="410.0" y1="155.7" x2="410.0" y2="158.7" stroke="#505050" stroke-width="1"/>
<text x="410.0" y="168.6" font-size="7" text-anchor="middle" fill="#222"  stroke="#222" stroke-width="0.25">80</text>
<line x1="461.8" y1="155.7" x2="461.8" y2="158.7" stroke="#505050" stroke-width="1"/>
<text x="461.8" y="168.6" font-size="7" text-anchor="middle" fill="#222"  stroke="#222" stroke-width="0.25">100</text>
<line x1="513.5" y1="155.7" x2="513.5" y2="158.7" stroke="#505050" stroke-width="1"/>
<text x="513.5" y="168.6" font-size="7" text-anchor="middle" fill="#222"  stroke="#222" stroke-width="0.25">120</text>
<line x1="327.3" y1="26.2" x2="327.3" y2="23.0" stroke="#505050" stroke-width="1"/>
<text x="327.3" y="18.8" font-size="7" text-anchor="middle" fill="#222"  stroke="#222" stroke-width="0.25">6.55</text>
<line x1="340.3" y1="26.2" x2="340.3" y2="23.0" stroke="#505050" stroke-width="1"/>
<text x="340.3" y="18.8" font-size="7" text-anchor="middle" fill="#222"  stroke="#222" stroke-width="0.25">7</text>
<line x1="369.2" y1="26.2" x2="369.2" y2="23.0" stroke="#505050" stroke-width="1"/>
<text x="369.2" y="18.8" font-size="7" text-anchor="middle" fill="#222"  stroke="#222" stroke-width="0.25">8</text>
<line x1="398.0" y1="26.2" x2="398.0" y2="23.0" stroke="#505050" stroke-width="1"/>
<text x="398.0" y="18.8" font-size="7" text-anchor="middle" fill="#222"  stroke="#222" stroke-width="0.25">9</text>
<line x1="426.9" y1="26.2" x2="426.9" y2="23.0" stroke="#505050" stroke-width="1"/>
<text x="426.9" y="18.8" font-size="7" text-anchor="middle" fill="#222"  stroke="#222" stroke-width="0.25">10</text>
<line x1="455.8" y1="26.2" x2="455.8" y2="23.0" stroke="#505050" stroke-width="1"/>
<text x="455.8" y="18.8" font-size="7" text-anchor="middle" fill="#222"  stroke="#222" stroke-width="0.25">11</text>
<line x1="484.6" y1="26.2" x2="484.6" y2="23.0" stroke="#505050" stroke-width="1"/>
<text x="484.6" y="18.8" font-size="7" text-anchor="middle" fill="#222"  stroke="#222" stroke-width="0.25">12</text>
<line x1="513.5" y1="26.2" x2="513.5" y2="23.0" stroke="#505050" stroke-width="1"/>
<text x="513.5" y="18.8" font-size="7" text-anchor="middle" fill="#222"  stroke="#222" stroke-width="0.25">13</text>
<text x="416.8" y="6.6" font-size="7.3" text-anchor="middle" fill="#222"  stroke="#222" stroke-width="0.25">HbA1c (%)</text>
<text x="417.0" y="181.6" font-size="7.3" text-anchor="middle" fill="#222"  stroke="#222" stroke-width="0.25">HbA1c (mmol/mol)</text>
<text transform="translate(278.3,90.3) rotate(-90)" font-size="7.35" text-anchor="middle" fill="#222">Percent time of glucose levels &lt;3.0</text>
<text transform="translate(287.3,90.6) rotate(-90)" font-size="7.35" text-anchor="middle" fill="#222">mmol/L measured by CGM</text>
<text x="269.0" y="14.6" font-size="15.4" text-anchor="start" fill="#000" font-weight="bold" stroke="#000" stroke-width="0.35">B</text>
<rect x="28.3" y="203.6" width="217.6" height="154.9" fill="none" stroke="#505050" stroke-width="1"/>
<line x1="24.8" y1="355.4" x2="28.3" y2="355.4" stroke="#505050" stroke-width="1"/>
<text x="22.3" y="358.4" font-size="7" text-anchor="end" fill="#222"  stroke="#222" stroke-width="0.25">0</text>
<line x1="24.8" y1="330.6" x2="28.3" y2="330.6" stroke="#505050" stroke-width="1"/>
<text x="22.3" y="333.6" font-size="7" text-anchor="end" fill="#222"  stroke="#222" stroke-width="0.25">5</text>
<line x1="24.8" y1="305.8" x2="28.3" y2="305.8" stroke="#505050" stroke-width="1"/>
<text x="22.3" y="308.8" font-size="7" text-anchor="end" fill="#222"  stroke="#222" stroke-width="0.25">10</text>
<line x1="24.8" y1="281.0" x2="28.3" y2="281.0" stroke="#505050" stroke-width="1"/>
<text x="22.3" y="284.0" font-size="7" text-anchor="end" fill="#222"  stroke="#222" stroke-width="0.25">15</text>
<line x1="24.8" y1="256.1" x2="28.3" y2="256.1" stroke="#505050" stroke-width="1"/>
<text x="22.3" y="259.1" font-size="7" text-anchor="end" fill="#222"  stroke="#222" stroke-width="0.25">20</text>
<line x1="24.8" y1="231.3" x2="28.3" y2="231.3" stroke="#505050" stroke-width="1"/>
<text x="22.3" y="234.3" font-size="7" text-anchor="end" fill="#222"  stroke="#222" stroke-width="0.25">25</text>
<line x1="24.8" y1="206.5" x2="28.3" y2="206.5" stroke="#505050" stroke-width="1"/>
<text x="22.3" y="209.5" font-size="7" text-anchor="end" fill="#222"  stroke="#222" stroke-width="0.25">30</text>
<line x1="39.3" y1="358.5" x2="39.3" y2="361.5" stroke="#505050" stroke-width="1"/>
<text x="39.3" y="370.8" font-size="7" text-anchor="middle" fill="#222"  stroke="#222" stroke-width="0.25">0</text>
<line x1="64.7" y1="358.5" x2="64.7" y2="361.5" stroke="#505050" stroke-width="1"/>
<text x="64.7" y="370.8" font-size="7" text-anchor="middle" fill="#222"  stroke="#222" stroke-width="0.25">10</text>
<line x1="90.1" y1="358.5" x2="90.1" y2="361.5" stroke="#505050" stroke-width="1"/>
<text x="90.1" y="370.8" font-size="7" text-anchor="middle" fill="#222"  stroke="#222" stroke-width="0.25">20</text>
<line x1="115.5" y1="358.5" x2="115.5" y2="361.5" stroke="#505050" stroke-width="1"/>
<text x="115.5" y="370.8" font-size="7" text-anchor="middle" fill="#222"  stroke="#222" stroke-width="0.25">30</text>
<line x1="140.9" y1="358.5" x2="140.9" y2="361.5" stroke="#505050" stroke-width="1"/>
<text x="140.9" y="370.8" font-size="7" text-anchor="middle" fill="#222"  stroke="#222" stroke-width="0.25">40</text>
<line x1="166.2" y1="358.5" x2="166.2" y2="361.5" stroke="#505050" stroke-width="1"/>
<text x="166.2" y="370.8" font-size="7" text-anchor="middle" fill="#222"  stroke="#222" stroke-width="0.25">50</text>
<line x1="191.6" y1="358.5" x2="191.6" y2="361.5" stroke="#505050" stroke-width="1"/>
<text x="191.6" y="370.8" font-size="7" text-anchor="middle" fill="#222"  stroke="#222" stroke-width="0.25">60</text>
<line x1="217.0" y1="358.5" x2="217.0" y2="361.5" stroke="#505050" stroke-width="1"/>
<text x="217.0" y="370.8" font-size="7" text-anchor="middle" fill="#222"  stroke="#222" stroke-width="0.25">70</text>
<line x1="242.4" y1="358.5" x2="242.4" y2="361.5" stroke="#505050" stroke-width="1"/>
<text x="242.4" y="370.8" font-size="7" text-anchor="middle" fill="#222"  stroke="#222" stroke-width="0.25">80</text>
<text x="137.4" y="383.8" font-size="7.3" text-anchor="middle" fill="#222"  stroke="#222" stroke-width="0.25">Percent time of glucose levels in range [3.9-10 mmol/L]</text>
<text transform="translate(5.0,280.5) rotate(-90)" font-size="5.37" text-anchor="middle" fill="#222">Percent time of glucose levels &lt;3.9 mmol/L, measured by CGM</text>
<text x="2.4" y="197.2" font-size="15.4" text-anchor="start" fill="#000" font-weight="bold" stroke="#000" stroke-width="0.35">C</text>
<rect x="306.3" y="203.5" width="209.8" height="155.0" fill="none" stroke="#505050" stroke-width="1"/>
<line x1="302.8" y1="355.4" x2="306.3" y2="355.4" stroke="#505050" stroke-width="1"/>
<text x="300.3" y="358.4" font-size="7" text-anchor="end" fill="#222"  stroke="#222" stroke-width="0.25">0.0</text>
<line x1="302.8" y1="326.0" x2="306.3" y2="326.0" stroke="#505050" stroke-width="1"/>
<text x="300.3" y="329.0" font-size="7" text-anchor="end" fill="#222"  stroke="#222" stroke-width="0.25">2.5</text>
<line x1="302.8" y1="296.7" x2="306.3" y2="296.7" stroke="#505050" stroke-width="1"/>
<text x="300.3" y="299.7" font-size="7" text-anchor="end" fill="#222"  stroke="#222" stroke-width="0.25">5.0</text>
<line x1="302.8" y1="267.3" x2="306.3" y2="267.3" stroke="#505050" stroke-width="1"/>
<text x="300.3" y="270.3" font-size="7" text-anchor="end" fill="#222"  stroke="#222" stroke-width="0.25">7.5</text>
<line x1="302.8" y1="238.0" x2="306.3" y2="238.0" stroke="#505050" stroke-width="1"/>
<text x="300.3" y="241.0" font-size="7" text-anchor="end" fill="#222"  stroke="#222" stroke-width="0.25">10.0</text>
<line x1="302.8" y1="208.6" x2="306.3" y2="208.6" stroke="#505050" stroke-width="1"/>
<text x="300.3" y="211.6" font-size="7" text-anchor="end" fill="#222"  stroke="#222" stroke-width="0.25">12.5</text>
<line x1="317.0" y1="358.5" x2="317.0" y2="361.5" stroke="#505050" stroke-width="1"/>
<text x="317.0" y="370.8" font-size="7" text-anchor="middle" fill="#222"  stroke="#222" stroke-width="0.25">0</text>
<line x1="341.6" y1="358.5" x2="341.6" y2="361.5" stroke="#505050" stroke-width="1"/>
<text x="341.6" y="370.8" font-size="7" text-anchor="middle" fill="#222"  stroke="#222" stroke-width="0.25">10</text>
<line x1="366.1" y1="358.5" x2="366.1" y2="361.5" stroke="#505050" stroke-width="1"/>
<text x="366.1" y="370.8" font-size="7" text-anchor="middle" fill="#222"  stroke="#222" stroke-width="0.25">20</text>
<line x1="390.7" y1="358.5" x2="390.7" y2="361.5" stroke="#505050" stroke-width="1"/>
<text x="390.7" y="370.8" font-size="7" text-anchor="middle" fill="#222"  stroke="#222" stroke-width="0.25">30</text>
<line x1="415.2" y1="358.5" x2="415.2" y2="361.5" stroke="#505050" stroke-width="1"/>
<text x="415.2" y="370.8" font-size="7" text-anchor="middle" fill="#222"  stroke="#222" stroke-width="0.25">40</text>
<line x1="439.8" y1="358.5" x2="439.8" y2="361.5" stroke="#505050" stroke-width="1"/>
<text x="439.8" y="370.8" font-size="7" text-anchor="middle" fill="#222"  stroke="#222" stroke-width="0.25">50</text>
<line x1="464.4" y1="358.5" x2="464.4" y2="361.5" stroke="#505050" stroke-width="1"/>
<text x="464.4" y="370.8" font-size="7" text-anchor="middle" fill="#222"  stroke="#222" stroke-width="0.25">60</text>
<line x1="488.9" y1="358.5" x2="488.9" y2="361.5" stroke="#505050" stroke-width="1"/>
<text x="488.9" y="370.8" font-size="7" text-anchor="middle" fill="#222"  stroke="#222" stroke-width="0.25">70</text>
<line x1="513.5" y1="358.5" x2="513.5" y2="361.5" stroke="#505050" stroke-width="1"/>
<text x="513.5" y="370.8" font-size="7" text-anchor="middle" fill="#222"  stroke="#222" stroke-width="0.25">80</text>
<text x="411.8" y="383.8" font-size="7.3" text-anchor="middle" fill="#222"  stroke="#222" stroke-width="0.25">Percent time of glucose levels in range [3.9-10 mmol/L]</text>
<text transform="translate(276.9,280.9) rotate(-90)" font-size="5.35" text-anchor="middle" fill="#222">Percent time of glucose levels &lt;3.0 mmol/L, measured by CGM</text>
<text x="269.0" y="197.2" font-size="15.4" text-anchor="start" fill="#000" font-weight="bold" stroke="#000" stroke-width="0.35">D</text>
<rect x="113.1" y="30.4" width="21.2" height="2.6" fill="#e4e2c8"/>
<line x1="113.1" y1="31.7" x2="134.3" y2="31.7" stroke="#848c50" stroke-width="0.9"/>
<text x="137.0" y="34.5" font-size="6.45" text-anchor="start" fill="#222"  stroke="#222" stroke-width="0.25">At baseline</text>
<rect x="113.1" y="37.8" width="21.2" height="2.6" fill="#f8d0c8"/>
<line x1="113.1" y1="39.1" x2="134.3" y2="39.1" stroke="#d47476" stroke-width="0.9"/>
<text x="137.0" y="41.9" font-size="6.45" text-anchor="start" fill="#222"  stroke="#222" stroke-width="0.25">At the end of conventional treatment</text>
<rect x="113.1" y="45.2" width="21.2" height="2.6" fill="#cce0ec"/>
<line x1="113.1" y1="46.5" x2="134.3" y2="46.5" stroke="#6292ae" stroke-width="0.9"/>
<text x="137.0" y="49.3" font-size="6.45" text-anchor="start" fill="#222"  stroke="#222" stroke-width="0.25">At the end of CGM treatment</text>
<rect x="385.9" y="29.5" width="20.1" height="2.6" fill="#e4e2c8"/>
<line x1="385.9" y1="30.8" x2="406.0" y2="30.8" stroke="#848c50" stroke-width="0.9"/>
<text x="408.9" y="33.6" font-size="6.45" text-anchor="start" fill="#222"  stroke="#222" stroke-width="0.25">At baseline</text>
<rect x="385.9" y="37.5" width="20.1" height="2.6" fill="#f8d0c8"/>
<line x1="385.9" y1="38.8" x2="406.0" y2="38.8" stroke="#d47476" stroke-width="0.9"/>
<text x="408.9" y="41.6" font-size="6.45" text-anchor="start" fill="#222"  stroke="#222" stroke-width="0.25">At the end of conventional treatment</text>
<rect x="385.9" y="45.3" width="20.1" height="2.6" fill="#cce0ec"/>
<line x1="385.9" y1="46.6" x2="406.0" y2="46.6" stroke="#6292ae" stroke-width="0.9"/>
<text x="408.9" y="49.4" font-size="6.45" text-anchor="start" fill="#222"  stroke="#222" stroke-width="0.25">At the end of CGM treatment</text>
<rect x="115.0" y="207.9" width="21.9" height="2.6" fill="#e4e2c8"/>
<line x1="115.0" y1="209.2" x2="136.9" y2="209.2" stroke="#848c50" stroke-width="0.9"/>
<text x="139.0" y="211.4" font-size="6.45" text-anchor="start" fill="#222"  stroke="#222" stroke-width="0.25">At baseline</text>
<rect x="115.0" y="215.5" width="21.9" height="2.6" fill="#f8d0c8"/>
<line x1="115.0" y1="216.8" x2="136.9" y2="216.8" stroke="#d47476" stroke-width="0.9"/>
<text x="139.0" y="219.0" font-size="6.45" text-anchor="start" fill="#222"  stroke="#222" stroke-width="0.25">At the end of conventional treatment</text>
<rect x="115.0" y="222.6" width="21.9" height="2.6" fill="#cce0ec"/>
<line x1="115.0" y1="223.9" x2="136.9" y2="223.9" stroke="#6292ae" stroke-width="0.9"/>
<text x="139.0" y="226.1" font-size="6.45" text-anchor="start" fill="#222"  stroke="#222" stroke-width="0.25">At the end of CGM treatment</text>
<rect x="388.0" y="207.9" width="19.3" height="2.6" fill="#e4e2c8"/>
<line x1="388.0" y1="209.2" x2="407.3" y2="209.2" stroke="#848c50" stroke-width="0.9"/>
<text x="410.2" y="211.4" font-size="6.45" text-anchor="start" fill="#222"  stroke="#222" stroke-width="0.25">At baseline</text>
<rect x="388.0" y="215.4" width="19.3" height="2.6" fill="#f8d0c8"/>
<line x1="388.0" y1="216.7" x2="407.3" y2="216.7" stroke="#d47476" stroke-width="0.9"/>
<text x="410.2" y="218.9" font-size="6.45" text-anchor="start" fill="#222"  stroke="#222" stroke-width="0.25">At the end of conventional treatment</text>
<rect x="388.0" y="222.6" width="19.3" height="2.6" fill="#cce0ec"/>
<line x1="388.0" y1="223.9" x2="407.3" y2="223.9" stroke="#6292ae" stroke-width="0.9"/>
<text x="410.2" y="226.1" font-size="6.45" text-anchor="start" fill="#222"  stroke="#222" stroke-width="0.25">At the end of CGM treatment</text>
<text x="177.0" y="84.0" font-size="5.3" text-anchor="start" fill="#222"  stroke="#222" stroke-width="0.15">RR (95% CI), p=</text>
<text x="144.2" y="90.1" font-size="5.3" text-anchor="start" fill="#222"  stroke="#222" stroke-width="0.15">Baseline</text>
<text x="177.0" y="90.1" font-size="5.3" text-anchor="start" fill="#222"  stroke="#222" stroke-width="0.15">0.61 (0.52-0.71), p&lt;0.0001</text>
<text x="144.2" y="95.9" font-size="5.3" text-anchor="start" fill="#222"  stroke="#222" stroke-width="0.15">Conventional</text>
<text x="177.0" y="95.9" font-size="5.3" text-anchor="start" fill="#222"  stroke="#222" stroke-width="0.15">0.65 (0.55-0.76), p&lt;0.0001</text>
<text x="144.2" y="101.8" font-size="5.3" text-anchor="start" fill="#222"  stroke="#222" stroke-width="0.15">CGM</text>
<text x="177.0" y="101.8" font-size="5.3" text-anchor="start" fill="#222"  stroke="#222" stroke-width="0.15">0.56 (0.47-0.67), p&lt;0.0001</text>
<text x="449.8" y="84.8" font-size="5.3" text-anchor="start" fill="#222"  stroke="#222" stroke-width="0.15">RR (95% CI), p=</text>
<text x="415.9" y="90.1" font-size="5.3" text-anchor="start" fill="#222"  stroke="#222" stroke-width="0.15">Baseline</text>
<text x="449.8" y="90.1" font-size="5.3" text-anchor="start" fill="#222"  stroke="#222" stroke-width="0.15">0.57 (0.47-0.70), p&lt;0.0001</text>
<text x="415.9" y="96.0" font-size="5.3" text-anchor="start" fill="#222"  stroke="#222" stroke-width="0.15">Conventional</text>
<text x="449.8" y="96.0" font-size="5.3" text-anchor="start" fill="#222"  stroke="#222" stroke-width="0.15">0.67 (0.53-0.84), p=0.0005</text>
<text x="415.9" y="102.8" font-size="5.3" text-anchor="start" fill="#222"  stroke="#222" stroke-width="0.15">CGM</text>
<text x="449.8" y="102.8" font-size="5.3" text-anchor="start" fill="#222"  stroke="#222" stroke-width="0.15">0.56 (0.41-0.77), p=0.0004</text>
<text x="64.8" y="273.0" font-size="5.3" text-anchor="start" fill="#222"  stroke="#222" stroke-width="0.15">RR (95% CI), p=</text>
<text x="31.8" y="280.0" font-size="5.3" text-anchor="start" fill="#222"  stroke="#222" stroke-width="0.15">Baseline</text>
<text x="64.8" y="280.0" font-size="5.3" text-anchor="start" fill="#222"  stroke="#222" stroke-width="0.15">1.25 (1.12-1.40), p=0.0001</text>
<text x="31.8" y="286.0" font-size="5.3" text-anchor="start" fill="#222"  stroke="#222" stroke-width="0.15">Conventional</text>
<text x="64.8" y="286.0" font-size="5.3" text-anchor="start" fill="#222"  stroke="#222" stroke-width="0.15">1.30 (1.17-1.45), p&lt;0.0001</text>
<text x="31.8" y="293.0" font-size="5.3" text-anchor="start" fill="#222"  stroke="#222" stroke-width="0.15">CGM</text>
<text x="64.8" y="293.0" font-size="5.3" text-anchor="start" fill="#222"  stroke="#222" stroke-width="0.15">1.33 (1.21-1.45), p&lt;0.0001</text>
<text x="342.3" y="273.0" font-size="5.3" text-anchor="start" fill="#222"  stroke="#222" stroke-width="0.15">RR (95% CI), p=</text>
<text x="309.5" y="280.0" font-size="5.3" text-anchor="start" fill="#222"  stroke="#222" stroke-width="0.15">Baseline</text>
<text x="342.3" y="280.0" font-size="5.3" text-anchor="start" fill="#222"  stroke="#222" stroke-width="0.15">1.18 (1.04-1.34), p=0.012</text>
<text x="309.5" y="286.0" font-size="5.3" text-anchor="start" fill="#222"  stroke="#222" stroke-width="0.15">Conventional</text>
<text x="342.3" y="286.0" font-size="5.3" text-anchor="start" fill="#222"  stroke="#222" stroke-width="0.15">1.21 (1.06-1.39), p=0.0062</text>
<text x="309.5" y="293.0" font-size="5.3" text-anchor="start" fill="#222"  stroke="#222" stroke-width="0.15">CGM</text>
<text x="342.3" y="293.0" font-size="5.3" text-anchor="start" fill="#222"  stroke="#222" stroke-width="0.15">1.25 (1.11-1.40), p=0.0002</text>
</svg></body></html>
